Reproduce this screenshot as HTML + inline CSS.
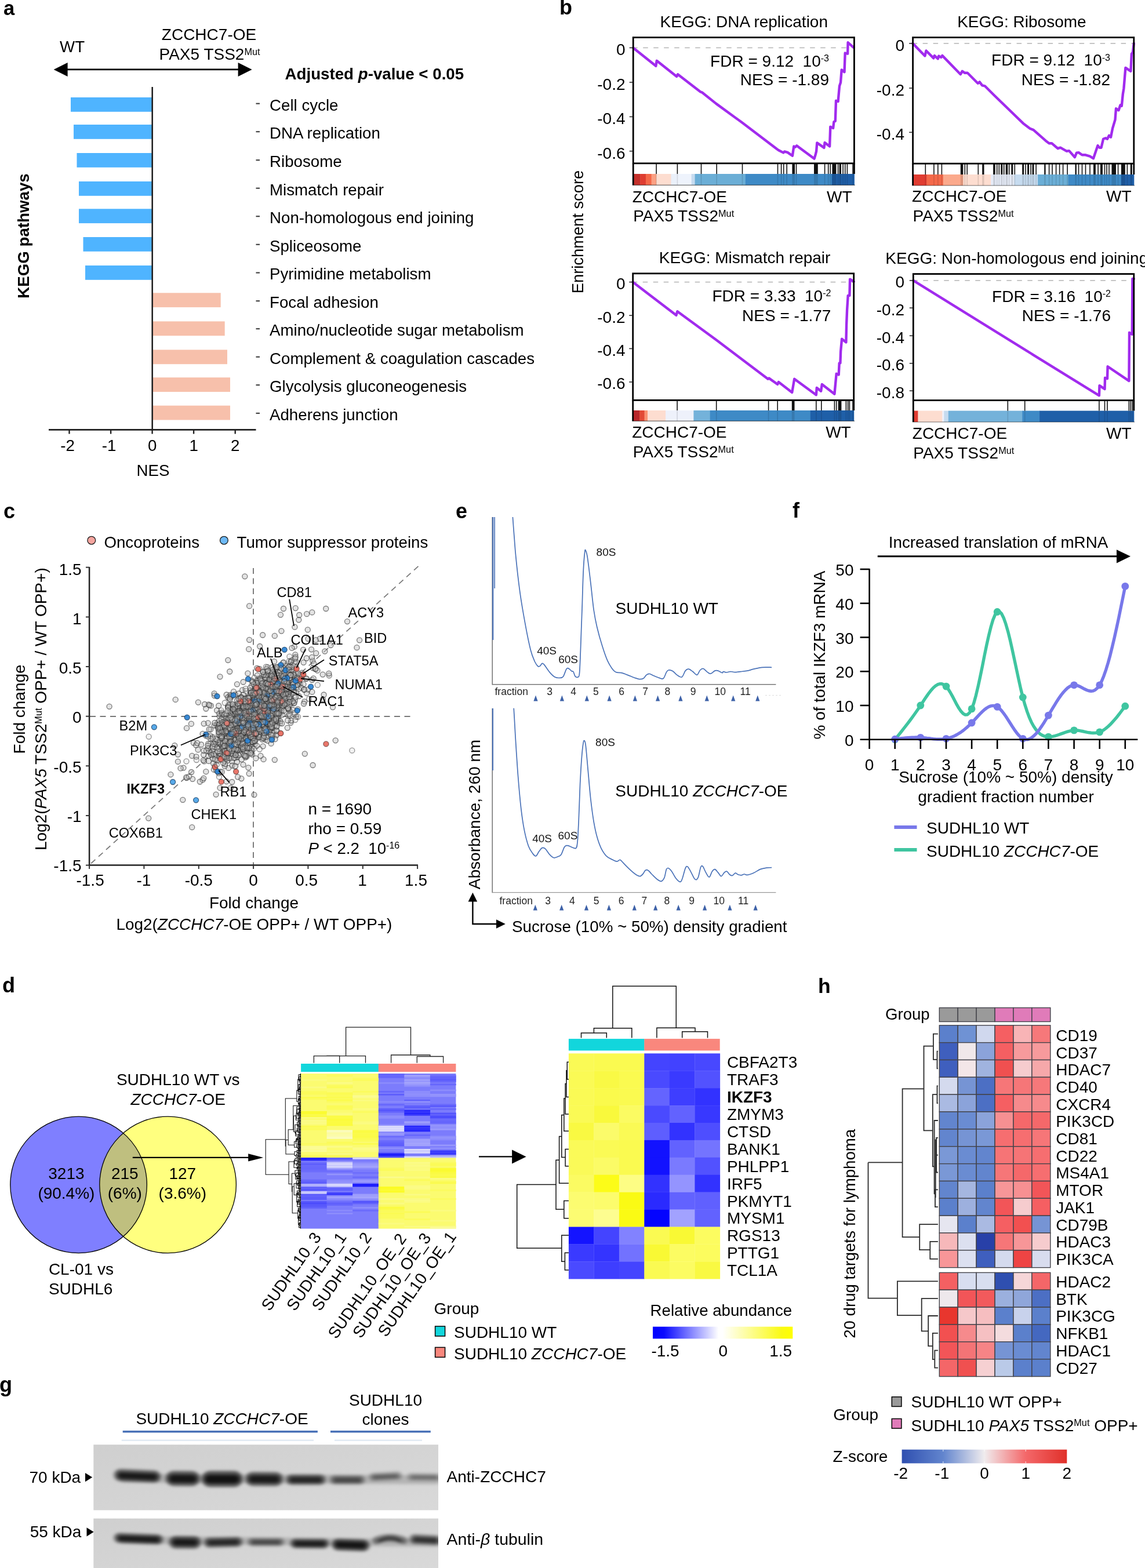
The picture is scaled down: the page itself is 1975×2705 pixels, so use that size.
<!DOCTYPE html>
<html lang="en"><head><meta charset="utf-8"><title>Figure</title>
<style>
html,body{margin:0;padding:0;background:#fff;}
body{width:1975px;height:2705px;overflow:hidden;}
svg{display:block;font-family:"Liberation Sans",sans-serif;font-size:27.7px;fill:#000;}
</style></head><body>
<svg width="1975" height="2705" viewBox="0 0 1975 2705">
<rect width="1975" height="2705" fill="#fff"/>
<g id="panel-a">
<text font-weight="bold" font-size="34.5" x="6" y="26.3">a</text>
<text font-size="27.7" x="103" y="90.2">WT</text>
<text text-anchor="middle" font-size="28" x="360.5" y="69.2">ZCCHC7-OE</text>
<text font-size="28" x="274.6" y="103">PAX5 TSS2<tspan font-size="16.3" dy="-8.5">Mut</tspan></text>
<line x1="110" y1="119.9" x2="418" y2="119.9" stroke="#000" stroke-width="2.6" />
<path d="M92.6 119.9 L116.6 107.9 L116.6 131.9Z" fill="#000"/>
<path d="M434.6 119.9 L410.6 107.9 L410.6 131.9Z" fill="#000"/>
<text font-weight="bold" font-size="27.7" x="491.6" y="137.3">Adjusted <tspan font-style="italic">p</tspan>-value &lt; 0.05</text>
<rect x="122" y="168" width="140.7" height="24.8" fill="#4FB4FF" />
<line x1="441.5" y1="178.7" x2="448" y2="178.7" stroke="#444" stroke-width="2.2" />
<text font-size="27.7" x="465" y="190.5">Cell cycle</text>
<rect x="127" y="215" width="135.7" height="24.8" fill="#4FB4FF" />
<line x1="441.5" y1="227.2" x2="448" y2="227.2" stroke="#444" stroke-width="2.2" />
<text font-size="27.7" x="465" y="239">DNA replication</text>
<rect x="132.5" y="264" width="130.2" height="24.8" fill="#4FB4FF" />
<line x1="441.5" y1="276.2" x2="448" y2="276.2" stroke="#444" stroke-width="2.2" />
<text font-size="27.7" x="465" y="288">Ribosome</text>
<rect x="136" y="313" width="126.7" height="24.8" fill="#4FB4FF" />
<line x1="441.5" y1="324.7" x2="448" y2="324.7" stroke="#444" stroke-width="2.2" />
<text font-size="27.7" x="465" y="336.5">Mismatch repair</text>
<rect x="136" y="360.3" width="126.7" height="24.8" fill="#4FB4FF" />
<line x1="441.5" y1="373.2" x2="448" y2="373.2" stroke="#444" stroke-width="2.2" />
<text font-size="27.7" x="465" y="385">Non-homologous end joining</text>
<rect x="143.5" y="409" width="119.2" height="24.8" fill="#4FB4FF" />
<line x1="441.5" y1="421.8" x2="448" y2="421.8" stroke="#444" stroke-width="2.2" />
<text font-size="27.7" x="465" y="433.6">Spliceosome</text>
<rect x="147" y="458" width="115.7" height="24.8" fill="#4FB4FF" />
<line x1="441.5" y1="470.5" x2="448" y2="470.5" stroke="#444" stroke-width="2.2" />
<text font-size="27.7" x="465" y="482.3">Pyrimidine metabolism</text>
<rect x="262.7" y="505.3" width="118" height="24.8" fill="#F7C0AB" />
<line x1="441.5" y1="519.2" x2="448" y2="519.2" stroke="#444" stroke-width="2.2" />
<text font-size="27.7" x="465" y="531">Focal adhesion</text>
<rect x="262.7" y="554.4" width="125" height="24.8" fill="#F7C0AB" />
<line x1="441.5" y1="567.2" x2="448" y2="567.2" stroke="#444" stroke-width="2.2" />
<text font-size="27.7" x="465" y="579">Amino/nucleotide sugar metabolism</text>
<rect x="262.7" y="603.4" width="129.3" height="24.8" fill="#F7C0AB" />
<line x1="441.5" y1="615.7" x2="448" y2="615.7" stroke="#444" stroke-width="2.2" />
<text font-size="27.7" x="465" y="627.5">Complement &amp; coagulation cascades</text>
<rect x="262.7" y="651.2" width="134.3" height="24.8" fill="#F7C0AB" />
<line x1="441.5" y1="664.2" x2="448" y2="664.2" stroke="#444" stroke-width="2.2" />
<text font-size="27.7" x="465" y="676">Glycolysis gluconeogenesis</text>
<rect x="262.7" y="699.7" width="134.3" height="24.8" fill="#F7C0AB" />
<line x1="441.5" y1="712.9" x2="448" y2="712.9" stroke="#444" stroke-width="2.2" />
<text font-size="27.7" x="465" y="724.7">Adherens junction</text>
<line x1="262.7" y1="150" x2="262.7" y2="742.6" stroke="#222" stroke-width="2.6" />
<line x1="84" y1="741.4" x2="441.5" y2="741.4" stroke="#222" stroke-width="2.6" />
<line x1="119.5" y1="741.4" x2="119.5" y2="748.5" stroke="#222" stroke-width="2.4" />
<text text-anchor="middle" font-size="27.7" x="116.5" y="778">-2</text>
<line x1="191.1" y1="741.4" x2="191.1" y2="748.5" stroke="#222" stroke-width="2.4" />
<text text-anchor="middle" font-size="27.7" x="188.1" y="778">-1</text>
<line x1="262.6" y1="741.4" x2="262.6" y2="748.5" stroke="#222" stroke-width="2.4" />
<text text-anchor="middle" font-size="27.7" x="262.6" y="778">0</text>
<line x1="334.1" y1="741.4" x2="334.1" y2="748.5" stroke="#222" stroke-width="2.4" />
<text text-anchor="middle" font-size="27.7" x="334.1" y="778">1</text>
<line x1="405.7" y1="741.4" x2="405.7" y2="748.5" stroke="#222" stroke-width="2.4" />
<text text-anchor="middle" font-size="27.7" x="405.7" y="778">2</text>
<text text-anchor="middle" font-size="27.7" x="264" y="821">NES</text>
<text text-anchor="middle" font-weight="bold" font-size="27.7" transform="translate(49.6 407) rotate(-90)">KEGG pathways</text>
</g>
<g id="panel-b">
<text font-weight="bold" font-size="36" x="965" y="24.8">b</text>
<text text-anchor="middle" font-size="27.3" transform="translate(1006.3 400) rotate(-90)">Enrichment score</text>
<rect x="1092.2" y="300" width="12.5" height="19.3" fill="#C4302B" />
<rect x="1104.2" y="300" width="10.2" height="19.3" fill="#DE3D31" />
<rect x="1113.9" y="300" width="10.2" height="19.3" fill="#F4694A" />
<rect x="1123.6" y="300" width="9" height="19.3" fill="#FBA083" />
<rect x="1132.1" y="300" width="25.9" height="19.3" fill="#FDDDD0" />
<rect x="1157.5" y="300" width="10.2" height="19.3" fill="#EAF0FA" />
<rect x="1167.2" y="300" width="25.9" height="19.3" fill="#EEF3FC" />
<rect x="1192.6" y="300" width="6.6" height="19.3" fill="#C6DBEF" />
<rect x="1198.6" y="300" width="87.7" height="19.3" fill="#6BAED6" />
<rect x="1285.8" y="300" width="149.4" height="19.3" fill="#3E8AC6" />
<rect x="1434.7" y="300" width="39.2" height="19.3" fill="#1F5FA8" />
<line x1="1132.1" y1="281.8" x2="1132.1" y2="300" stroke="#111" stroke-width="1.6" />
<line x1="1132.1" y1="300" x2="1132.1" y2="319.3" stroke="#000" stroke-width="1.6" opacity="0.12"/>
<line x1="1168.4" y1="281.8" x2="1168.4" y2="300" stroke="#111" stroke-width="1.6" />
<line x1="1168.4" y1="300" x2="1168.4" y2="319.3" stroke="#000" stroke-width="1.6" opacity="0.12"/>
<line x1="1209.5" y1="281.8" x2="1209.5" y2="300" stroke="#111" stroke-width="1.6" />
<line x1="1209.5" y1="300" x2="1209.5" y2="319.3" stroke="#000" stroke-width="1.6" opacity="0.12"/>
<line x1="1236.2" y1="281.8" x2="1236.2" y2="300" stroke="#111" stroke-width="1.6" />
<line x1="1236.2" y1="300" x2="1236.2" y2="319.3" stroke="#000" stroke-width="1.6" opacity="0.12"/>
<line x1="1280.5" y1="281.8" x2="1280.5" y2="300" stroke="#111" stroke-width="1.6" />
<line x1="1280.5" y1="300" x2="1280.5" y2="319.3" stroke="#000" stroke-width="1.6" opacity="0.12"/>
<line x1="1341.5" y1="281.8" x2="1341.5" y2="300" stroke="#111" stroke-width="1.6" />
<line x1="1341.5" y1="300" x2="1341.5" y2="319.3" stroke="#000" stroke-width="1.6" opacity="0.12"/>
<line x1="1347.6" y1="281.8" x2="1347.6" y2="300" stroke="#111" stroke-width="1.6" />
<line x1="1347.6" y1="300" x2="1347.6" y2="319.3" stroke="#000" stroke-width="1.6" opacity="0.12"/>
<line x1="1351.7" y1="281.8" x2="1351.7" y2="300" stroke="#111" stroke-width="1.6" />
<line x1="1351.7" y1="300" x2="1351.7" y2="319.3" stroke="#000" stroke-width="1.6" opacity="0.12"/>
<line x1="1357.2" y1="281.8" x2="1357.2" y2="300" stroke="#111" stroke-width="1.6" />
<line x1="1357.2" y1="300" x2="1357.2" y2="319.3" stroke="#000" stroke-width="1.6" opacity="0.12"/>
<rect x="1366.4" y="281.8" width="4.6" height="18.2" fill="#111" />
<rect x="1366.4" y="300" width="4.6" height="19.3" fill="#000" opacity="0.12"/>
<line x1="1373.5" y1="281.8" x2="1373.5" y2="300" stroke="#111" stroke-width="1.6" />
<line x1="1373.5" y1="300" x2="1373.5" y2="319.3" stroke="#000" stroke-width="1.6" opacity="0.12"/>
<rect x="1404" y="281.8" width="6.8" height="18.2" fill="#111" />
<rect x="1404" y="300" width="6.8" height="19.3" fill="#000" opacity="0.12"/>
<line x1="1422.6" y1="281.8" x2="1422.6" y2="300" stroke="#111" stroke-width="1.6" />
<line x1="1422.6" y1="300" x2="1422.6" y2="319.3" stroke="#000" stroke-width="1.6" opacity="0.12"/>
<line x1="1428.7" y1="281.8" x2="1428.7" y2="300" stroke="#111" stroke-width="1.6" />
<line x1="1428.7" y1="300" x2="1428.7" y2="319.3" stroke="#000" stroke-width="1.6" opacity="0.12"/>
<line x1="1432.3" y1="281.8" x2="1432.3" y2="300" stroke="#111" stroke-width="1.6" />
<line x1="1432.3" y1="300" x2="1432.3" y2="319.3" stroke="#000" stroke-width="1.6" opacity="0.12"/>
<rect x="1435.4" y="281.8" width="7" height="18.2" fill="#111" />
<rect x="1435.4" y="300" width="7" height="19.3" fill="#000" opacity="0.12"/>
<line x1="1445.6" y1="281.8" x2="1445.6" y2="300" stroke="#111" stroke-width="1.6" />
<line x1="1445.6" y1="300" x2="1445.6" y2="319.3" stroke="#000" stroke-width="1.6" opacity="0.12"/>
<rect x="1447.6" y="281.8" width="3.4" height="18.2" fill="#111" />
<rect x="1447.6" y="300" width="3.4" height="19.3" fill="#000" opacity="0.12"/>
<line x1="1454.1" y1="281.8" x2="1454.1" y2="300" stroke="#111" stroke-width="1.6" />
<line x1="1454.1" y1="300" x2="1454.1" y2="319.3" stroke="#000" stroke-width="1.6" opacity="0.12"/>
<line x1="1457.7" y1="281.8" x2="1457.7" y2="300" stroke="#111" stroke-width="1.6" />
<line x1="1457.7" y1="300" x2="1457.7" y2="319.3" stroke="#000" stroke-width="1.6" opacity="0.12"/>
<line x1="1461.4" y1="281.8" x2="1461.4" y2="300" stroke="#111" stroke-width="1.6" />
<line x1="1461.4" y1="300" x2="1461.4" y2="319.3" stroke="#000" stroke-width="1.6" opacity="0.12"/>
<line x1="1471" y1="281.8" x2="1471" y2="300" stroke="#111" stroke-width="1.6" />
<line x1="1471" y1="300" x2="1471" y2="319.3" stroke="#000" stroke-width="1.6" opacity="0.12"/>
<line x1="1092.2" y1="82.4" x2="1473.4" y2="82.4" stroke="#BDBDBD" stroke-width="1.6" stroke-dasharray="8.5 9.5" stroke-dashoffset="-17"/>
<path d="M1092.1 82.5 L1131.3 113.8 L1132.8 104.8 L1167.2 131.9 L1169.1 128.3 L1208.3 158.5 L1210.8 159.3 L1235 178.6 L1279.8 211.3 L1340.3 257.3 L1342.7 259 L1351.2 263.4 L1353.1 261.5 L1358.5 262.9 L1360.9 264.6 L1366.9 268.7 L1369.3 252.5 L1371.8 253.7 L1374.2 251.3 L1404.5 273.8 L1406.9 265.8 L1408.1 261 L1409.3 246.4 L1421.4 254.9 L1422.6 246 L1431.1 252.5 L1432.3 218.6 L1437.1 221 L1438.4 210.1 L1440.8 208.9 L1442 173.8 L1445.6 175 L1448 148.4 L1450 142.3 L1451.7 120.5 L1456.5 124.2 L1457.7 91.5 L1462.1 92.7 L1462.6 73.3 L1472.3 81.8" fill="none" stroke="#A12BEE" stroke-width="4.4" stroke-linejoin="round" stroke-linecap="round"/>
<rect x="1092.2" y="64.6" width="381.2" height="217.2" fill="none" stroke="#000" stroke-width="2.8" />
<line x1="1092.2" y1="281.8" x2="1092.2" y2="319.3" stroke="#000" stroke-width="2.8" />
<line x1="1473.4" y1="281.8" x2="1473.4" y2="300" stroke="#000" stroke-width="2.8" />
<line x1="1090.8" y1="319.3" x2="1474.8" y2="319.3" stroke="#000" stroke-width="1.2" opacity="0.55"/>
<line x1="1085.7" y1="82.4" x2="1091.2" y2="82.4" stroke="#333" stroke-width="1.6" />
<text text-anchor="end" font-size="28" x="1078.5" y="95.4">0</text>
<line x1="1085.7" y1="142" x2="1091.2" y2="142" stroke="#333" stroke-width="1.6" />
<text text-anchor="end" font-size="28" x="1078.5" y="155">-0.2</text>
<line x1="1085.7" y1="201.4" x2="1091.2" y2="201.4" stroke="#333" stroke-width="1.6" />
<text text-anchor="end" font-size="28" x="1078.5" y="214.4">-0.4</text>
<line x1="1085.7" y1="260.7" x2="1091.2" y2="260.7" stroke="#333" stroke-width="1.6" />
<text text-anchor="end" font-size="28" x="1078.5" y="273.7">-0.6</text>
<text text-anchor="middle" font-size="28" x="1283.3" y="47.3">KEGG: DNA replication</text>
<text text-anchor="end" font-size="28" x="1430" y="115">FDR = 9.12  10<tspan font-size="16" dy="-8.8">-3</tspan></text>
<text text-anchor="end" font-size="28" x="1430" y="147.2">NES = -1.89</text>
<text font-size="28" x="1090.7" y="348.6">ZCCHC7-OE</text>
<text font-size="28" x="1092.2" y="382">PAX5 TSS2<tspan font-size="16.3" dy="-8.5">Mut</tspan></text>
<text text-anchor="end" font-size="28" x="1469.5" y="348.6">WT</text>
<rect x="1574.6" y="301" width="24.3" height="19" fill="#E03C31" />
<rect x="1598.4" y="301" width="29" height="19" fill="#F4694A" />
<rect x="1626.8" y="301" width="35" height="19" fill="#FBA98C" />
<rect x="1661.3" y="301" width="48.4" height="19" fill="#FDDDD0" />
<rect x="1709.2" y="301" width="41" height="19" fill="#E6ECF8" />
<rect x="1749.7" y="301" width="41" height="19" fill="#C6DBEF" />
<rect x="1790.1" y="301" width="52.9" height="19" fill="#6BAED6" />
<rect x="1842.6" y="301" width="91.9" height="19" fill="#3E8AC6" />
<rect x="1933.9" y="301" width="22.4" height="19" fill="#1F5FA8" />
<line x1="1596.3" y1="282.2" x2="1596.3" y2="301" stroke="#111" stroke-width="1.6" />
<line x1="1596.3" y1="301" x2="1596.3" y2="320" stroke="#000" stroke-width="1.6" opacity="0.12"/>
<line x1="1610.9" y1="282.2" x2="1610.9" y2="301" stroke="#111" stroke-width="1.6" />
<line x1="1610.9" y1="301" x2="1610.9" y2="320" stroke="#000" stroke-width="1.6" opacity="0.12"/>
<line x1="1617.8" y1="282.2" x2="1617.8" y2="301" stroke="#111" stroke-width="1.6" />
<line x1="1617.8" y1="301" x2="1617.8" y2="320" stroke="#000" stroke-width="1.6" opacity="0.12"/>
<line x1="1624.4" y1="282.2" x2="1624.4" y2="301" stroke="#111" stroke-width="1.6" />
<line x1="1624.4" y1="301" x2="1624.4" y2="320" stroke="#000" stroke-width="1.6" opacity="0.12"/>
<rect x="1656.8" y="282.2" width="4.5" height="18.8" fill="#111" />
<rect x="1656.8" y="301" width="4.5" height="19" fill="#000" opacity="0.12"/>
<line x1="1664.3" y1="282.2" x2="1664.3" y2="301" stroke="#111" stroke-width="1.6" />
<line x1="1664.3" y1="301" x2="1664.3" y2="320" stroke="#000" stroke-width="1.6" opacity="0.12"/>
<line x1="1668.2" y1="282.2" x2="1668.2" y2="301" stroke="#111" stroke-width="1.6" />
<line x1="1668.2" y1="301" x2="1668.2" y2="320" stroke="#000" stroke-width="1.6" opacity="0.12"/>
<line x1="1687.3" y1="282.2" x2="1687.3" y2="301" stroke="#111" stroke-width="1.6" />
<line x1="1687.3" y1="301" x2="1687.3" y2="320" stroke="#000" stroke-width="1.6" opacity="0.12"/>
<rect x="1694.2" y="282.2" width="3.3" height="18.8" fill="#111" />
<rect x="1694.2" y="301" width="3.3" height="19" fill="#000" opacity="0.12"/>
<rect x="1713.1" y="282.2" width="3.6" height="18.8" fill="#111" />
<rect x="1713.1" y="301" width="3.6" height="19" fill="#000" opacity="0.12"/>
<line x1="1719.7" y1="282.2" x2="1719.7" y2="301" stroke="#111" stroke-width="1.6" />
<line x1="1719.7" y1="301" x2="1719.7" y2="320" stroke="#000" stroke-width="1.6" opacity="0.12"/>
<line x1="1723.3" y1="282.2" x2="1723.3" y2="301" stroke="#111" stroke-width="1.6" />
<line x1="1723.3" y1="301" x2="1723.3" y2="320" stroke="#000" stroke-width="1.6" opacity="0.12"/>
<rect x="1726.3" y="282.2" width="3" height="18.8" fill="#111" />
<rect x="1726.3" y="301" width="3" height="19" fill="#000" opacity="0.12"/>
<line x1="1731.7" y1="282.2" x2="1731.7" y2="301" stroke="#111" stroke-width="1.6" />
<line x1="1731.7" y1="301" x2="1731.7" y2="320" stroke="#000" stroke-width="1.6" opacity="0.12"/>
<rect x="1734.7" y="282.2" width="3.6" height="18.8" fill="#111" />
<rect x="1734.7" y="301" width="3.6" height="19" fill="#000" opacity="0.12"/>
<line x1="1740.7" y1="282.2" x2="1740.7" y2="301" stroke="#111" stroke-width="1.6" />
<line x1="1740.7" y1="301" x2="1740.7" y2="320" stroke="#000" stroke-width="1.6" opacity="0.12"/>
<rect x="1744.3" y="282.2" width="3" height="18.8" fill="#111" />
<rect x="1744.3" y="301" width="3" height="19" fill="#000" opacity="0.12"/>
<line x1="1750.3" y1="282.2" x2="1750.3" y2="301" stroke="#111" stroke-width="1.6" />
<line x1="1750.3" y1="301" x2="1750.3" y2="320" stroke="#000" stroke-width="1.6" opacity="0.12"/>
<rect x="1763.2" y="282.2" width="3" height="18.8" fill="#111" />
<rect x="1763.2" y="301" width="3" height="19" fill="#000" opacity="0.12"/>
<line x1="1769.1" y1="282.2" x2="1769.1" y2="301" stroke="#111" stroke-width="1.6" />
<line x1="1769.1" y1="301" x2="1769.1" y2="320" stroke="#000" stroke-width="1.6" opacity="0.12"/>
<rect x="1772.1" y="282.2" width="3" height="18.8" fill="#111" />
<rect x="1772.1" y="301" width="3" height="19" fill="#000" opacity="0.12"/>
<line x1="1778.1" y1="282.2" x2="1778.1" y2="301" stroke="#111" stroke-width="1.6" />
<line x1="1778.1" y1="301" x2="1778.1" y2="320" stroke="#000" stroke-width="1.6" opacity="0.12"/>
<rect x="1780.5" y="282.2" width="3" height="18.8" fill="#111" />
<rect x="1780.5" y="301" width="3" height="19" fill="#000" opacity="0.12"/>
<line x1="1787.1" y1="282.2" x2="1787.1" y2="301" stroke="#111" stroke-width="1.6" />
<line x1="1787.1" y1="301" x2="1787.1" y2="320" stroke="#000" stroke-width="1.6" opacity="0.12"/>
<rect x="1801.2" y="282.2" width="2.4" height="18.8" fill="#111" />
<rect x="1801.2" y="301" width="2.4" height="19" fill="#000" opacity="0.12"/>
<line x1="1809.6" y1="282.2" x2="1809.6" y2="301" stroke="#111" stroke-width="1.6" />
<line x1="1809.6" y1="301" x2="1809.6" y2="320" stroke="#000" stroke-width="1.6" opacity="0.12"/>
<line x1="1815" y1="282.2" x2="1815" y2="301" stroke="#111" stroke-width="1.6" />
<line x1="1815" y1="301" x2="1815" y2="320" stroke="#000" stroke-width="1.6" opacity="0.12"/>
<line x1="1821.6" y1="282.2" x2="1821.6" y2="301" stroke="#111" stroke-width="1.6" />
<line x1="1821.6" y1="301" x2="1821.6" y2="320" stroke="#000" stroke-width="1.6" opacity="0.12"/>
<line x1="1827.6" y1="282.2" x2="1827.6" y2="301" stroke="#111" stroke-width="1.6" />
<line x1="1827.6" y1="301" x2="1827.6" y2="320" stroke="#000" stroke-width="1.6" opacity="0.12"/>
<line x1="1833.6" y1="282.2" x2="1833.6" y2="301" stroke="#111" stroke-width="1.6" />
<line x1="1833.6" y1="301" x2="1833.6" y2="320" stroke="#000" stroke-width="1.6" opacity="0.12"/>
<line x1="1841.1" y1="282.2" x2="1841.1" y2="301" stroke="#111" stroke-width="1.6" />
<line x1="1841.1" y1="301" x2="1841.1" y2="320" stroke="#000" stroke-width="1.6" opacity="0.12"/>
<rect x="1854.5" y="282.2" width="2.4" height="18.8" fill="#111" />
<rect x="1854.5" y="301" width="2.4" height="19" fill="#000" opacity="0.12"/>
<line x1="1860.5" y1="282.2" x2="1860.5" y2="301" stroke="#111" stroke-width="1.6" />
<line x1="1860.5" y1="301" x2="1860.5" y2="320" stroke="#000" stroke-width="1.6" opacity="0.12"/>
<line x1="1866.5" y1="282.2" x2="1866.5" y2="301" stroke="#111" stroke-width="1.6" />
<line x1="1866.5" y1="301" x2="1866.5" y2="320" stroke="#000" stroke-width="1.6" opacity="0.12"/>
<line x1="1872.5" y1="282.2" x2="1872.5" y2="301" stroke="#111" stroke-width="1.6" />
<line x1="1872.5" y1="301" x2="1872.5" y2="320" stroke="#000" stroke-width="1.6" opacity="0.12"/>
<line x1="1880" y1="282.2" x2="1880" y2="301" stroke="#111" stroke-width="1.6" />
<line x1="1880" y1="301" x2="1880" y2="320" stroke="#000" stroke-width="1.6" opacity="0.12"/>
<rect x="1886" y="282.2" width="3.9" height="18.8" fill="#111" />
<rect x="1886" y="301" width="3.9" height="19" fill="#000" opacity="0.12"/>
<line x1="1894.1" y1="282.2" x2="1894.1" y2="301" stroke="#111" stroke-width="1.6" />
<line x1="1894.1" y1="301" x2="1894.1" y2="320" stroke="#000" stroke-width="1.6" opacity="0.12"/>
<rect x="1898" y="282.2" width="3.9" height="18.8" fill="#111" />
<rect x="1898" y="301" width="3.9" height="19" fill="#000" opacity="0.12"/>
<line x1="1905.5" y1="282.2" x2="1905.5" y2="301" stroke="#111" stroke-width="1.6" />
<line x1="1905.5" y1="301" x2="1905.5" y2="320" stroke="#000" stroke-width="1.6" opacity="0.12"/>
<line x1="1909.1" y1="282.2" x2="1909.1" y2="301" stroke="#111" stroke-width="1.6" />
<line x1="1909.1" y1="301" x2="1909.1" y2="320" stroke="#000" stroke-width="1.6" opacity="0.12"/>
<line x1="1913" y1="282.2" x2="1913" y2="301" stroke="#111" stroke-width="1.6" />
<line x1="1913" y1="301" x2="1913" y2="320" stroke="#000" stroke-width="1.6" opacity="0.12"/>
<rect x="1917.5" y="282.2" width="7.5" height="18.8" fill="#111" />
<rect x="1917.5" y="301" width="7.5" height="19" fill="#000" opacity="0.12"/>
<line x1="1928.6" y1="282.2" x2="1928.6" y2="301" stroke="#111" stroke-width="1.6" />
<line x1="1928.6" y1="301" x2="1928.6" y2="320" stroke="#000" stroke-width="1.6" opacity="0.12"/>
<rect x="1933.9" y="282.2" width="6.9" height="18.8" fill="#111" />
<rect x="1933.9" y="301" width="6.9" height="19" fill="#000" opacity="0.12"/>
<line x1="1944.4" y1="282.2" x2="1944.4" y2="301" stroke="#111" stroke-width="1.6" />
<line x1="1944.4" y1="301" x2="1944.4" y2="320" stroke="#000" stroke-width="1.6" opacity="0.12"/>
<rect x="1949.8" y="282.2" width="3" height="18.8" fill="#111" />
<rect x="1949.8" y="301" width="3" height="19" fill="#000" opacity="0.12"/>
<line x1="1574.6" y1="74.9" x2="1955.8" y2="74.9" stroke="#BDBDBD" stroke-width="1.6" stroke-dasharray="8.5 9.5" stroke-dashoffset="-17"/>
<path d="M1574.4 74.9 L1595.4 96.5 L1597.5 87.5 L1610.3 100.4 L1611.8 95.9 L1617.8 101.3 L1619.3 96.5 L1623.2 98.9 L1625.3 95.9 L1656.8 128.2 L1659.8 122.9 L1664.3 125.8 L1668.8 125.8 L1686.7 143.8 L1689.7 141.4 L1694.2 147.4 L1698.7 148.3 L1713.7 163.3 L1764.7 212.7 L1776.6 221.7 L1782.6 224.1 L1803.6 242.7 L1809.6 247.2 L1814.1 247.2 L1824.6 256.2 L1829.1 254.7 L1839.6 260.7 L1844.1 260.1 L1853.9 271.2 L1856.9 263.7 L1860.5 263.1 L1866.5 267.3 L1872.5 267.3 L1880 269.7 L1886 273.3 L1893.5 251.1 L1896.5 254.7 L1899.5 254.7 L1903.1 239.7 L1907 238.2 L1910 239.7 L1913 233.7 L1916 236.7 L1919 221.7 L1923.5 206.7 L1925 187.3 L1929.5 190.3 L1932.5 181.3 L1934.8 182.8 L1936.9 161.8 L1938.4 152.8 L1941.4 116.9 L1950.4 122.9 L1951.9 92.9 L1954 89.9 L1955.8 74.9" fill="none" stroke="#A12BEE" stroke-width="4.4" stroke-linejoin="round" stroke-linecap="round"/>
<rect x="1574.6" y="64.6" width="381.2" height="217.6" fill="none" stroke="#000" stroke-width="2.8" />
<line x1="1574.6" y1="282.2" x2="1574.6" y2="320" stroke="#000" stroke-width="2.8" />
<line x1="1955.8" y1="282.2" x2="1955.8" y2="301" stroke="#000" stroke-width="2.8" />
<line x1="1573.2" y1="320" x2="1957.2" y2="320" stroke="#000" stroke-width="1.2" opacity="0.55"/>
<line x1="1568.1" y1="74.9" x2="1573.6" y2="74.9" stroke="#333" stroke-width="1.6" />
<text text-anchor="end" font-size="28" x="1560" y="87.9">0</text>
<line x1="1568.1" y1="152" x2="1573.6" y2="152" stroke="#333" stroke-width="1.6" />
<text text-anchor="end" font-size="28" x="1560" y="165">-0.2</text>
<line x1="1568.1" y1="228.3" x2="1573.6" y2="228.3" stroke="#333" stroke-width="1.6" />
<text text-anchor="end" font-size="28" x="1560" y="241.3">-0.4</text>
<text text-anchor="middle" font-size="28" x="1762.4" y="47.3">KEGG: Ribosome</text>
<text text-anchor="end" font-size="28" x="1915" y="113.3">FDR = 9.12  10<tspan font-size="16" dy="-8.8">-3</tspan></text>
<text text-anchor="end" font-size="28" x="1915" y="147.4">NES = -1.82</text>
<text font-size="28" x="1573.1" y="347.6">ZCCHC7-OE</text>
<text font-size="28" x="1574.6" y="382">PAX5 TSS2<tspan font-size="16.3" dy="-8.5">Mut</tspan></text>
<text text-anchor="end" font-size="28" x="1951.5" y="347.6">WT</text>
<rect x="1091.7" y="708" width="12" height="18.3" fill="#B7262A" />
<rect x="1103.2" y="708" width="8.8" height="18.3" fill="#E24A36" />
<rect x="1111.5" y="708" width="6.2" height="18.3" fill="#FA9272" />
<rect x="1117.1" y="708" width="31.5" height="18.3" fill="#FDDDD0" />
<rect x="1148.1" y="708" width="48.8" height="18.3" fill="#EEF1FB" />
<rect x="1196.4" y="708" width="28.8" height="18.3" fill="#74B2DA" />
<rect x="1224.7" y="708" width="173.6" height="18.3" fill="#3E8AC6" />
<rect x="1397.8" y="708" width="75.4" height="18.3" fill="#1F5FA8" />
<line x1="1168.1" y1="690.4" x2="1168.1" y2="708" stroke="#111" stroke-width="1.6" />
<line x1="1168.1" y1="708" x2="1168.1" y2="726.3" stroke="#000" stroke-width="1.6" opacity="0.12"/>
<line x1="1235.7" y1="690.4" x2="1235.7" y2="708" stroke="#111" stroke-width="1.6" />
<line x1="1235.7" y1="708" x2="1235.7" y2="726.3" stroke="#000" stroke-width="1.6" opacity="0.12"/>
<line x1="1325.6" y1="690.4" x2="1325.6" y2="708" stroke="#111" stroke-width="1.6" />
<line x1="1325.6" y1="708" x2="1325.6" y2="726.3" stroke="#000" stroke-width="1.6" opacity="0.12"/>
<line x1="1341.2" y1="690.4" x2="1341.2" y2="708" stroke="#111" stroke-width="1.6" />
<line x1="1341.2" y1="708" x2="1341.2" y2="726.3" stroke="#000" stroke-width="1.6" opacity="0.12"/>
<rect x="1365.8" y="690.4" width="4.7" height="17.6" fill="#111" />
<rect x="1365.8" y="708" width="4.7" height="18.3" fill="#000" opacity="0.12"/>
<line x1="1407.8" y1="690.4" x2="1407.8" y2="708" stroke="#111" stroke-width="1.6" />
<line x1="1407.8" y1="708" x2="1407.8" y2="726.3" stroke="#000" stroke-width="1.6" opacity="0.12"/>
<line x1="1416.8" y1="690.4" x2="1416.8" y2="708" stroke="#111" stroke-width="1.6" />
<line x1="1416.8" y1="708" x2="1416.8" y2="726.3" stroke="#000" stroke-width="1.6" opacity="0.12"/>
<line x1="1439.4" y1="690.4" x2="1439.4" y2="708" stroke="#111" stroke-width="1.6" />
<line x1="1439.4" y1="708" x2="1439.4" y2="726.3" stroke="#000" stroke-width="1.6" opacity="0.12"/>
<line x1="1442.7" y1="690.4" x2="1442.7" y2="708" stroke="#111" stroke-width="1.6" />
<line x1="1442.7" y1="708" x2="1442.7" y2="726.3" stroke="#000" stroke-width="1.6" opacity="0.12"/>
<rect x="1445.7" y="690.4" width="5.7" height="17.6" fill="#111" />
<rect x="1445.7" y="708" width="5.7" height="18.3" fill="#000" opacity="0.12"/>
<line x1="1459.4" y1="690.4" x2="1459.4" y2="708" stroke="#111" stroke-width="1.6" />
<line x1="1459.4" y1="708" x2="1459.4" y2="726.3" stroke="#000" stroke-width="1.6" opacity="0.12"/>
<line x1="1462.7" y1="690.4" x2="1462.7" y2="708" stroke="#111" stroke-width="1.6" />
<line x1="1462.7" y1="708" x2="1462.7" y2="726.3" stroke="#000" stroke-width="1.6" opacity="0.12"/>
<line x1="1465.4" y1="690.4" x2="1465.4" y2="708" stroke="#111" stroke-width="1.6" />
<line x1="1465.4" y1="708" x2="1465.4" y2="726.3" stroke="#000" stroke-width="1.6" opacity="0.12"/>
<line x1="1471" y1="690.4" x2="1471" y2="708" stroke="#111" stroke-width="1.6" />
<line x1="1471" y1="708" x2="1471" y2="726.3" stroke="#000" stroke-width="1.6" opacity="0.12"/>
<line x1="1091.7" y1="486.6" x2="1472.7" y2="486.6" stroke="#BDBDBD" stroke-width="1.6" stroke-dasharray="8.5 9.5" stroke-dashoffset="-17"/>
<path d="M1091.5 486.6 L1166.4 543.8 L1168.4 537.2 L1236.3 587.1 L1324.6 653.7 L1326.2 652.4 L1341.2 663 L1342.9 659 L1366.2 677 L1370.2 653.7 L1407.8 681.3 L1408.8 669 L1416.1 674.7 L1417.8 663 L1439.4 679.7 L1442.7 644.7 L1446.7 646.4 L1447.7 626.4 L1449.4 626.4 L1450.1 606.4 L1452.1 584.8 L1459.4 590.4 L1460.1 559.8 L1461.1 534.8 L1462.7 509.9 L1465.4 509.9 L1466.1 481.6 L1472.7 485.9" fill="none" stroke="#A12BEE" stroke-width="4.4" stroke-linejoin="round" stroke-linecap="round"/>
<rect x="1091.7" y="471.8" width="381" height="218.6" fill="none" stroke="#000" stroke-width="2.8" />
<line x1="1091.7" y1="690.4" x2="1091.7" y2="726.3" stroke="#000" stroke-width="2.8" />
<line x1="1472.7" y1="690.4" x2="1472.7" y2="708" stroke="#000" stroke-width="2.8" />
<line x1="1090.3" y1="726.3" x2="1474.1" y2="726.3" stroke="#000" stroke-width="1.2" opacity="0.55"/>
<line x1="1085.2" y1="486.6" x2="1090.7" y2="486.6" stroke="#333" stroke-width="1.6" />
<text text-anchor="end" font-size="28" x="1078.5" y="498.9">0</text>
<line x1="1085.2" y1="544.2" x2="1090.7" y2="544.2" stroke="#333" stroke-width="1.6" />
<text text-anchor="end" font-size="28" x="1078.5" y="556.5">-0.2</text>
<line x1="1085.2" y1="601.4" x2="1090.7" y2="601.4" stroke="#333" stroke-width="1.6" />
<text text-anchor="end" font-size="28" x="1078.5" y="613.7">-0.4</text>
<line x1="1085.2" y1="659" x2="1090.7" y2="659" stroke="#333" stroke-width="1.6" />
<text text-anchor="end" font-size="28" x="1078.5" y="671.3">-0.6</text>
<text text-anchor="middle" font-size="28" x="1284.6" y="454">KEGG: Mismatch repair</text>
<text text-anchor="end" font-size="28" x="1433.4" y="520">FDR = 3.33  10<tspan font-size="16" dy="-8.8">-2</tspan></text>
<text text-anchor="end" font-size="28" x="1433.4" y="554">NES = -1.77</text>
<text font-size="28" x="1090.2" y="754.6">ZCCHC7-OE</text>
<text font-size="28" x="1091.7" y="789">PAX5 TSS2<tspan font-size="16.3" dy="-8.5">Mut</tspan></text>
<text text-anchor="end" font-size="28" x="1467.7" y="754.6">WT</text>
<rect x="1575.3" y="708.6" width="8.6" height="19.4" fill="#E03C31" />
<rect x="1583.4" y="708.6" width="42.4" height="19.4" fill="#FDDDD0" />
<rect x="1625.3" y="708.6" width="3.5" height="19.4" fill="#EEF1FB" />
<rect x="1628.3" y="708.6" width="8" height="19.4" fill="#C6DBEF" />
<rect x="1635.8" y="708.6" width="127.8" height="19.4" fill="#74B2DA" />
<rect x="1763.2" y="708.6" width="30.5" height="19.4" fill="#3E8AC6" />
<rect x="1793.1" y="708.6" width="163.2" height="19.4" fill="#1F5FA8" />
<line x1="1738.3" y1="690.6" x2="1738.3" y2="708.6" stroke="#111" stroke-width="1.6" />
<line x1="1738.3" y1="708.6" x2="1738.3" y2="728" stroke="#000" stroke-width="1.6" opacity="0.12"/>
<line x1="1767.7" y1="690.6" x2="1767.7" y2="708.6" stroke="#111" stroke-width="1.6" />
<line x1="1767.7" y1="708.6" x2="1767.7" y2="728" stroke="#000" stroke-width="1.6" opacity="0.12"/>
<line x1="1895.9" y1="690.6" x2="1895.9" y2="708.6" stroke="#111" stroke-width="1.6" />
<line x1="1895.9" y1="708.6" x2="1895.9" y2="728" stroke="#000" stroke-width="1.6" opacity="0.12"/>
<line x1="1905.5" y1="690.6" x2="1905.5" y2="708.6" stroke="#111" stroke-width="1.6" />
<line x1="1905.5" y1="708.6" x2="1905.5" y2="728" stroke="#000" stroke-width="1.6" opacity="0.12"/>
<line x1="1910" y1="690.6" x2="1910" y2="708.6" stroke="#111" stroke-width="1.6" />
<line x1="1910" y1="708.6" x2="1910" y2="728" stroke="#000" stroke-width="1.6" opacity="0.12"/>
<line x1="1947.4" y1="690.6" x2="1947.4" y2="708.6" stroke="#111" stroke-width="1.6" />
<line x1="1947.4" y1="708.6" x2="1947.4" y2="728" stroke="#000" stroke-width="1.6" opacity="0.12"/>
<line x1="1950.4" y1="690.6" x2="1950.4" y2="708.6" stroke="#111" stroke-width="1.6" />
<line x1="1950.4" y1="708.6" x2="1950.4" y2="728" stroke="#000" stroke-width="1.6" opacity="0.12"/>
<line x1="1953.4" y1="690.6" x2="1953.4" y2="708.6" stroke="#111" stroke-width="1.6" />
<line x1="1953.4" y1="708.6" x2="1953.4" y2="728" stroke="#000" stroke-width="1.6" opacity="0.12"/>
<line x1="1575.3" y1="483.9" x2="1955.8" y2="483.9" stroke="#BDBDBD" stroke-width="1.6" stroke-dasharray="8.5 9.5" stroke-dashoffset="-17"/>
<path d="M1575.3 483.9 L1767.7 603.2 L1895.9 682.3 L1896.5 665.2 L1905.5 671.2 L1906.1 651.7 L1910 653.2 L1910.6 632.2 L1947.4 657.1 L1948 573.8 L1952.8 576.8 L1953.4 480.9 L1955.8 480.9" fill="none" stroke="#A12BEE" stroke-width="4.4" stroke-linejoin="round" stroke-linecap="round"/>
<rect x="1575.3" y="472.6" width="380.5" height="218" fill="none" stroke="#000" stroke-width="2.8" />
<line x1="1575.3" y1="690.6" x2="1575.3" y2="728" stroke="#000" stroke-width="2.8" />
<line x1="1955.8" y1="690.6" x2="1955.8" y2="708.6" stroke="#000" stroke-width="2.8" />
<line x1="1573.9" y1="728" x2="1957.2" y2="728" stroke="#000" stroke-width="1.2" opacity="0.55"/>
<line x1="1568.8" y1="483.9" x2="1574.3" y2="483.9" stroke="#333" stroke-width="1.6" />
<text text-anchor="end" font-size="28" x="1560" y="496.2">0</text>
<line x1="1568.8" y1="531.2" x2="1574.3" y2="531.2" stroke="#333" stroke-width="1.6" />
<text text-anchor="end" font-size="28" x="1560" y="543.5">-0.2</text>
<line x1="1568.8" y1="579.2" x2="1574.3" y2="579.2" stroke="#333" stroke-width="1.6" />
<text text-anchor="end" font-size="28" x="1560" y="591.5">-0.4</text>
<line x1="1568.8" y1="626.8" x2="1574.3" y2="626.8" stroke="#333" stroke-width="1.6" />
<text text-anchor="end" font-size="28" x="1560" y="639.1">-0.6</text>
<line x1="1568.8" y1="674.2" x2="1574.3" y2="674.2" stroke="#333" stroke-width="1.6" />
<text text-anchor="end" font-size="28" x="1560" y="686.5">-0.8</text>
<text font-size="28" x="1527.3" y="454.5">KEGG: Non-homologous end joining</text>
<text text-anchor="end" font-size="28" x="1916" y="520.5">FDR = 3.16  10<tspan font-size="16" dy="-8.8">-2</tspan></text>
<text text-anchor="end" font-size="28" x="1916" y="554.3">NES = -1.76</text>
<text font-size="28" x="1573.8" y="756.6">ZCCHC7-OE</text>
<text font-size="28" x="1575.3" y="791">PAX5 TSS2<tspan font-size="16.3" dy="-8.5">Mut</tspan></text>
<text text-anchor="end" font-size="28" x="1951.5" y="756.6">WT</text>
</g>
<g id="panel-c">
<text font-weight="bold" font-size="36" x="6" y="894.2">c</text>
<circle cx="157.8" cy="932.2" r="6.9" fill="#F5A59F" stroke="#1a1a1a" stroke-width="1.3" />
<text font-size="27.7" x="179.4" y="945.2">Oncoproteins</text>
<circle cx="386.4" cy="932.2" r="6.9" fill="#6DB9F6" stroke="#1a1a1a" stroke-width="1.3" />
<text font-size="27.7" x="408.5" y="945.2">Tumor suppressor proteins</text>
<line x1="437" y1="980" x2="437" y2="1492" stroke="#666" stroke-width="1.7" stroke-dasharray="10 7.5"/>
<line x1="155" y1="1235.9" x2="715" y2="1235.9" stroke="#666" stroke-width="1.7" stroke-dasharray="10 7.5"/>
<line x1="157" y1="1489.5" x2="723" y2="975.5" stroke="#777" stroke-width="1.7" stroke-dasharray="10 7.5"/>
<g fill="#bdbdbd" fill-opacity="0.42" stroke="#262626" stroke-opacity="0.58" stroke-width="1.3">
<circle cx="478.5" cy="1188.8" r="4.5"/>
<circle cx="485.5" cy="1168.7" r="4.5"/>
<circle cx="417.5" cy="1236.0" r="4.5"/>
<circle cx="434.1" cy="1223.6" r="4.5"/>
<circle cx="443.2" cy="1210.7" r="4.5"/>
<circle cx="466.2" cy="1254.7" r="4.5"/>
<circle cx="450.4" cy="1203.2" r="4.5"/>
<circle cx="496.7" cy="1162.4" r="4.5"/>
<circle cx="431.1" cy="1227.1" r="4.5"/>
<circle cx="479.2" cy="1200.7" r="4.5"/>
<circle cx="405.5" cy="1260.5" r="4.5"/>
<circle cx="447.4" cy="1201.5" r="4.5"/>
<circle cx="499.6" cy="1205.9" r="4.5"/>
<circle cx="491.4" cy="1206.7" r="4.5"/>
<circle cx="436.0" cy="1191.3" r="4.5"/>
<circle cx="482.5" cy="1180.5" r="4.5"/>
<circle cx="381.1" cy="1284.9" r="4.5"/>
<circle cx="432.3" cy="1222.1" r="4.5"/>
<circle cx="433.8" cy="1229.5" r="4.5"/>
<circle cx="429.1" cy="1226.4" r="4.5"/>
<circle cx="456.4" cy="1186.0" r="4.5"/>
<circle cx="424.4" cy="1256.8" r="4.5"/>
<circle cx="428.5" cy="1258.3" r="4.5"/>
<circle cx="400.5" cy="1301.9" r="4.5"/>
<circle cx="447.1" cy="1215.6" r="4.5"/>
<circle cx="421.2" cy="1221.2" r="4.5"/>
<circle cx="440.4" cy="1207.7" r="4.5"/>
<circle cx="388.7" cy="1264.1" r="4.5"/>
<circle cx="482.4" cy="1196.5" r="4.5"/>
<circle cx="403.5" cy="1284.7" r="4.5"/>
<circle cx="479.2" cy="1223.7" r="4.5"/>
<circle cx="385.8" cy="1299.3" r="4.5"/>
<circle cx="453.0" cy="1209.1" r="4.5"/>
<circle cx="452.2" cy="1215.8" r="4.5"/>
<circle cx="421.6" cy="1243.3" r="4.5"/>
<circle cx="411.8" cy="1253.7" r="4.5"/>
<circle cx="435.0" cy="1228.5" r="4.5"/>
<circle cx="438.8" cy="1219.5" r="4.5"/>
<circle cx="394.2" cy="1324.9" r="4.5"/>
<circle cx="484.4" cy="1183.3" r="4.5"/>
<circle cx="441.4" cy="1223.2" r="4.5"/>
<circle cx="363.3" cy="1258.3" r="4.5"/>
<circle cx="442.0" cy="1223.4" r="4.5"/>
<circle cx="380.9" cy="1301.0" r="4.5"/>
<circle cx="420.7" cy="1242.2" r="4.5"/>
<circle cx="462.2" cy="1213.7" r="4.5"/>
<circle cx="495.7" cy="1218.9" r="4.5"/>
<circle cx="447.4" cy="1221.5" r="4.5"/>
<circle cx="395.9" cy="1247.1" r="4.5"/>
<circle cx="427.4" cy="1161.7" r="4.5"/>
<circle cx="468.2" cy="1191.3" r="4.5"/>
<circle cx="431.7" cy="1276.0" r="4.5"/>
<circle cx="472.0" cy="1227.0" r="4.5"/>
<circle cx="437.7" cy="1249.4" r="4.5"/>
<circle cx="419.7" cy="1211.2" r="4.5"/>
<circle cx="421.1" cy="1260.8" r="4.5"/>
<circle cx="379.0" cy="1303.0" r="4.5"/>
<circle cx="434.2" cy="1252.2" r="4.5"/>
<circle cx="434.9" cy="1217.6" r="4.5"/>
<circle cx="426.2" cy="1218.7" r="4.5"/>
<circle cx="463.8" cy="1216.7" r="4.5"/>
<circle cx="442.5" cy="1210.6" r="4.5"/>
<circle cx="443.5" cy="1238.4" r="4.5"/>
<circle cx="426.5" cy="1291.0" r="4.5"/>
<circle cx="410.2" cy="1236.5" r="4.5"/>
<circle cx="431.7" cy="1255.2" r="4.5"/>
<circle cx="376.0" cy="1254.3" r="4.5"/>
<circle cx="437.9" cy="1255.9" r="4.5"/>
<circle cx="444.3" cy="1225.1" r="4.5"/>
<circle cx="457.2" cy="1209.6" r="4.5"/>
<circle cx="391.1" cy="1263.9" r="4.5"/>
<circle cx="381.9" cy="1250.7" r="4.5"/>
<circle cx="473.0" cy="1208.6" r="4.5"/>
<circle cx="410.9" cy="1255.8" r="4.5"/>
<circle cx="484.8" cy="1197.3" r="4.5"/>
<circle cx="440.9" cy="1266.3" r="4.5"/>
<circle cx="407.6" cy="1263.2" r="4.5"/>
<circle cx="435.0" cy="1290.0" r="4.5"/>
<circle cx="424.3" cy="1275.8" r="4.5"/>
<circle cx="437.3" cy="1208.5" r="4.5"/>
<circle cx="415.5" cy="1247.7" r="4.5"/>
<circle cx="352.2" cy="1313.4" r="4.5"/>
<circle cx="501.4" cy="1246.8" r="4.5"/>
<circle cx="467.5" cy="1221.3" r="4.5"/>
<circle cx="419.5" cy="1246.3" r="4.5"/>
<circle cx="408.9" cy="1291.2" r="4.5"/>
<circle cx="440.8" cy="1205.6" r="4.5"/>
<circle cx="436.3" cy="1264.8" r="4.5"/>
<circle cx="380.5" cy="1302.9" r="4.5"/>
<circle cx="404.2" cy="1225.2" r="4.5"/>
<circle cx="417.8" cy="1261.9" r="4.5"/>
<circle cx="387.0" cy="1243.8" r="4.5"/>
<circle cx="425.7" cy="1246.9" r="4.5"/>
<circle cx="423.0" cy="1249.6" r="4.5"/>
<circle cx="463.1" cy="1263.2" r="4.5"/>
<circle cx="436.4" cy="1241.3" r="4.5"/>
<circle cx="467.5" cy="1185.9" r="4.5"/>
<circle cx="364.9" cy="1298.3" r="4.5"/>
<circle cx="438.4" cy="1371.1" r="4.5"/>
<circle cx="429.3" cy="1257.1" r="4.5"/>
<circle cx="431.6" cy="1265.0" r="4.5"/>
<circle cx="483.3" cy="1186.7" r="4.5"/>
<circle cx="465.9" cy="1170.5" r="4.5"/>
<circle cx="488.5" cy="1143.4" r="4.5"/>
<circle cx="455.4" cy="1203.4" r="4.5"/>
<circle cx="466.7" cy="1174.1" r="4.5"/>
<circle cx="442.2" cy="1243.4" r="4.5"/>
<circle cx="477.5" cy="1181.3" r="4.5"/>
<circle cx="479.4" cy="1198.0" r="4.5"/>
<circle cx="422.7" cy="1213.1" r="4.5"/>
<circle cx="422.6" cy="1277.5" r="4.5"/>
<circle cx="484.9" cy="1193.8" r="4.5"/>
<circle cx="456.5" cy="1232.4" r="4.5"/>
<circle cx="551.7" cy="1102.0" r="4.5"/>
<circle cx="416.2" cy="1224.7" r="4.5"/>
<circle cx="381.9" cy="1259.7" r="4.5"/>
<circle cx="417.1" cy="1276.2" r="4.5"/>
<circle cx="480.2" cy="1240.8" r="4.5"/>
<circle cx="412.3" cy="1286.8" r="4.5"/>
<circle cx="472.0" cy="1264.3" r="4.5"/>
<circle cx="488.8" cy="1217.8" r="4.5"/>
<circle cx="465.7" cy="1204.3" r="4.5"/>
<circle cx="511.1" cy="1194.4" r="4.5"/>
<circle cx="422.9" cy="1234.8" r="4.5"/>
<circle cx="418.9" cy="1257.6" r="4.5"/>
<circle cx="454.1" cy="1204.0" r="4.5"/>
<circle cx="453.4" cy="1204.3" r="4.5"/>
<circle cx="500.1" cy="1173.6" r="4.5"/>
<circle cx="439.7" cy="1215.2" r="4.5"/>
<circle cx="464.9" cy="1174.4" r="4.5"/>
<circle cx="393.8" cy="1263.3" r="4.5"/>
<circle cx="539.2" cy="1139.8" r="4.5"/>
<circle cx="452.1" cy="1241.1" r="4.5"/>
<circle cx="468.5" cy="1190.1" r="4.5"/>
<circle cx="439.3" cy="1250.7" r="4.5"/>
<circle cx="452.1" cy="1259.5" r="4.5"/>
<circle cx="455.9" cy="1210.0" r="4.5"/>
<circle cx="399.9" cy="1261.4" r="4.5"/>
<circle cx="477.1" cy="1216.1" r="4.5"/>
<circle cx="447.6" cy="1224.2" r="4.5"/>
<circle cx="425.0" cy="1273.7" r="4.5"/>
<circle cx="466.0" cy="1209.0" r="4.5"/>
<circle cx="467.8" cy="1184.5" r="4.5"/>
<circle cx="440.5" cy="1236.3" r="4.5"/>
<circle cx="414.1" cy="1244.9" r="4.5"/>
<circle cx="488.1" cy="1199.3" r="4.5"/>
<circle cx="401.5" cy="1266.7" r="4.5"/>
<circle cx="425.5" cy="1305.4" r="4.5"/>
<circle cx="487.8" cy="1201.2" r="4.5"/>
<circle cx="452.1" cy="1203.1" r="4.5"/>
<circle cx="406.2" cy="1284.7" r="4.5"/>
<circle cx="452.7" cy="1230.0" r="4.5"/>
<circle cx="439.6" cy="1236.4" r="4.5"/>
<circle cx="411.0" cy="1272.4" r="4.5"/>
<circle cx="484.5" cy="1192.1" r="4.5"/>
<circle cx="441.8" cy="1246.5" r="4.5"/>
<circle cx="479.8" cy="1225.7" r="4.5"/>
<circle cx="429.6" cy="1253.9" r="4.5"/>
<circle cx="499.2" cy="1206.7" r="4.5"/>
<circle cx="544.8" cy="1104.1" r="4.5"/>
<circle cx="458.1" cy="1276.0" r="4.5"/>
<circle cx="436.8" cy="1253.1" r="4.5"/>
<circle cx="394.8" cy="1252.2" r="4.5"/>
<circle cx="464.8" cy="1218.9" r="4.5"/>
<circle cx="523.1" cy="1120.8" r="4.5"/>
<circle cx="385.8" cy="1252.1" r="4.5"/>
<circle cx="424.0" cy="1260.0" r="4.5"/>
<circle cx="445.0" cy="1222.5" r="4.5"/>
<circle cx="410.6" cy="1230.7" r="4.5"/>
<circle cx="406.3" cy="1238.9" r="4.5"/>
<circle cx="427.4" cy="1203.9" r="4.5"/>
<circle cx="455.0" cy="1217.3" r="4.5"/>
<circle cx="425.1" cy="1217.5" r="4.5"/>
<circle cx="521.9" cy="1164.3" r="4.5"/>
<circle cx="446.0" cy="1228.0" r="4.5"/>
<circle cx="471.4" cy="1171.3" r="4.5"/>
<circle cx="423.1" cy="1281.9" r="4.5"/>
<circle cx="425.2" cy="1259.8" r="4.5"/>
<circle cx="437.7" cy="1220.9" r="4.5"/>
<circle cx="490.0" cy="1153.8" r="4.5"/>
<circle cx="539.6" cy="1152.3" r="4.5"/>
<circle cx="447.8" cy="1196.6" r="4.5"/>
<circle cx="439.4" cy="1272.6" r="4.5"/>
<circle cx="393.5" cy="1268.5" r="4.5"/>
<circle cx="478.2" cy="1200.4" r="4.5"/>
<circle cx="451.0" cy="1222.4" r="4.5"/>
<circle cx="442.2" cy="1205.4" r="4.5"/>
<circle cx="477.3" cy="1168.0" r="4.5"/>
<circle cx="411.3" cy="1222.1" r="4.5"/>
<circle cx="470.3" cy="1197.8" r="4.5"/>
<circle cx="382.6" cy="1247.6" r="4.5"/>
<circle cx="511.3" cy="1141.7" r="4.5"/>
<circle cx="422.9" cy="1212.8" r="4.5"/>
<circle cx="437.5" cy="1231.4" r="4.5"/>
<circle cx="415.3" cy="1258.9" r="4.5"/>
<circle cx="403.5" cy="1253.0" r="4.5"/>
<circle cx="407.2" cy="1265.2" r="4.5"/>
<circle cx="423.6" cy="1260.3" r="4.5"/>
<circle cx="422.3" cy="1240.3" r="4.5"/>
<circle cx="366.7" cy="1271.5" r="4.5"/>
<circle cx="468.3" cy="1193.8" r="4.5"/>
<circle cx="414.6" cy="1268.1" r="4.5"/>
<circle cx="484.1" cy="1187.2" r="4.5"/>
<circle cx="444.9" cy="1232.9" r="4.5"/>
<circle cx="436.9" cy="1235.8" r="4.5"/>
<circle cx="441.8" cy="1198.5" r="4.5"/>
<circle cx="455.8" cy="1231.9" r="4.5"/>
<circle cx="385.1" cy="1287.8" r="4.5"/>
<circle cx="420.6" cy="1276.1" r="4.5"/>
<circle cx="493.5" cy="1192.7" r="4.5"/>
<circle cx="481.3" cy="1217.0" r="4.5"/>
<circle cx="434.6" cy="1254.1" r="4.5"/>
<circle cx="439.6" cy="1283.8" r="4.5"/>
<circle cx="489.7" cy="1186.4" r="4.5"/>
<circle cx="434.1" cy="1241.8" r="4.5"/>
<circle cx="403.7" cy="1253.2" r="4.5"/>
<circle cx="363.1" cy="1298.8" r="4.5"/>
<circle cx="510.8" cy="1151.8" r="4.5"/>
<circle cx="433.9" cy="1251.3" r="4.5"/>
<circle cx="440.5" cy="1224.2" r="4.5"/>
<circle cx="188.6" cy="1218.8" r="4.5"/>
<circle cx="469.6" cy="1218.7" r="4.5"/>
<circle cx="432.8" cy="1284.0" r="4.5"/>
<circle cx="426.4" cy="1229.0" r="4.5"/>
<circle cx="455.1" cy="1224.4" r="4.5"/>
<circle cx="478.0" cy="1205.6" r="4.5"/>
<circle cx="463.3" cy="1222.7" r="4.5"/>
<circle cx="397.3" cy="1222.8" r="4.5"/>
<circle cx="410.8" cy="1300.6" r="4.5"/>
<circle cx="442.4" cy="1222.8" r="4.5"/>
<circle cx="437.2" cy="1191.3" r="4.5"/>
<circle cx="405.1" cy="1271.8" r="4.5"/>
<circle cx="455.5" cy="1169.0" r="4.5"/>
<circle cx="397.2" cy="1259.4" r="4.5"/>
<circle cx="489.4" cy="1216.4" r="4.5"/>
<circle cx="452.2" cy="1247.7" r="4.5"/>
<circle cx="435.7" cy="1259.8" r="4.5"/>
<circle cx="419.4" cy="1275.0" r="4.5"/>
<circle cx="448.0" cy="1230.9" r="4.5"/>
<circle cx="331.2" cy="1427.2" r="4.5"/>
<circle cx="470.7" cy="1193.5" r="4.5"/>
<circle cx="517.5" cy="1179.8" r="4.5"/>
<circle cx="379.6" cy="1257.7" r="4.5"/>
<circle cx="408.9" cy="1180.3" r="4.5"/>
<circle cx="438.6" cy="1225.4" r="4.5"/>
<circle cx="445.7" cy="1173.9" r="4.5"/>
<circle cx="446.7" cy="1220.3" r="4.5"/>
<circle cx="400.1" cy="1262.2" r="4.5"/>
<circle cx="414.0" cy="1259.8" r="4.5"/>
<circle cx="420.5" cy="1263.3" r="4.5"/>
<circle cx="476.4" cy="1195.1" r="4.5"/>
<circle cx="525.8" cy="1300.3" r="4.5"/>
<circle cx="456.3" cy="1190.9" r="4.5"/>
<circle cx="479.5" cy="1194.9" r="4.5"/>
<circle cx="486.7" cy="1204.5" r="4.5"/>
<circle cx="448.9" cy="1213.9" r="4.5"/>
<circle cx="433.2" cy="1277.1" r="4.5"/>
<circle cx="362.7" cy="1269.4" r="4.5"/>
<circle cx="379.7" cy="1247.9" r="4.5"/>
<circle cx="420.8" cy="1244.3" r="4.5"/>
<circle cx="473.6" cy="1185.8" r="4.5"/>
<circle cx="431.5" cy="1246.0" r="4.5"/>
<circle cx="429.3" cy="1239.2" r="4.5"/>
<circle cx="502.3" cy="1204.4" r="4.5"/>
<circle cx="445.7" cy="1207.1" r="4.5"/>
<circle cx="483.6" cy="1224.1" r="4.5"/>
<circle cx="476.9" cy="1266.9" r="4.5"/>
<circle cx="437.9" cy="1241.4" r="4.5"/>
<circle cx="465.0" cy="1160.5" r="4.5"/>
<circle cx="460.0" cy="1223.3" r="4.5"/>
<circle cx="458.7" cy="1202.5" r="4.5"/>
<circle cx="463.5" cy="1220.6" r="4.5"/>
<circle cx="459.1" cy="1213.8" r="4.5"/>
<circle cx="450.1" cy="1187.8" r="4.5"/>
<circle cx="475.9" cy="1244.2" r="4.5"/>
<circle cx="427.9" cy="1254.0" r="4.5"/>
<circle cx="404.5" cy="1234.9" r="4.5"/>
<circle cx="414.3" cy="1270.4" r="4.5"/>
<circle cx="465.7" cy="1258.8" r="4.5"/>
<circle cx="424.8" cy="1202.8" r="4.5"/>
<circle cx="430.1" cy="1045.4" r="4.5"/>
<circle cx="465.2" cy="1169.7" r="4.5"/>
<circle cx="488.9" cy="1181.2" r="4.5"/>
<circle cx="401.7" cy="1262.8" r="4.5"/>
<circle cx="446.4" cy="1183.4" r="4.5"/>
<circle cx="422.0" cy="1222.9" r="4.5"/>
<circle cx="454.3" cy="1185.9" r="4.5"/>
<circle cx="450.0" cy="1220.0" r="4.5"/>
<circle cx="488.4" cy="1181.6" r="4.5"/>
<circle cx="414.1" cy="1270.6" r="4.5"/>
<circle cx="469.7" cy="1200.2" r="4.5"/>
<circle cx="469.4" cy="1179.2" r="4.5"/>
<circle cx="475.7" cy="1173.7" r="4.5"/>
<circle cx="400.8" cy="1287.1" r="4.5"/>
<circle cx="599.0" cy="1072.1" r="4.5"/>
<circle cx="490.2" cy="1199.9" r="4.5"/>
<circle cx="497.5" cy="1218.4" r="4.5"/>
<circle cx="393.8" cy="1269.4" r="4.5"/>
<circle cx="528.9" cy="1195.9" r="4.5"/>
<circle cx="458.2" cy="1214.5" r="4.5"/>
<circle cx="373.0" cy="1311.5" r="4.5"/>
<circle cx="416.3" cy="1343.1" r="4.5"/>
<circle cx="426.3" cy="1253.0" r="4.5"/>
<circle cx="421.8" cy="1238.3" r="4.5"/>
<circle cx="456.7" cy="1237.2" r="4.5"/>
<circle cx="372.9" cy="1251.1" r="4.5"/>
<circle cx="455.9" cy="1202.4" r="4.5"/>
<circle cx="490.2" cy="1217.7" r="4.5"/>
<circle cx="355.2" cy="1269.3" r="4.5"/>
<circle cx="417.1" cy="1221.2" r="4.5"/>
<circle cx="414.0" cy="1241.3" r="4.5"/>
<circle cx="399.9" cy="1313.3" r="4.5"/>
<circle cx="440.1" cy="1253.0" r="4.5"/>
<circle cx="480.2" cy="1246.1" r="4.5"/>
<circle cx="450.4" cy="1252.2" r="4.5"/>
<circle cx="481.9" cy="1207.0" r="4.5"/>
<circle cx="390.7" cy="1198.5" r="4.5"/>
<circle cx="442.0" cy="1196.9" r="4.5"/>
<circle cx="350.7" cy="1311.6" r="4.5"/>
<circle cx="378.1" cy="1280.0" r="4.5"/>
<circle cx="362.8" cy="1282.5" r="4.5"/>
<circle cx="483.0" cy="1202.3" r="4.5"/>
<circle cx="451.1" cy="1169.9" r="4.5"/>
<circle cx="389.1" cy="1285.9" r="4.5"/>
<circle cx="451.4" cy="1191.4" r="4.5"/>
<circle cx="448.7" cy="1220.9" r="4.5"/>
<circle cx="456.9" cy="1215.4" r="4.5"/>
<circle cx="449.2" cy="1225.1" r="4.5"/>
<circle cx="452.5" cy="1259.1" r="4.5"/>
<circle cx="439.6" cy="1208.9" r="4.5"/>
<circle cx="408.8" cy="1263.1" r="4.5"/>
<circle cx="383.0" cy="1231.5" r="4.5"/>
<circle cx="461.8" cy="1277.9" r="4.5"/>
<circle cx="471.0" cy="1208.1" r="4.5"/>
<circle cx="480.8" cy="1199.3" r="4.5"/>
<circle cx="402.0" cy="1245.3" r="4.5"/>
<circle cx="472.0" cy="1196.7" r="4.5"/>
<circle cx="450.0" cy="1215.0" r="4.5"/>
<circle cx="523.6" cy="1142.8" r="4.5"/>
<circle cx="545.2" cy="1126.8" r="4.5"/>
<circle cx="461.3" cy="1220.6" r="4.5"/>
<circle cx="382.5" cy="1272.3" r="4.5"/>
<circle cx="454.9" cy="1268.4" r="4.5"/>
<circle cx="395.2" cy="1269.0" r="4.5"/>
<circle cx="397.0" cy="1199.0" r="4.5"/>
<circle cx="421.8" cy="1285.8" r="4.5"/>
<circle cx="523.5" cy="1180.3" r="4.5"/>
<circle cx="483.3" cy="1247.7" r="4.5"/>
<circle cx="451.5" cy="1239.7" r="4.5"/>
<circle cx="442.1" cy="1228.6" r="4.5"/>
<circle cx="438.2" cy="1261.8" r="4.5"/>
<circle cx="457.6" cy="1220.5" r="4.5"/>
<circle cx="484.0" cy="1060.6" r="4.5"/>
<circle cx="380.5" cy="1269.8" r="4.5"/>
<circle cx="497.8" cy="1195.6" r="4.5"/>
<circle cx="467.1" cy="1178.4" r="4.5"/>
<circle cx="400.2" cy="1281.1" r="4.5"/>
<circle cx="457.9" cy="1264.0" r="4.5"/>
<circle cx="456.1" cy="1219.7" r="4.5"/>
<circle cx="422.5" cy="1247.7" r="4.5"/>
<circle cx="450.5" cy="1210.7" r="4.5"/>
<circle cx="452.2" cy="1218.6" r="4.5"/>
<circle cx="475.1" cy="1159.8" r="4.5"/>
<circle cx="363.4" cy="1274.7" r="4.5"/>
<circle cx="443.4" cy="1212.4" r="4.5"/>
<circle cx="409.7" cy="1228.0" r="4.5"/>
<circle cx="475.0" cy="1198.5" r="4.5"/>
<circle cx="456.5" cy="1240.6" r="4.5"/>
<circle cx="406.4" cy="1258.9" r="4.5"/>
<circle cx="385.8" cy="1293.6" r="4.5"/>
<circle cx="364.0" cy="1217.4" r="4.5"/>
<circle cx="465.7" cy="1223.1" r="4.5"/>
<circle cx="412.0" cy="1246.2" r="4.5"/>
<circle cx="471.0" cy="1213.7" r="4.5"/>
<circle cx="429.1" cy="1214.0" r="4.5"/>
<circle cx="436.7" cy="1254.0" r="4.5"/>
<circle cx="455.5" cy="1255.1" r="4.5"/>
<circle cx="408.2" cy="1249.8" r="4.5"/>
<circle cx="415.3" cy="1244.6" r="4.5"/>
<circle cx="515.3" cy="1176.5" r="4.5"/>
<circle cx="402.9" cy="1281.5" r="4.5"/>
<circle cx="463.1" cy="1203.5" r="4.5"/>
<circle cx="426.5" cy="1225.7" r="4.5"/>
<circle cx="341.9" cy="1211.6" r="4.5"/>
<circle cx="428.4" cy="1324.3" r="4.5"/>
<circle cx="460.8" cy="1196.0" r="4.5"/>
<circle cx="515.3" cy="1069.3" r="4.5"/>
<circle cx="507.5" cy="1177.4" r="4.5"/>
<circle cx="405.3" cy="1225.0" r="4.5"/>
<circle cx="492.2" cy="1148.5" r="4.5"/>
<circle cx="472.8" cy="1225.8" r="4.5"/>
<circle cx="449.5" cy="1184.5" r="4.5"/>
<circle cx="392.3" cy="1257.3" r="4.5"/>
<circle cx="415.6" cy="1237.4" r="4.5"/>
<circle cx="405.1" cy="1260.6" r="4.5"/>
<circle cx="402.5" cy="1244.6" r="4.5"/>
<circle cx="434.0" cy="1280.5" r="4.5"/>
<circle cx="484.2" cy="1220.9" r="4.5"/>
<circle cx="447.9" cy="1185.0" r="4.5"/>
<circle cx="378.8" cy="1304.6" r="4.5"/>
<circle cx="434.1" cy="1216.4" r="4.5"/>
<circle cx="468.0" cy="1237.1" r="4.5"/>
<circle cx="412.6" cy="1217.4" r="4.5"/>
<circle cx="480.6" cy="1232.9" r="4.5"/>
<circle cx="344.8" cy="1348.5" r="4.5"/>
<circle cx="445.2" cy="1241.2" r="4.5"/>
<circle cx="466.5" cy="1192.8" r="4.5"/>
<circle cx="442.5" cy="1250.1" r="4.5"/>
<circle cx="392.4" cy="1247.6" r="4.5"/>
<circle cx="422.5" cy="1247.2" r="4.5"/>
<circle cx="454.5" cy="1309.9" r="4.5"/>
<circle cx="479.6" cy="1212.2" r="4.5"/>
<circle cx="413.7" cy="1265.7" r="4.5"/>
<circle cx="442.5" cy="1189.8" r="4.5"/>
<circle cx="455.3" cy="1187.2" r="4.5"/>
<circle cx="457.9" cy="1197.6" r="4.5"/>
<circle cx="399.2" cy="1256.4" r="4.5"/>
<circle cx="435.8" cy="1229.9" r="4.5"/>
<circle cx="497.4" cy="1234.7" r="4.5"/>
<circle cx="423.0" cy="1255.0" r="4.5"/>
<circle cx="409.3" cy="1306.3" r="4.5"/>
<circle cx="457.1" cy="1209.5" r="4.5"/>
<circle cx="440.6" cy="1237.1" r="4.5"/>
<circle cx="461.3" cy="1203.3" r="4.5"/>
<circle cx="409.0" cy="1225.1" r="4.5"/>
<circle cx="449.6" cy="1228.2" r="4.5"/>
<circle cx="355.3" cy="1331.2" r="4.5"/>
<circle cx="414.2" cy="1262.3" r="4.5"/>
<circle cx="485.9" cy="1218.9" r="4.5"/>
<circle cx="387.5" cy="1283.9" r="4.5"/>
<circle cx="422.8" cy="1271.2" r="4.5"/>
<circle cx="436.0" cy="1260.0" r="4.5"/>
<circle cx="482.4" cy="1196.0" r="4.5"/>
<circle cx="467.1" cy="1201.3" r="4.5"/>
<circle cx="399.2" cy="1243.7" r="4.5"/>
<circle cx="472.5" cy="1230.5" r="4.5"/>
<circle cx="375.6" cy="1312.1" r="4.5"/>
<circle cx="394.8" cy="1307.3" r="4.5"/>
<circle cx="478.0" cy="1208.5" r="4.5"/>
<circle cx="442.8" cy="1242.3" r="4.5"/>
<circle cx="389.6" cy="1246.9" r="4.5"/>
<circle cx="359.2" cy="1304.0" r="4.5"/>
<circle cx="470.4" cy="1224.9" r="4.5"/>
<circle cx="460.3" cy="1224.0" r="4.5"/>
<circle cx="429.3" cy="1231.4" r="4.5"/>
<circle cx="374.4" cy="1249.8" r="4.5"/>
<circle cx="428.9" cy="1234.1" r="4.5"/>
<circle cx="462.6" cy="1203.4" r="4.5"/>
<circle cx="469.0" cy="1196.0" r="4.5"/>
<circle cx="480.3" cy="1188.9" r="4.5"/>
<circle cx="410.9" cy="1249.7" r="4.5"/>
<circle cx="450.8" cy="1244.9" r="4.5"/>
<circle cx="478.4" cy="1204.7" r="4.5"/>
<circle cx="459.6" cy="1165.2" r="4.5"/>
<circle cx="440.3" cy="1210.5" r="4.5"/>
<circle cx="407.3" cy="1285.0" r="4.5"/>
<circle cx="413.9" cy="1214.5" r="4.5"/>
<circle cx="426.8" cy="1256.8" r="4.5"/>
<circle cx="443.8" cy="1226.0" r="4.5"/>
<circle cx="453.6" cy="1287.3" r="4.5"/>
<circle cx="454.5" cy="1213.4" r="4.5"/>
<circle cx="424.8" cy="1204.8" r="4.5"/>
<circle cx="439.2" cy="1263.3" r="4.5"/>
<circle cx="458.3" cy="1255.1" r="4.5"/>
<circle cx="457.6" cy="1244.2" r="4.5"/>
<circle cx="391.4" cy="1245.9" r="4.5"/>
<circle cx="408.5" cy="1258.2" r="4.5"/>
<circle cx="447.3" cy="1229.4" r="4.5"/>
<circle cx="455.5" cy="1211.4" r="4.5"/>
<circle cx="441.4" cy="1177.5" r="4.5"/>
<circle cx="500.1" cy="1234.7" r="4.5"/>
<circle cx="412.8" cy="1204.3" r="4.5"/>
<circle cx="437.2" cy="1228.5" r="4.5"/>
<circle cx="470.4" cy="1190.2" r="4.5"/>
<circle cx="436.2" cy="1262.6" r="4.5"/>
<circle cx="414.8" cy="1235.3" r="4.5"/>
<circle cx="452.3" cy="1208.1" r="4.5"/>
<circle cx="394.5" cy="1282.5" r="4.5"/>
<circle cx="399.2" cy="1236.2" r="4.5"/>
<circle cx="527.8" cy="1170.8" r="4.5"/>
<circle cx="358.8" cy="1247.3" r="4.5"/>
<circle cx="447.8" cy="1236.8" r="4.5"/>
<circle cx="463.8" cy="1199.8" r="4.5"/>
<circle cx="454.9" cy="1256.3" r="4.5"/>
<circle cx="476.8" cy="1268.6" r="4.5"/>
<circle cx="460.5" cy="1233.9" r="4.5"/>
<circle cx="481.0" cy="1189.3" r="4.5"/>
<circle cx="446.3" cy="1235.6" r="4.5"/>
<circle cx="455.1" cy="1250.7" r="4.5"/>
<circle cx="427.8" cy="1260.6" r="4.5"/>
<circle cx="467.7" cy="1175.0" r="4.5"/>
<circle cx="453.9" cy="1214.9" r="4.5"/>
<circle cx="473.4" cy="1210.1" r="4.5"/>
<circle cx="470.5" cy="1250.7" r="4.5"/>
<circle cx="450.1" cy="1231.7" r="4.5"/>
<circle cx="456.2" cy="1207.3" r="4.5"/>
<circle cx="537.1" cy="1120.3" r="4.5"/>
<circle cx="463.3" cy="1204.0" r="4.5"/>
<circle cx="484.9" cy="1205.8" r="4.5"/>
<circle cx="454.0" cy="1210.7" r="4.5"/>
<circle cx="388.6" cy="1257.6" r="4.5"/>
<circle cx="418.0" cy="1237.5" r="4.5"/>
<circle cx="442.8" cy="1220.4" r="4.5"/>
<circle cx="406.1" cy="1216.2" r="4.5"/>
<circle cx="476.1" cy="1187.6" r="4.5"/>
<circle cx="436.2" cy="1231.1" r="4.5"/>
<circle cx="425.3" cy="1261.7" r="4.5"/>
<circle cx="446.5" cy="1229.9" r="4.5"/>
<circle cx="447.7" cy="1229.3" r="4.5"/>
<circle cx="452.0" cy="1171.6" r="4.5"/>
<circle cx="461.6" cy="1208.7" r="4.5"/>
<circle cx="423.6" cy="1257.4" r="4.5"/>
<circle cx="401.1" cy="1242.7" r="4.5"/>
<circle cx="397.5" cy="1224.7" r="4.5"/>
<circle cx="434.4" cy="1236.3" r="4.5"/>
<circle cx="391.5" cy="1285.2" r="4.5"/>
<circle cx="407.9" cy="1251.4" r="4.5"/>
<circle cx="425.3" cy="1227.3" r="4.5"/>
<circle cx="513.1" cy="1181.8" r="4.5"/>
<circle cx="451.1" cy="1234.6" r="4.5"/>
<circle cx="487.0" cy="1202.0" r="4.5"/>
<circle cx="441.7" cy="1261.5" r="4.5"/>
<circle cx="404.6" cy="1261.8" r="4.5"/>
<circle cx="474.2" cy="1229.7" r="4.5"/>
<circle cx="419.5" cy="1278.8" r="4.5"/>
<circle cx="470.3" cy="1230.7" r="4.5"/>
<circle cx="427.4" cy="1228.8" r="4.5"/>
<circle cx="417.3" cy="1270.2" r="4.5"/>
<circle cx="410.3" cy="1263.8" r="4.5"/>
<circle cx="435.0" cy="1301.5" r="4.5"/>
<circle cx="392.4" cy="1312.0" r="4.5"/>
<circle cx="432.0" cy="1228.8" r="4.5"/>
<circle cx="406.8" cy="1282.2" r="4.5"/>
<circle cx="416.1" cy="1253.2" r="4.5"/>
<circle cx="440.8" cy="1223.4" r="4.5"/>
<circle cx="460.7" cy="1241.4" r="4.5"/>
<circle cx="444.5" cy="1249.2" r="4.5"/>
<circle cx="448.4" cy="1243.2" r="4.5"/>
<circle cx="471.0" cy="1244.7" r="4.5"/>
<circle cx="369.4" cy="1303.6" r="4.5"/>
<circle cx="556.9" cy="1206.3" r="4.5"/>
<circle cx="434.8" cy="1213.9" r="4.5"/>
<circle cx="412.0" cy="1265.3" r="4.5"/>
<circle cx="429.0" cy="1244.7" r="4.5"/>
<circle cx="381.2" cy="1233.4" r="4.5"/>
<circle cx="452.7" cy="1215.2" r="4.5"/>
<circle cx="508.9" cy="1208.6" r="4.5"/>
<circle cx="469.5" cy="1189.0" r="4.5"/>
<circle cx="487.2" cy="1220.3" r="4.5"/>
<circle cx="452.7" cy="1242.1" r="4.5"/>
<circle cx="501.4" cy="1172.3" r="4.5"/>
<circle cx="460.5" cy="1211.5" r="4.5"/>
<circle cx="457.2" cy="1182.7" r="4.5"/>
<circle cx="406.3" cy="1233.3" r="4.5"/>
<circle cx="447.1" cy="1211.2" r="4.5"/>
<circle cx="413.1" cy="1245.7" r="4.5"/>
<circle cx="463.7" cy="1240.6" r="4.5"/>
<circle cx="462.5" cy="1218.5" r="4.5"/>
<circle cx="422.7" cy="1241.8" r="4.5"/>
<circle cx="429.2" cy="1226.4" r="4.5"/>
<circle cx="426.1" cy="1273.0" r="4.5"/>
<circle cx="399.6" cy="1264.8" r="4.5"/>
<circle cx="449.6" cy="1236.9" r="4.5"/>
<circle cx="456.2" cy="1211.9" r="4.5"/>
<circle cx="443.1" cy="1217.6" r="4.5"/>
<circle cx="397.9" cy="1300.0" r="4.5"/>
<circle cx="391.0" cy="1234.1" r="4.5"/>
<circle cx="495.8" cy="1255.6" r="4.5"/>
<circle cx="458.3" cy="1207.0" r="4.5"/>
<circle cx="444.7" cy="1259.4" r="4.5"/>
<circle cx="486.5" cy="1169.3" r="4.5"/>
<circle cx="442.0" cy="1253.6" r="4.5"/>
<circle cx="411.8" cy="1196.5" r="4.5"/>
<circle cx="408.6" cy="1256.0" r="4.5"/>
<circle cx="465.1" cy="1197.9" r="4.5"/>
<circle cx="453.4" cy="1206.0" r="4.5"/>
<circle cx="419.3" cy="1263.7" r="4.5"/>
<circle cx="447.7" cy="1153.8" r="4.5"/>
<circle cx="421.9" cy="1254.0" r="4.5"/>
<circle cx="420.5" cy="1244.3" r="4.5"/>
<circle cx="347.1" cy="1284.5" r="4.5"/>
<circle cx="451.7" cy="1189.3" r="4.5"/>
<circle cx="434.7" cy="1227.2" r="4.5"/>
<circle cx="503.2" cy="1212.3" r="4.5"/>
<circle cx="395.0" cy="1234.6" r="4.5"/>
<circle cx="438.6" cy="1209.2" r="4.5"/>
<circle cx="420.8" cy="1266.1" r="4.5"/>
<circle cx="402.9" cy="1241.4" r="4.5"/>
<circle cx="450.8" cy="1203.8" r="4.5"/>
<circle cx="432.4" cy="1241.0" r="4.5"/>
<circle cx="359.7" cy="1215.3" r="4.5"/>
<circle cx="405.0" cy="1246.3" r="4.5"/>
<circle cx="433.8" cy="1226.6" r="4.5"/>
<circle cx="446.6" cy="1184.3" r="4.5"/>
<circle cx="449.5" cy="1234.5" r="4.5"/>
<circle cx="446.0" cy="1243.6" r="4.5"/>
<circle cx="453.1" cy="1095.5" r="4.5"/>
<circle cx="503.4" cy="1158.9" r="4.5"/>
<circle cx="469.5" cy="1168.7" r="4.5"/>
<circle cx="479.9" cy="1192.6" r="4.5"/>
<circle cx="375.7" cy="1246.3" r="4.5"/>
<circle cx="438.3" cy="1262.9" r="4.5"/>
<circle cx="495.7" cy="1190.7" r="4.5"/>
<circle cx="411.0" cy="1224.3" r="4.5"/>
<circle cx="465.4" cy="1215.1" r="4.5"/>
<circle cx="407.4" cy="1265.0" r="4.5"/>
<circle cx="476.3" cy="1239.1" r="4.5"/>
<circle cx="411.4" cy="1215.2" r="4.5"/>
<circle cx="456.3" cy="1159.8" r="4.5"/>
<circle cx="418.2" cy="1272.1" r="4.5"/>
<circle cx="404.9" cy="1232.3" r="4.5"/>
<circle cx="450.9" cy="1227.7" r="4.5"/>
<circle cx="467.4" cy="1268.2" r="4.5"/>
<circle cx="360.1" cy="1290.9" r="4.5"/>
<circle cx="461.2" cy="1211.6" r="4.5"/>
<circle cx="453.3" cy="1212.1" r="4.5"/>
<circle cx="422.8" cy="1231.4" r="4.5"/>
<circle cx="368.9" cy="1327.7" r="4.5"/>
<circle cx="394.8" cy="1251.3" r="4.5"/>
<circle cx="502.3" cy="1243.0" r="4.5"/>
<circle cx="476.5" cy="1254.4" r="4.5"/>
<circle cx="429.4" cy="1253.9" r="4.5"/>
<circle cx="455.6" cy="1265.6" r="4.5"/>
<circle cx="359.3" cy="1282.8" r="4.5"/>
<circle cx="391.3" cy="1268.3" r="4.5"/>
<circle cx="445.7" cy="1269.3" r="4.5"/>
<circle cx="383.2" cy="1290.4" r="4.5"/>
<circle cx="441.2" cy="1237.2" r="4.5"/>
<circle cx="485.4" cy="1204.6" r="4.5"/>
<circle cx="460.2" cy="1256.6" r="4.5"/>
<circle cx="443.7" cy="1227.5" r="4.5"/>
<circle cx="429.2" cy="1119.9" r="4.5"/>
<circle cx="433.0" cy="1232.6" r="4.5"/>
<circle cx="398.9" cy="1260.7" r="4.5"/>
<circle cx="417.3" cy="1256.5" r="4.5"/>
<circle cx="480.9" cy="1192.7" r="4.5"/>
<circle cx="301.3" cy="1286.1" r="4.5"/>
<circle cx="447.3" cy="1207.5" r="4.5"/>
<circle cx="439.0" cy="1205.3" r="4.5"/>
<circle cx="457.9" cy="1249.8" r="4.5"/>
<circle cx="504.8" cy="1224.5" r="4.5"/>
<circle cx="434.8" cy="1277.4" r="4.5"/>
<circle cx="393.8" cy="1273.5" r="4.5"/>
<circle cx="457.4" cy="1182.0" r="4.5"/>
<circle cx="502.0" cy="1190.0" r="4.5"/>
<circle cx="463.3" cy="1249.9" r="4.5"/>
<circle cx="457.9" cy="1204.3" r="4.5"/>
<circle cx="446.4" cy="1207.7" r="4.5"/>
<circle cx="468.3" cy="1218.9" r="4.5"/>
<circle cx="398.4" cy="1277.2" r="4.5"/>
<circle cx="475.6" cy="1240.0" r="4.5"/>
<circle cx="455.6" cy="1247.7" r="4.5"/>
<circle cx="403.0" cy="1279.0" r="4.5"/>
<circle cx="405.1" cy="1247.6" r="4.5"/>
<circle cx="424.6" cy="1248.9" r="4.5"/>
<circle cx="467.2" cy="1179.1" r="4.5"/>
<circle cx="515.7" cy="1201.0" r="4.5"/>
<circle cx="513.4" cy="1172.0" r="4.5"/>
<circle cx="468.9" cy="1194.5" r="4.5"/>
<circle cx="468.9" cy="1233.4" r="4.5"/>
<circle cx="468.8" cy="1246.8" r="4.5"/>
<circle cx="442.3" cy="1240.1" r="4.5"/>
<circle cx="460.5" cy="1177.8" r="4.5"/>
<circle cx="429.1" cy="1234.0" r="4.5"/>
<circle cx="456.8" cy="1205.6" r="4.5"/>
<circle cx="425.9" cy="1234.8" r="4.5"/>
<circle cx="453.6" cy="1230.8" r="4.5"/>
<circle cx="499.1" cy="1225.0" r="4.5"/>
<circle cx="416.9" cy="1282.1" r="4.5"/>
<circle cx="445.9" cy="1216.6" r="4.5"/>
<circle cx="411.6" cy="1288.7" r="4.5"/>
<circle cx="423.3" cy="1229.1" r="4.5"/>
<circle cx="436.2" cy="1251.2" r="4.5"/>
<circle cx="439.9" cy="1231.5" r="4.5"/>
<circle cx="470.2" cy="1246.3" r="4.5"/>
<circle cx="451.3" cy="1243.5" r="4.5"/>
<circle cx="465.4" cy="1258.2" r="4.5"/>
<circle cx="397.5" cy="1247.8" r="4.5"/>
<circle cx="408.2" cy="1238.8" r="4.5"/>
<circle cx="480.5" cy="1226.8" r="4.5"/>
<circle cx="393.0" cy="1291.4" r="4.5"/>
<circle cx="316.5" cy="1324.6" r="4.5"/>
<circle cx="483.8" cy="1203.2" r="4.5"/>
<circle cx="431.2" cy="1236.4" r="4.5"/>
<circle cx="432.9" cy="1254.3" r="4.5"/>
<circle cx="400.7" cy="1269.9" r="4.5"/>
<circle cx="484.9" cy="1229.4" r="4.5"/>
<circle cx="427.6" cy="1275.8" r="4.5"/>
<circle cx="444.0" cy="1220.7" r="4.5"/>
<circle cx="466.2" cy="1240.0" r="4.5"/>
<circle cx="415.9" cy="1262.7" r="4.5"/>
<circle cx="481.4" cy="1196.8" r="4.5"/>
<circle cx="437.5" cy="1193.3" r="4.5"/>
<circle cx="416.8" cy="1276.2" r="4.5"/>
<circle cx="415.2" cy="1235.5" r="4.5"/>
<circle cx="438.0" cy="1211.0" r="4.5"/>
<circle cx="410.3" cy="1219.3" r="4.5"/>
<circle cx="442.6" cy="1211.2" r="4.5"/>
<circle cx="390.3" cy="1259.8" r="4.5"/>
<circle cx="420.0" cy="1257.5" r="4.5"/>
<circle cx="421.4" cy="1247.6" r="4.5"/>
<circle cx="377.4" cy="1260.3" r="4.5"/>
<circle cx="410.4" cy="1265.3" r="4.5"/>
<circle cx="432.7" cy="1220.2" r="4.5"/>
<circle cx="351.2" cy="1302.1" r="4.5"/>
<circle cx="417.9" cy="1230.8" r="4.5"/>
<circle cx="474.2" cy="1195.5" r="4.5"/>
<circle cx="398.4" cy="1248.1" r="4.5"/>
<circle cx="445.5" cy="1250.0" r="4.5"/>
<circle cx="459.4" cy="1236.7" r="4.5"/>
<circle cx="416.2" cy="1258.2" r="4.5"/>
<circle cx="506.6" cy="1213.3" r="4.5"/>
<circle cx="467.5" cy="1203.7" r="4.5"/>
<circle cx="456.8" cy="1226.5" r="4.5"/>
<circle cx="463.6" cy="1188.6" r="4.5"/>
<circle cx="455.4" cy="1245.4" r="4.5"/>
<circle cx="490.1" cy="1207.0" r="4.5"/>
<circle cx="615.5" cy="1117.2" r="4.5"/>
<circle cx="422.9" cy="1233.3" r="4.5"/>
<circle cx="466.5" cy="1188.2" r="4.5"/>
<circle cx="501.6" cy="1184.7" r="4.5"/>
<circle cx="508.8" cy="1229.5" r="4.5"/>
<circle cx="391.1" cy="1280.9" r="4.5"/>
<circle cx="428.0" cy="1257.8" r="4.5"/>
<circle cx="438.6" cy="1248.1" r="4.5"/>
<circle cx="451.6" cy="1273.0" r="4.5"/>
<circle cx="397.1" cy="1238.4" r="4.5"/>
<circle cx="391.7" cy="1273.9" r="4.5"/>
<circle cx="418.3" cy="1213.3" r="4.5"/>
<circle cx="466.9" cy="1196.4" r="4.5"/>
<circle cx="440.8" cy="1219.5" r="4.5"/>
<circle cx="393.0" cy="1203.0" r="4.5"/>
<circle cx="408.2" cy="1234.0" r="4.5"/>
<circle cx="427.6" cy="1225.3" r="4.5"/>
<circle cx="408.3" cy="1295.4" r="4.5"/>
<circle cx="515.9" cy="1173.8" r="4.5"/>
<circle cx="431.0" cy="1249.7" r="4.5"/>
<circle cx="452.5" cy="1251.0" r="4.5"/>
<circle cx="395.9" cy="1270.7" r="4.5"/>
<circle cx="435.1" cy="1206.7" r="4.5"/>
<circle cx="450.5" cy="1240.5" r="4.5"/>
<circle cx="482.1" cy="1224.0" r="4.5"/>
<circle cx="459.2" cy="1219.3" r="4.5"/>
<circle cx="443.2" cy="1212.8" r="4.5"/>
<circle cx="456.3" cy="1224.4" r="4.5"/>
<circle cx="428.2" cy="1273.8" r="4.5"/>
<circle cx="380.7" cy="1300.9" r="4.5"/>
<circle cx="376.6" cy="1250.2" r="4.5"/>
<circle cx="461.1" cy="1238.7" r="4.5"/>
<circle cx="442.4" cy="1197.7" r="4.5"/>
<circle cx="431.8" cy="1252.4" r="4.5"/>
<circle cx="398.4" cy="1202.5" r="4.5"/>
<circle cx="415.3" cy="1214.3" r="4.5"/>
<circle cx="467.1" cy="1245.7" r="4.5"/>
<circle cx="504.0" cy="1180.4" r="4.5"/>
<circle cx="440.8" cy="1226.5" r="4.5"/>
<circle cx="422.6" cy="1268.1" r="4.5"/>
<circle cx="473.1" cy="1141.2" r="4.5"/>
<circle cx="497.0" cy="1179.6" r="4.5"/>
<circle cx="436.8" cy="1260.4" r="4.5"/>
<circle cx="429.4" cy="1218.1" r="4.5"/>
<circle cx="447.1" cy="1194.5" r="4.5"/>
<circle cx="452.0" cy="1222.8" r="4.5"/>
<circle cx="453.5" cy="1223.4" r="4.5"/>
<circle cx="482.9" cy="1225.1" r="4.5"/>
<circle cx="451.6" cy="1210.7" r="4.5"/>
<circle cx="401.8" cy="1251.7" r="4.5"/>
<circle cx="432.6" cy="1292.4" r="4.5"/>
<circle cx="406.3" cy="1307.4" r="4.5"/>
<circle cx="439.8" cy="1277.3" r="4.5"/>
<circle cx="457.6" cy="1221.7" r="4.5"/>
<circle cx="404.6" cy="1288.4" r="4.5"/>
<circle cx="430.4" cy="1228.0" r="4.5"/>
<circle cx="406.9" cy="1274.7" r="4.5"/>
<circle cx="414.8" cy="1259.3" r="4.5"/>
<circle cx="441.5" cy="1241.6" r="4.5"/>
<circle cx="469.1" cy="1171.8" r="4.5"/>
<circle cx="452.6" cy="1239.7" r="4.5"/>
<circle cx="421.9" cy="1229.9" r="4.5"/>
<circle cx="466.6" cy="1210.4" r="4.5"/>
<circle cx="467.3" cy="1204.1" r="4.5"/>
<circle cx="415.5" cy="1274.6" r="4.5"/>
<circle cx="496.8" cy="1198.9" r="4.5"/>
<circle cx="427.2" cy="1268.1" r="4.5"/>
<circle cx="311.5" cy="1325.4" r="4.5"/>
<circle cx="444.5" cy="1202.1" r="4.5"/>
<circle cx="472.1" cy="1226.1" r="4.5"/>
<circle cx="491.3" cy="1207.3" r="4.5"/>
<circle cx="501.7" cy="1141.5" r="4.5"/>
<circle cx="401.2" cy="1264.3" r="4.5"/>
<circle cx="458.0" cy="1194.7" r="4.5"/>
<circle cx="434.4" cy="1219.5" r="4.5"/>
<circle cx="412.3" cy="1224.8" r="4.5"/>
<circle cx="432.8" cy="1219.1" r="4.5"/>
<circle cx="419.8" cy="1214.4" r="4.5"/>
<circle cx="461.1" cy="1230.1" r="4.5"/>
<circle cx="414.4" cy="1234.6" r="4.5"/>
<circle cx="504.9" cy="1156.5" r="4.5"/>
<circle cx="450.9" cy="1224.2" r="4.5"/>
<circle cx="429.5" cy="1224.2" r="4.5"/>
<circle cx="487.0" cy="1203.1" r="4.5"/>
<circle cx="475.9" cy="1207.0" r="4.5"/>
<circle cx="459.9" cy="1231.0" r="4.5"/>
<circle cx="488.5" cy="1191.0" r="4.5"/>
<circle cx="478.9" cy="1209.5" r="4.5"/>
<circle cx="473.6" cy="1240.9" r="4.5"/>
<circle cx="436.2" cy="1199.4" r="4.5"/>
<circle cx="488.7" cy="1216.8" r="4.5"/>
<circle cx="406.0" cy="1265.4" r="4.5"/>
<circle cx="409.7" cy="1260.0" r="4.5"/>
<circle cx="441.4" cy="1275.7" r="4.5"/>
<circle cx="459.2" cy="1221.8" r="4.5"/>
<circle cx="476.9" cy="1224.6" r="4.5"/>
<circle cx="423.9" cy="1263.2" r="4.5"/>
<circle cx="413.3" cy="1229.4" r="4.5"/>
<circle cx="500.7" cy="1206.3" r="4.5"/>
<circle cx="413.9" cy="1248.5" r="4.5"/>
<circle cx="378.3" cy="1300.2" r="4.5"/>
<circle cx="398.3" cy="1229.6" r="4.5"/>
<circle cx="434.9" cy="1241.8" r="4.5"/>
<circle cx="453.2" cy="1216.3" r="4.5"/>
<circle cx="502.9" cy="1164.6" r="4.5"/>
<circle cx="383.1" cy="1245.7" r="4.5"/>
<circle cx="399.1" cy="1256.6" r="4.5"/>
<circle cx="415.7" cy="1248.0" r="4.5"/>
<circle cx="411.4" cy="1264.7" r="4.5"/>
<circle cx="410.1" cy="1278.5" r="4.5"/>
<circle cx="330.1" cy="1332.0" r="4.5"/>
<circle cx="451.6" cy="1229.0" r="4.5"/>
<circle cx="370.5" cy="1321.7" r="4.5"/>
<circle cx="490.2" cy="1152.9" r="4.5"/>
<circle cx="468.7" cy="1227.8" r="4.5"/>
<circle cx="434.0" cy="1182.8" r="4.5"/>
<circle cx="424.4" cy="1219.1" r="4.5"/>
<circle cx="427.7" cy="1229.5" r="4.5"/>
<circle cx="459.4" cy="1177.3" r="4.5"/>
<circle cx="429.4" cy="1247.3" r="4.5"/>
<circle cx="421.2" cy="1280.2" r="4.5"/>
<circle cx="466.5" cy="1233.4" r="4.5"/>
<circle cx="543.9" cy="1154.0" r="4.5"/>
<circle cx="420.0" cy="1231.1" r="4.5"/>
<circle cx="406.3" cy="1241.9" r="4.5"/>
<circle cx="369.8" cy="1251.5" r="4.5"/>
<circle cx="466.0" cy="1197.6" r="4.5"/>
<circle cx="455.2" cy="1214.2" r="4.5"/>
<circle cx="405.2" cy="1269.3" r="4.5"/>
<circle cx="397.0" cy="1308.0" r="4.5"/>
<circle cx="447.3" cy="1226.2" r="4.5"/>
<circle cx="391.7" cy="1286.5" r="4.5"/>
<circle cx="445.3" cy="1171.0" r="4.5"/>
<circle cx="430.1" cy="1201.0" r="4.5"/>
<circle cx="398.2" cy="1359.1" r="4.5"/>
<circle cx="415.7" cy="1258.2" r="4.5"/>
<circle cx="440.9" cy="1259.3" r="4.5"/>
<circle cx="433.7" cy="1212.9" r="4.5"/>
<circle cx="489.0" cy="1218.3" r="4.5"/>
<circle cx="366.2" cy="1295.3" r="4.5"/>
<circle cx="445.7" cy="1214.8" r="4.5"/>
<circle cx="450.3" cy="1242.1" r="4.5"/>
<circle cx="434.4" cy="1278.9" r="4.5"/>
<circle cx="578.7" cy="1277.3" r="4.5"/>
<circle cx="458.6" cy="1204.3" r="4.5"/>
<circle cx="430.0" cy="1253.0" r="4.5"/>
<circle cx="415.3" cy="1207.6" r="4.5"/>
<circle cx="412.9" cy="1290.7" r="4.5"/>
<circle cx="374.1" cy="1225.5" r="4.5"/>
<circle cx="473.8" cy="1096.9" r="4.5"/>
<circle cx="419.4" cy="1248.2" r="4.5"/>
<circle cx="402.1" cy="1258.9" r="4.5"/>
<circle cx="441.8" cy="1243.8" r="4.5"/>
<circle cx="444.2" cy="1203.0" r="4.5"/>
<circle cx="448.2" cy="1208.8" r="4.5"/>
<circle cx="488.4" cy="1180.1" r="4.5"/>
<circle cx="436.3" cy="1279.9" r="4.5"/>
<circle cx="322.0" cy="1342.1" r="4.5"/>
<circle cx="556.7" cy="1163.6" r="4.5"/>
<circle cx="456.5" cy="1196.6" r="4.5"/>
<circle cx="421.2" cy="1240.0" r="4.5"/>
<circle cx="444.4" cy="1224.1" r="4.5"/>
<circle cx="355.3" cy="1222.5" r="4.5"/>
<circle cx="419.8" cy="1238.4" r="4.5"/>
<circle cx="425.5" cy="1238.7" r="4.5"/>
<circle cx="410.3" cy="1215.3" r="4.5"/>
<circle cx="476.3" cy="1222.7" r="4.5"/>
<circle cx="453.9" cy="1229.9" r="4.5"/>
<circle cx="424.3" cy="1263.8" r="4.5"/>
<circle cx="408.1" cy="1234.6" r="4.5"/>
<circle cx="454.2" cy="1201.0" r="4.5"/>
<circle cx="395.1" cy="1297.1" r="4.5"/>
<circle cx="464.8" cy="1255.7" r="4.5"/>
<circle cx="459.3" cy="1194.6" r="4.5"/>
<circle cx="441.8" cy="1258.7" r="4.5"/>
<circle cx="419.8" cy="1198.5" r="4.5"/>
<circle cx="413.7" cy="1221.3" r="4.5"/>
<circle cx="457.4" cy="1189.6" r="4.5"/>
<circle cx="446.5" cy="1250.2" r="4.5"/>
<circle cx="432.0" cy="1250.4" r="4.5"/>
<circle cx="507.2" cy="1172.0" r="4.5"/>
<circle cx="416.5" cy="1231.4" r="4.5"/>
<circle cx="417.3" cy="1234.0" r="4.5"/>
<circle cx="444.8" cy="1200.1" r="4.5"/>
<circle cx="479.6" cy="1181.3" r="4.5"/>
<circle cx="441.0" cy="1211.8" r="4.5"/>
<circle cx="419.0" cy="1268.4" r="4.5"/>
<circle cx="450.6" cy="1191.7" r="4.5"/>
<circle cx="398.3" cy="1256.8" r="4.5"/>
<circle cx="464.5" cy="1213.7" r="4.5"/>
<circle cx="448.1" cy="1237.6" r="4.5"/>
<circle cx="499.2" cy="1186.7" r="4.5"/>
<circle cx="450.7" cy="1217.4" r="4.5"/>
<circle cx="474.1" cy="1233.7" r="4.5"/>
<circle cx="490.9" cy="1191.3" r="4.5"/>
<circle cx="487.3" cy="1194.4" r="4.5"/>
<circle cx="468.8" cy="1213.2" r="4.5"/>
<circle cx="435.9" cy="1241.8" r="4.5"/>
<circle cx="405.0" cy="1251.8" r="4.5"/>
<circle cx="411.0" cy="1267.6" r="4.5"/>
<circle cx="454.0" cy="1225.2" r="4.5"/>
<circle cx="486.6" cy="1211.5" r="4.5"/>
<circle cx="443.1" cy="1256.6" r="4.5"/>
<circle cx="431.7" cy="1241.2" r="4.5"/>
<circle cx="567.8" cy="1165.4" r="4.5"/>
<circle cx="524.2" cy="1189.9" r="4.5"/>
<circle cx="437.2" cy="1224.9" r="4.5"/>
<circle cx="400.4" cy="1254.2" r="4.5"/>
<circle cx="416.8" cy="1272.3" r="4.5"/>
<circle cx="415.7" cy="1228.0" r="4.5"/>
<circle cx="474.5" cy="1275.2" r="4.5"/>
<circle cx="450.3" cy="1224.2" r="4.5"/>
<circle cx="426.1" cy="1219.6" r="4.5"/>
<circle cx="353.0" cy="1215.0" r="4.5"/>
<circle cx="437.5" cy="1201.7" r="4.5"/>
<circle cx="494.3" cy="1174.5" r="4.5"/>
<circle cx="419.5" cy="1243.2" r="4.5"/>
<circle cx="508.4" cy="1081.7" r="4.5"/>
<circle cx="409.0" cy="1292.6" r="4.5"/>
<circle cx="408.4" cy="1254.7" r="4.5"/>
<circle cx="445.2" cy="1203.3" r="4.5"/>
<circle cx="396.2" cy="1158.5" r="4.5"/>
<circle cx="406.5" cy="1249.4" r="4.5"/>
<circle cx="378.7" cy="1269.4" r="4.5"/>
<circle cx="480.2" cy="1235.7" r="4.5"/>
<circle cx="447.4" cy="1271.8" r="4.5"/>
<circle cx="496.9" cy="1195.7" r="4.5"/>
<circle cx="525.2" cy="1210.3" r="4.5"/>
<circle cx="474.5" cy="1186.6" r="4.5"/>
<circle cx="418.7" cy="1236.3" r="4.5"/>
<circle cx="413.7" cy="1294.6" r="4.5"/>
<circle cx="448.8" cy="1249.6" r="4.5"/>
<circle cx="398.9" cy="1281.3" r="4.5"/>
<circle cx="473.5" cy="1214.1" r="4.5"/>
<circle cx="429.7" cy="1229.9" r="4.5"/>
<circle cx="420.0" cy="1280.9" r="4.5"/>
<circle cx="539.6" cy="1320.0" r="4.5"/>
<circle cx="451.1" cy="1198.4" r="4.5"/>
<circle cx="457.8" cy="1202.7" r="4.5"/>
<circle cx="452.8" cy="1254.2" r="4.5"/>
<circle cx="455.5" cy="1203.8" r="4.5"/>
<circle cx="470.5" cy="1190.1" r="4.5"/>
<circle cx="471.0" cy="1198.4" r="4.5"/>
<circle cx="418.2" cy="1240.9" r="4.5"/>
<circle cx="451.3" cy="1260.4" r="4.5"/>
<circle cx="445.5" cy="1222.6" r="4.5"/>
<circle cx="451.8" cy="1200.6" r="4.5"/>
<circle cx="434.4" cy="1241.0" r="4.5"/>
<circle cx="437.4" cy="1219.1" r="4.5"/>
<circle cx="405.0" cy="1258.1" r="4.5"/>
<circle cx="411.8" cy="1237.4" r="4.5"/>
<circle cx="434.7" cy="1279.8" r="4.5"/>
<circle cx="441.2" cy="1208.7" r="4.5"/>
<circle cx="398.9" cy="1200.3" r="4.5"/>
<circle cx="471.0" cy="1214.1" r="4.5"/>
<circle cx="408.7" cy="1295.6" r="4.5"/>
<circle cx="395.7" cy="1243.2" r="4.5"/>
<circle cx="449.0" cy="1269.7" r="4.5"/>
<circle cx="458.9" cy="1164.5" r="4.5"/>
<circle cx="441.7" cy="1241.6" r="4.5"/>
<circle cx="402.6" cy="1264.6" r="4.5"/>
<circle cx="479.9" cy="1159.2" r="4.5"/>
<circle cx="455.3" cy="1263.7" r="4.5"/>
<circle cx="414.1" cy="1245.2" r="4.5"/>
<circle cx="465.3" cy="1230.9" r="4.5"/>
<circle cx="454.8" cy="1207.2" r="4.5"/>
<circle cx="398.9" cy="1262.5" r="4.5"/>
<circle cx="454.1" cy="1235.0" r="4.5"/>
<circle cx="401.9" cy="1283.4" r="4.5"/>
<circle cx="441.6" cy="1215.1" r="4.5"/>
<circle cx="441.8" cy="1237.0" r="4.5"/>
<circle cx="441.5" cy="1242.2" r="4.5"/>
<circle cx="501.1" cy="1172.4" r="4.5"/>
<circle cx="412.4" cy="1261.1" r="4.5"/>
<circle cx="466.2" cy="1232.3" r="4.5"/>
<circle cx="439.1" cy="1224.4" r="4.5"/>
<circle cx="496.9" cy="1180.5" r="4.5"/>
<circle cx="445.1" cy="1245.3" r="4.5"/>
<circle cx="436.9" cy="1236.8" r="4.5"/>
<circle cx="416.8" cy="1249.9" r="4.5"/>
<circle cx="440.6" cy="1208.2" r="4.5"/>
<circle cx="443.2" cy="1286.6" r="4.5"/>
<circle cx="453.4" cy="1221.9" r="4.5"/>
<circle cx="392.6" cy="1300.1" r="4.5"/>
<circle cx="427.8" cy="1263.0" r="4.5"/>
<circle cx="444.4" cy="1219.4" r="4.5"/>
<circle cx="466.2" cy="1175.6" r="4.5"/>
<circle cx="419.6" cy="1294.3" r="4.5"/>
<circle cx="439.0" cy="1244.9" r="4.5"/>
<circle cx="390.7" cy="1348.2" r="4.5"/>
<circle cx="460.7" cy="1203.6" r="4.5"/>
<circle cx="416.6" cy="1248.1" r="4.5"/>
<circle cx="475.6" cy="1240.5" r="4.5"/>
<circle cx="435.0" cy="1235.0" r="4.5"/>
<circle cx="456.8" cy="1248.2" r="4.5"/>
<circle cx="449.8" cy="1228.9" r="4.5"/>
<circle cx="429.0" cy="1229.5" r="4.5"/>
<circle cx="464.7" cy="1235.7" r="4.5"/>
<circle cx="431.6" cy="1220.9" r="4.5"/>
<circle cx="482.1" cy="1164.8" r="4.5"/>
<circle cx="439.1" cy="1191.4" r="4.5"/>
<circle cx="433.3" cy="1298.0" r="4.5"/>
<circle cx="396.4" cy="1216.1" r="4.5"/>
<circle cx="456.2" cy="1224.6" r="4.5"/>
<circle cx="420.6" cy="1220.8" r="4.5"/>
<circle cx="461.8" cy="1218.4" r="4.5"/>
<circle cx="465.9" cy="1256.9" r="4.5"/>
<circle cx="478.7" cy="1193.9" r="4.5"/>
<circle cx="433.8" cy="1254.3" r="4.5"/>
<circle cx="411.9" cy="1269.4" r="4.5"/>
<circle cx="400.6" cy="1320.7" r="4.5"/>
<circle cx="465.0" cy="1205.0" r="4.5"/>
<circle cx="402.5" cy="1292.1" r="4.5"/>
<circle cx="478.3" cy="1213.0" r="4.5"/>
<circle cx="322.0" cy="1256.2" r="4.5"/>
<circle cx="453.8" cy="1217.3" r="4.5"/>
<circle cx="498.9" cy="1148.8" r="4.5"/>
<circle cx="430.0" cy="1221.1" r="4.5"/>
<circle cx="457.5" cy="1182.1" r="4.5"/>
<circle cx="443.8" cy="1193.2" r="4.5"/>
<circle cx="447.4" cy="1218.0" r="4.5"/>
<circle cx="466.2" cy="1188.7" r="4.5"/>
<circle cx="422.0" cy="1236.6" r="4.5"/>
<circle cx="430.7" cy="1203.4" r="4.5"/>
<circle cx="451.5" cy="1239.4" r="4.5"/>
<circle cx="431.6" cy="1213.8" r="4.5"/>
<circle cx="484.0" cy="1199.5" r="4.5"/>
<circle cx="450.0" cy="1219.7" r="4.5"/>
<circle cx="434.3" cy="1218.7" r="4.5"/>
<circle cx="499.9" cy="1184.4" r="4.5"/>
<circle cx="467.2" cy="1187.0" r="4.5"/>
<circle cx="528.9" cy="1170.6" r="4.5"/>
<circle cx="461.8" cy="1209.5" r="4.5"/>
<circle cx="434.0" cy="1211.7" r="4.5"/>
<circle cx="378.8" cy="1235.5" r="4.5"/>
<circle cx="459.4" cy="1180.8" r="4.5"/>
<circle cx="507.6" cy="1212.8" r="4.5"/>
<circle cx="492.0" cy="1186.9" r="4.5"/>
<circle cx="509.7" cy="1049.1" r="4.5"/>
<circle cx="457.6" cy="1252.4" r="4.5"/>
<circle cx="456.9" cy="1173.3" r="4.5"/>
<circle cx="439.4" cy="1198.8" r="4.5"/>
<circle cx="434.2" cy="1243.4" r="4.5"/>
<circle cx="401.0" cy="1227.2" r="4.5"/>
<circle cx="507.8" cy="1115.7" r="4.5"/>
<circle cx="448.8" cy="1209.8" r="4.5"/>
<circle cx="470.0" cy="1189.8" r="4.5"/>
<circle cx="425.2" cy="1266.6" r="4.5"/>
<circle cx="429.7" cy="1215.1" r="4.5"/>
<circle cx="477.6" cy="1260.5" r="4.5"/>
<circle cx="505.8" cy="1173.6" r="4.5"/>
<circle cx="480.6" cy="1223.2" r="4.5"/>
<circle cx="380.9" cy="1262.3" r="4.5"/>
<circle cx="458.1" cy="1212.8" r="4.5"/>
<circle cx="431.3" cy="1238.5" r="4.5"/>
<circle cx="431.8" cy="1263.3" r="4.5"/>
<circle cx="416.1" cy="1234.0" r="4.5"/>
<circle cx="570.5" cy="1113.0" r="4.5"/>
<circle cx="435.5" cy="1253.1" r="4.5"/>
<circle cx="436.7" cy="1176.2" r="4.5"/>
<circle cx="447.2" cy="1205.8" r="4.5"/>
<circle cx="387.1" cy="1312.9" r="4.5"/>
<circle cx="469.3" cy="1166.2" r="4.5"/>
<circle cx="424.9" cy="1244.6" r="4.5"/>
<circle cx="457.9" cy="1225.0" r="4.5"/>
<circle cx="458.1" cy="1227.6" r="4.5"/>
<circle cx="454.0" cy="1238.2" r="4.5"/>
<circle cx="450.9" cy="1221.2" r="4.5"/>
<circle cx="397.6" cy="1268.3" r="4.5"/>
<circle cx="418.9" cy="1205.6" r="4.5"/>
<circle cx="450.8" cy="1235.9" r="4.5"/>
<circle cx="458.0" cy="1250.7" r="4.5"/>
<circle cx="496.7" cy="1177.5" r="4.5"/>
<circle cx="438.9" cy="1206.6" r="4.5"/>
<circle cx="439.3" cy="1241.4" r="4.5"/>
<circle cx="460.2" cy="1226.3" r="4.5"/>
<circle cx="454.7" cy="1194.4" r="4.5"/>
<circle cx="488.5" cy="1181.1" r="4.5"/>
<circle cx="503.0" cy="1151.0" r="4.5"/>
<circle cx="455.6" cy="1210.5" r="4.5"/>
<circle cx="479.8" cy="1180.7" r="4.5"/>
<circle cx="404.5" cy="1269.8" r="4.5"/>
<circle cx="379.5" cy="1359.2" r="4.5"/>
<circle cx="420.8" cy="1240.2" r="4.5"/>
<circle cx="445.6" cy="1225.6" r="4.5"/>
<circle cx="451.0" cy="1213.3" r="4.5"/>
<circle cx="423.3" cy="1258.0" r="4.5"/>
<circle cx="507.5" cy="1164.0" r="4.5"/>
<circle cx="447.4" cy="1239.2" r="4.5"/>
<circle cx="493.4" cy="1175.3" r="4.5"/>
<circle cx="410.1" cy="1340.3" r="4.5"/>
<circle cx="419.3" cy="1231.7" r="4.5"/>
<circle cx="461.4" cy="1163.8" r="4.5"/>
<circle cx="430.0" cy="1233.8" r="4.5"/>
<circle cx="462.7" cy="1217.6" r="4.5"/>
<circle cx="392.5" cy="1254.1" r="4.5"/>
<circle cx="420.1" cy="1230.5" r="4.5"/>
<circle cx="504.4" cy="1180.1" r="4.5"/>
<circle cx="459.7" cy="1191.6" r="4.5"/>
<circle cx="466.1" cy="1214.1" r="4.5"/>
<circle cx="445.1" cy="1224.1" r="4.5"/>
<circle cx="423.7" cy="1226.1" r="4.5"/>
<circle cx="538.3" cy="1173.0" r="4.5"/>
<circle cx="466.1" cy="1188.3" r="4.5"/>
<circle cx="429.0" cy="1289.3" r="4.5"/>
<circle cx="393.1" cy="1219.5" r="4.5"/>
<circle cx="440.0" cy="1218.8" r="4.5"/>
<circle cx="412.1" cy="1238.6" r="4.5"/>
<circle cx="427.2" cy="1238.1" r="4.5"/>
<circle cx="440.4" cy="1238.7" r="4.5"/>
<circle cx="562.2" cy="1050.0" r="4.5"/>
<circle cx="410.1" cy="1259.5" r="4.5"/>
<circle cx="429.9" cy="1238.2" r="4.5"/>
<circle cx="477.0" cy="1180.9" r="4.5"/>
<circle cx="439.0" cy="1240.1" r="4.5"/>
<circle cx="452.5" cy="1251.3" r="4.5"/>
<circle cx="429.7" cy="1215.6" r="4.5"/>
<circle cx="464.6" cy="1212.0" r="4.5"/>
<circle cx="443.4" cy="1174.0" r="4.5"/>
<circle cx="422.8" cy="1224.1" r="4.5"/>
<circle cx="401.4" cy="1285.8" r="4.5"/>
<circle cx="411.8" cy="1258.4" r="4.5"/>
<circle cx="415.9" cy="1230.7" r="4.5"/>
<circle cx="409.8" cy="1247.0" r="4.5"/>
<circle cx="393.4" cy="1219.5" r="4.5"/>
<circle cx="524.0" cy="1214.0" r="4.5"/>
<circle cx="479.1" cy="1219.4" r="4.5"/>
<circle cx="439.5" cy="1247.9" r="4.5"/>
<circle cx="450.4" cy="1234.6" r="4.5"/>
<circle cx="529.1" cy="1059.2" r="4.5"/>
<circle cx="470.1" cy="1222.4" r="4.5"/>
<circle cx="450.2" cy="1240.1" r="4.5"/>
<circle cx="416.8" cy="1249.6" r="4.5"/>
<circle cx="439.8" cy="1235.2" r="4.5"/>
<circle cx="433.3" cy="1244.2" r="4.5"/>
<circle cx="458.2" cy="1204.0" r="4.5"/>
<circle cx="439.1" cy="1238.0" r="4.5"/>
<circle cx="403.6" cy="1263.1" r="4.5"/>
<circle cx="454.0" cy="1239.7" r="4.5"/>
<circle cx="435.8" cy="1196.3" r="4.5"/>
<circle cx="483.9" cy="1264.8" r="4.5"/>
<circle cx="403.8" cy="1235.3" r="4.5"/>
<circle cx="392.0" cy="1246.7" r="4.5"/>
<circle cx="440.4" cy="1225.8" r="4.5"/>
<circle cx="395.3" cy="1277.7" r="4.5"/>
<circle cx="490.6" cy="1165.1" r="4.5"/>
<circle cx="422.0" cy="1296.8" r="4.5"/>
<circle cx="442.1" cy="1236.8" r="4.5"/>
<circle cx="447.6" cy="1267.0" r="4.5"/>
<circle cx="426.2" cy="1218.4" r="4.5"/>
<circle cx="428.4" cy="1245.3" r="4.5"/>
<circle cx="360.6" cy="1296.5" r="4.5"/>
<circle cx="465.5" cy="1198.0" r="4.5"/>
<circle cx="420.1" cy="1262.8" r="4.5"/>
<circle cx="438.8" cy="1239.9" r="4.5"/>
<circle cx="405.5" cy="1198.2" r="4.5"/>
<circle cx="443.5" cy="1263.6" r="4.5"/>
<circle cx="457.2" cy="1202.4" r="4.5"/>
<circle cx="431.2" cy="1253.4" r="4.5"/>
<circle cx="430.6" cy="1213.2" r="4.5"/>
<circle cx="432.1" cy="1194.4" r="4.5"/>
<circle cx="397.6" cy="1268.8" r="4.5"/>
<circle cx="402.7" cy="1217.7" r="4.5"/>
<circle cx="457.8" cy="1221.7" r="4.5"/>
<circle cx="490.6" cy="1186.1" r="4.5"/>
<circle cx="508.6" cy="1141.5" r="4.5"/>
<circle cx="417.5" cy="1248.3" r="4.5"/>
<circle cx="488.3" cy="1185.5" r="4.5"/>
<circle cx="427.9" cy="1259.9" r="4.5"/>
<circle cx="409.6" cy="1268.3" r="4.5"/>
<circle cx="429.1" cy="1225.2" r="4.5"/>
<circle cx="410.9" cy="1269.4" r="4.5"/>
<circle cx="454.4" cy="1225.8" r="4.5"/>
<circle cx="392.1" cy="1303.9" r="4.5"/>
<circle cx="459.3" cy="1184.6" r="4.5"/>
<circle cx="494.8" cy="1196.2" r="4.5"/>
<circle cx="457.3" cy="1248.0" r="4.5"/>
<circle cx="438.9" cy="1200.8" r="4.5"/>
<circle cx="482.4" cy="1229.8" r="4.5"/>
<circle cx="431.9" cy="1221.4" r="4.5"/>
<circle cx="421.1" cy="1251.1" r="4.5"/>
<circle cx="442.6" cy="1237.6" r="4.5"/>
<circle cx="481.8" cy="1191.3" r="4.5"/>
<circle cx="469.6" cy="1151.0" r="4.5"/>
<circle cx="431.2" cy="1215.2" r="4.5"/>
<circle cx="332.1" cy="1343.8" r="4.5"/>
<circle cx="437.6" cy="1247.9" r="4.5"/>
<circle cx="451.6" cy="1199.0" r="4.5"/>
<circle cx="473.2" cy="1205.8" r="4.5"/>
<circle cx="483.5" cy="1244.0" r="4.5"/>
<circle cx="400.3" cy="1234.2" r="4.5"/>
<circle cx="453.8" cy="1241.0" r="4.5"/>
<circle cx="428.7" cy="1213.6" r="4.5"/>
<circle cx="437.8" cy="1218.0" r="4.5"/>
<circle cx="436.3" cy="1245.1" r="4.5"/>
<circle cx="445.0" cy="1178.2" r="4.5"/>
<circle cx="438.9" cy="1258.9" r="4.5"/>
<circle cx="349.6" cy="1345.4" r="4.5"/>
<circle cx="424.5" cy="1240.0" r="4.5"/>
<circle cx="479.1" cy="1200.6" r="4.5"/>
<circle cx="477.8" cy="1210.5" r="4.5"/>
<circle cx="388.3" cy="1279.1" r="4.5"/>
<circle cx="451.5" cy="1206.7" r="4.5"/>
<circle cx="493.1" cy="1200.8" r="4.5"/>
<circle cx="540.7" cy="1170.3" r="4.5"/>
<circle cx="490.0" cy="1202.7" r="4.5"/>
<circle cx="449.7" cy="1193.0" r="4.5"/>
<circle cx="422.9" cy="1288.2" r="4.5"/>
<circle cx="369.9" cy="1200.0" r="4.5"/>
<circle cx="473.0" cy="1183.6" r="4.5"/>
<circle cx="402.2" cy="1255.7" r="4.5"/>
<circle cx="427.4" cy="1210.1" r="4.5"/>
<circle cx="424.8" cy="1243.9" r="4.5"/>
<circle cx="506.2" cy="1163.4" r="4.5"/>
<circle cx="471.5" cy="1205.5" r="4.5"/>
<circle cx="441.0" cy="1210.9" r="4.5"/>
<circle cx="468.6" cy="1256.1" r="4.5"/>
<circle cx="370.8" cy="1288.5" r="4.5"/>
<circle cx="423.1" cy="1263.7" r="4.5"/>
<circle cx="450.2" cy="1234.6" r="4.5"/>
<circle cx="453.3" cy="1214.2" r="4.5"/>
<circle cx="443.4" cy="1205.5" r="4.5"/>
<circle cx="418.0" cy="1280.7" r="4.5"/>
<circle cx="495.5" cy="1188.6" r="4.5"/>
<circle cx="495.4" cy="1165.2" r="4.5"/>
<circle cx="439.6" cy="1222.5" r="4.5"/>
<circle cx="414.0" cy="1255.0" r="4.5"/>
<circle cx="422.6" cy="1257.4" r="4.5"/>
<circle cx="434.1" cy="1236.5" r="4.5"/>
<circle cx="444.6" cy="1224.8" r="4.5"/>
<circle cx="448.3" cy="1215.9" r="4.5"/>
<circle cx="461.4" cy="1190.0" r="4.5"/>
<circle cx="423.2" cy="1242.4" r="4.5"/>
<circle cx="256.2" cy="1411.6" r="4.5"/>
<circle cx="426.4" cy="1229.5" r="4.5"/>
<circle cx="440.0" cy="1278.6" r="4.5"/>
<circle cx="424.8" cy="1264.3" r="4.5"/>
<circle cx="431.0" cy="1224.4" r="4.5"/>
<circle cx="521.0" cy="1160.6" r="4.5"/>
<circle cx="406.3" cy="1298.3" r="4.5"/>
<circle cx="457.1" cy="1205.8" r="4.5"/>
<circle cx="457.7" cy="1199.6" r="4.5"/>
<circle cx="449.5" cy="1303.8" r="4.5"/>
<circle cx="423.9" cy="1238.7" r="4.5"/>
<circle cx="450.3" cy="1249.6" r="4.5"/>
<circle cx="424.5" cy="1210.1" r="4.5"/>
<circle cx="456.2" cy="1192.8" r="4.5"/>
<circle cx="509.3" cy="1129.3" r="4.5"/>
<circle cx="436.8" cy="1215.0" r="4.5"/>
<circle cx="417.0" cy="1257.5" r="4.5"/>
<circle cx="416.7" cy="1251.6" r="4.5"/>
<circle cx="440.8" cy="1258.5" r="4.5"/>
<circle cx="441.3" cy="1308.2" r="4.5"/>
<circle cx="458.9" cy="1212.4" r="4.5"/>
<circle cx="449.6" cy="1219.8" r="4.5"/>
<circle cx="504.5" cy="1167.3" r="4.5"/>
<circle cx="409.4" cy="1280.5" r="4.5"/>
<circle cx="424.8" cy="1303.9" r="4.5"/>
<circle cx="516.2" cy="1061.0" r="4.5"/>
<circle cx="393.3" cy="1138.8" r="4.5"/>
<circle cx="435.9" cy="1251.7" r="4.5"/>
<circle cx="462.1" cy="1215.5" r="4.5"/>
<circle cx="471.2" cy="1221.2" r="4.5"/>
<circle cx="438.6" cy="1227.2" r="4.5"/>
<circle cx="481.8" cy="1160.4" r="4.5"/>
<circle cx="418.1" cy="1190.4" r="4.5"/>
<circle cx="440.5" cy="1210.7" r="4.5"/>
<circle cx="451.0" cy="1238.9" r="4.5"/>
<circle cx="425.6" cy="1237.8" r="4.5"/>
<circle cx="447.1" cy="1207.9" r="4.5"/>
<circle cx="431.6" cy="1262.6" r="4.5"/>
<circle cx="414.7" cy="1292.1" r="4.5"/>
<circle cx="463.1" cy="1222.7" r="4.5"/>
<circle cx="351.4" cy="1295.0" r="4.5"/>
<circle cx="436.5" cy="1206.9" r="4.5"/>
<circle cx="451.3" cy="1204.9" r="4.5"/>
<circle cx="463.0" cy="1225.4" r="4.5"/>
<circle cx="467.7" cy="1223.5" r="4.5"/>
<circle cx="416.0" cy="1243.7" r="4.5"/>
<circle cx="442.9" cy="1249.3" r="4.5"/>
<circle cx="558.6" cy="1198.5" r="4.5"/>
<circle cx="400.2" cy="1349.0" r="4.5"/>
<circle cx="511.9" cy="1185.9" r="4.5"/>
<circle cx="473.7" cy="1196.3" r="4.5"/>
<circle cx="456.2" cy="1237.3" r="4.5"/>
<circle cx="453.3" cy="1196.3" r="4.5"/>
<circle cx="404.5" cy="1287.1" r="4.5"/>
<circle cx="473.1" cy="1221.7" r="4.5"/>
<circle cx="506.5" cy="1162.3" r="4.5"/>
<circle cx="349.6" cy="1265.9" r="4.5"/>
<circle cx="380.0" cy="1299.8" r="4.5"/>
<circle cx="501.7" cy="1141.9" r="4.5"/>
<circle cx="430.6" cy="1219.4" r="4.5"/>
<circle cx="440.0" cy="1230.0" r="4.5"/>
<circle cx="432.6" cy="1270.9" r="4.5"/>
<circle cx="460.4" cy="1183.2" r="4.5"/>
<circle cx="407.0" cy="1284.5" r="4.5"/>
<circle cx="430.0" cy="1244.9" r="4.5"/>
<circle cx="436.9" cy="1273.8" r="4.5"/>
<circle cx="419.1" cy="1264.8" r="4.5"/>
<circle cx="404.8" cy="1268.2" r="4.5"/>
<circle cx="390.3" cy="1306.2" r="4.5"/>
<circle cx="395.9" cy="1242.5" r="4.5"/>
<circle cx="477.6" cy="1175.0" r="4.5"/>
<circle cx="492.0" cy="1198.0" r="4.5"/>
<circle cx="421.8" cy="1233.2" r="4.5"/>
<circle cx="451.5" cy="1229.1" r="4.5"/>
<circle cx="486.1" cy="1176.5" r="4.5"/>
<circle cx="478.0" cy="1213.0" r="4.5"/>
<circle cx="444.6" cy="1199.3" r="4.5"/>
<circle cx="442.4" cy="1256.9" r="4.5"/>
<circle cx="497.0" cy="1223.7" r="4.5"/>
<circle cx="484.4" cy="1208.9" r="4.5"/>
<circle cx="407.0" cy="1289.8" r="4.5"/>
<circle cx="404.1" cy="1226.3" r="4.5"/>
<circle cx="442.6" cy="1222.9" r="4.5"/>
<circle cx="441.5" cy="1216.3" r="4.5"/>
<circle cx="457.9" cy="1168.7" r="4.5"/>
<circle cx="387.3" cy="1249.5" r="4.5"/>
<circle cx="448.4" cy="1191.8" r="4.5"/>
<circle cx="420.8" cy="1209.5" r="4.5"/>
<circle cx="409.8" cy="1263.1" r="4.5"/>
<circle cx="467.7" cy="1213.7" r="4.5"/>
<circle cx="428.5" cy="1241.9" r="4.5"/>
<circle cx="437.9" cy="1202.4" r="4.5"/>
<circle cx="440.5" cy="1220.1" r="4.5"/>
<circle cx="445.3" cy="1193.1" r="4.5"/>
<circle cx="469.0" cy="1218.0" r="4.5"/>
<circle cx="404.1" cy="1261.7" r="4.5"/>
<circle cx="459.7" cy="1216.2" r="4.5"/>
<circle cx="430.2" cy="1216.3" r="4.5"/>
<circle cx="457.9" cy="1226.5" r="4.5"/>
<circle cx="447.4" cy="1231.0" r="4.5"/>
<circle cx="479.5" cy="1213.1" r="4.5"/>
<circle cx="370.4" cy="1247.0" r="4.5"/>
<circle cx="430.1" cy="1103.8" r="4.5"/>
<circle cx="358.2" cy="1290.9" r="4.5"/>
<circle cx="430.1" cy="1219.7" r="4.5"/>
<circle cx="459.0" cy="1205.7" r="4.5"/>
<circle cx="438.0" cy="1222.5" r="4.5"/>
<circle cx="478.3" cy="1213.1" r="4.5"/>
<circle cx="451.9" cy="1242.7" r="4.5"/>
<circle cx="467.1" cy="1165.2" r="4.5"/>
<circle cx="380.1" cy="1270.5" r="4.5"/>
<circle cx="459.0" cy="1220.5" r="4.5"/>
<circle cx="427.3" cy="1281.3" r="4.5"/>
<circle cx="471.2" cy="1187.6" r="4.5"/>
<circle cx="495.2" cy="1203.5" r="4.5"/>
<circle cx="404.6" cy="1296.4" r="4.5"/>
<circle cx="382.0" cy="1310.7" r="4.5"/>
<circle cx="418.0" cy="1272.2" r="4.5"/>
<circle cx="387.7" cy="1321.7" r="4.5"/>
<circle cx="429.3" cy="1244.8" r="4.5"/>
<circle cx="386.9" cy="1305.0" r="4.5"/>
<circle cx="457.2" cy="1219.7" r="4.5"/>
<circle cx="427.4" cy="1257.2" r="4.5"/>
<circle cx="399.1" cy="1244.4" r="4.5"/>
<circle cx="424.5" cy="1214.1" r="4.5"/>
<circle cx="433.3" cy="1249.5" r="4.5"/>
<circle cx="437.3" cy="1253.4" r="4.5"/>
<circle cx="433.7" cy="1247.0" r="4.5"/>
<circle cx="423.9" cy="1259.1" r="4.5"/>
<circle cx="419.7" cy="1235.9" r="4.5"/>
<circle cx="376.6" cy="1254.7" r="4.5"/>
<circle cx="438.1" cy="1210.0" r="4.5"/>
<circle cx="500.3" cy="1150.3" r="4.5"/>
<circle cx="470.7" cy="1237.3" r="4.5"/>
<circle cx="453.9" cy="1244.2" r="4.5"/>
<circle cx="430.8" cy="1233.3" r="4.5"/>
<circle cx="470.4" cy="1193.3" r="4.5"/>
<circle cx="437.5" cy="1215.0" r="4.5"/>
<circle cx="416.4" cy="1283.5" r="4.5"/>
<circle cx="414.8" cy="1285.8" r="4.5"/>
<circle cx="485.9" cy="1196.1" r="4.5"/>
<circle cx="440.3" cy="1245.7" r="4.5"/>
<circle cx="447.1" cy="1242.8" r="4.5"/>
<circle cx="448.7" cy="1210.4" r="4.5"/>
<circle cx="516.5" cy="1163.9" r="4.5"/>
<circle cx="502.3" cy="1197.2" r="4.5"/>
<circle cx="461.1" cy="1206.5" r="4.5"/>
<circle cx="431.4" cy="1263.9" r="4.5"/>
<circle cx="461.4" cy="1150.8" r="4.5"/>
<circle cx="446.7" cy="1218.3" r="4.5"/>
<circle cx="422.8" cy="1221.5" r="4.5"/>
<circle cx="500.1" cy="1202.2" r="4.5"/>
<circle cx="391.7" cy="1292.8" r="4.5"/>
<circle cx="393.1" cy="1281.3" r="4.5"/>
<circle cx="567.3" cy="1161.8" r="4.5"/>
<circle cx="416.3" cy="1266.8" r="4.5"/>
<circle cx="457.0" cy="1214.8" r="4.5"/>
<circle cx="437.4" cy="1217.0" r="4.5"/>
<circle cx="477.6" cy="1198.4" r="4.5"/>
<circle cx="455.7" cy="1264.6" r="4.5"/>
<circle cx="447.5" cy="1203.9" r="4.5"/>
<circle cx="424.0" cy="1239.8" r="4.5"/>
<circle cx="426.1" cy="1219.1" r="4.5"/>
<circle cx="472.7" cy="1197.4" r="4.5"/>
<circle cx="425.3" cy="1240.7" r="4.5"/>
<circle cx="402.7" cy="1244.0" r="4.5"/>
<circle cx="460.5" cy="1243.5" r="4.5"/>
<circle cx="472.4" cy="1203.1" r="4.5"/>
<circle cx="449.1" cy="1231.6" r="4.5"/>
<circle cx="459.9" cy="1242.2" r="4.5"/>
<circle cx="436.1" cy="1254.3" r="4.5"/>
<circle cx="321.3" cy="1340.9" r="4.5"/>
<circle cx="426.7" cy="1254.8" r="4.5"/>
<circle cx="452.4" cy="1220.0" r="4.5"/>
<circle cx="404.9" cy="1285.9" r="4.5"/>
<circle cx="467.3" cy="1185.2" r="4.5"/>
<circle cx="429.2" cy="1238.9" r="4.5"/>
<circle cx="403.0" cy="1193.2" r="4.5"/>
<circle cx="428.2" cy="1257.5" r="4.5"/>
<circle cx="397.1" cy="1236.1" r="4.5"/>
<circle cx="419.7" cy="1292.5" r="4.5"/>
<circle cx="373.7" cy="1282.7" r="4.5"/>
<circle cx="457.0" cy="1220.5" r="4.5"/>
<circle cx="422.1" cy="1279.2" r="4.5"/>
<circle cx="409.4" cy="1252.1" r="4.5"/>
<circle cx="407.7" cy="1291.7" r="4.5"/>
<circle cx="465.9" cy="1249.2" r="4.5"/>
<circle cx="429.3" cy="1236.2" r="4.5"/>
<circle cx="478.7" cy="1215.9" r="4.5"/>
<circle cx="444.2" cy="1224.6" r="4.5"/>
<circle cx="502.8" cy="1139.2" r="4.5"/>
<circle cx="496.2" cy="1187.3" r="4.5"/>
<circle cx="385.6" cy="1286.7" r="4.5"/>
<circle cx="413.1" cy="1228.1" r="4.5"/>
<circle cx="451.0" cy="1211.7" r="4.5"/>
<circle cx="467.1" cy="1227.1" r="4.5"/>
<circle cx="430.4" cy="1227.0" r="4.5"/>
<circle cx="434.3" cy="1294.8" r="4.5"/>
<circle cx="456.2" cy="1223.0" r="4.5"/>
<circle cx="398.6" cy="1254.3" r="4.5"/>
<circle cx="466.1" cy="1215.7" r="4.5"/>
<circle cx="479.3" cy="1196.1" r="4.5"/>
<circle cx="436.8" cy="1225.5" r="4.5"/>
<circle cx="406.4" cy="1218.6" r="4.5"/>
<circle cx="492.8" cy="1183.4" r="4.5"/>
<circle cx="450.7" cy="1182.6" r="4.5"/>
<circle cx="476.8" cy="1244.0" r="4.5"/>
<circle cx="473.8" cy="1163.6" r="4.5"/>
<circle cx="405.9" cy="1245.3" r="4.5"/>
<circle cx="399.2" cy="1284.3" r="4.5"/>
<circle cx="417.0" cy="1262.0" r="4.5"/>
<circle cx="472.4" cy="1215.7" r="4.5"/>
<circle cx="387.4" cy="1279.3" r="4.5"/>
<circle cx="476.8" cy="1218.4" r="4.5"/>
<circle cx="378.3" cy="1249.3" r="4.5"/>
<circle cx="358.5" cy="1286.3" r="4.5"/>
<circle cx="467.6" cy="1282.7" r="4.5"/>
<circle cx="425.8" cy="1273.1" r="4.5"/>
<circle cx="417.1" cy="1249.4" r="4.5"/>
<circle cx="365.2" cy="1302.4" r="4.5"/>
<circle cx="427.3" cy="1231.8" r="4.5"/>
<circle cx="430.0" cy="1229.6" r="4.5"/>
<circle cx="451.9" cy="1228.1" r="4.5"/>
<circle cx="411.6" cy="1262.7" r="4.5"/>
<circle cx="407.7" cy="1254.4" r="4.5"/>
<circle cx="404.9" cy="1226.3" r="4.5"/>
<circle cx="427.5" cy="1230.1" r="4.5"/>
<circle cx="446.1" cy="1233.1" r="4.5"/>
<circle cx="427.4" cy="1262.1" r="4.5"/>
<circle cx="445.2" cy="1225.8" r="4.5"/>
<circle cx="461.3" cy="1201.7" r="4.5"/>
<circle cx="448.7" cy="1238.6" r="4.5"/>
<circle cx="408.3" cy="1236.0" r="4.5"/>
<circle cx="432.8" cy="1228.4" r="4.5"/>
<circle cx="459.0" cy="1271.5" r="4.5"/>
<circle cx="414.5" cy="1251.4" r="4.5"/>
<circle cx="466.3" cy="1209.6" r="4.5"/>
<circle cx="427.5" cy="1265.5" r="4.5"/>
<circle cx="481.2" cy="1186.7" r="4.5"/>
<circle cx="452.3" cy="1243.1" r="4.5"/>
<circle cx="443.0" cy="1246.4" r="4.5"/>
<circle cx="459.0" cy="1228.6" r="4.5"/>
<circle cx="397.5" cy="1276.3" r="4.5"/>
<circle cx="433.0" cy="1214.9" r="4.5"/>
<circle cx="405.2" cy="1243.6" r="4.5"/>
<circle cx="435.7" cy="1210.3" r="4.5"/>
<circle cx="465.0" cy="1240.5" r="4.5"/>
<circle cx="466.4" cy="1221.5" r="4.5"/>
<circle cx="455.5" cy="1243.0" r="4.5"/>
<circle cx="401.3" cy="1293.8" r="4.5"/>
<circle cx="442.9" cy="1230.8" r="4.5"/>
<circle cx="520.9" cy="1164.7" r="4.5"/>
<circle cx="434.3" cy="1255.5" r="4.5"/>
<circle cx="457.0" cy="1184.6" r="4.5"/>
<circle cx="427.1" cy="1247.0" r="4.5"/>
<circle cx="407.1" cy="1274.1" r="4.5"/>
<circle cx="469.0" cy="1183.3" r="4.5"/>
<circle cx="441.5" cy="1237.5" r="4.5"/>
<circle cx="429.3" cy="1262.1" r="4.5"/>
<circle cx="445.0" cy="1230.4" r="4.5"/>
<circle cx="389.0" cy="1239.2" r="4.5"/>
<circle cx="420.2" cy="1281.8" r="4.5"/>
<circle cx="468.4" cy="1204.4" r="4.5"/>
<circle cx="479.3" cy="1186.1" r="4.5"/>
<circle cx="430.5" cy="1227.5" r="4.5"/>
<circle cx="456.5" cy="1182.1" r="4.5"/>
<circle cx="414.6" cy="1243.5" r="4.5"/>
<circle cx="391.7" cy="1295.8" r="4.5"/>
<circle cx="454.2" cy="1268.7" r="4.5"/>
<circle cx="448.6" cy="1244.9" r="4.5"/>
<circle cx="470.1" cy="1206.7" r="4.5"/>
<circle cx="393.1" cy="1261.9" r="4.5"/>
<circle cx="495.4" cy="1153.2" r="4.5"/>
<circle cx="422.4" cy="1218.6" r="4.5"/>
<circle cx="378.3" cy="1296.0" r="4.5"/>
<circle cx="431.0" cy="1212.2" r="4.5"/>
<circle cx="461.6" cy="1257.8" r="4.5"/>
<circle cx="443.4" cy="1196.4" r="4.5"/>
<circle cx="467.2" cy="1230.4" r="4.5"/>
<circle cx="426.4" cy="1236.7" r="4.5"/>
<circle cx="413.3" cy="1256.1" r="4.5"/>
<circle cx="484.2" cy="1196.3" r="4.5"/>
<circle cx="512.7" cy="1182.0" r="4.5"/>
<circle cx="457.2" cy="1213.9" r="4.5"/>
<circle cx="444.1" cy="1215.0" r="4.5"/>
<circle cx="449.3" cy="1206.1" r="4.5"/>
<circle cx="448.1" cy="1209.6" r="4.5"/>
<circle cx="386.5" cy="1280.4" r="4.5"/>
<circle cx="465.0" cy="1193.5" r="4.5"/>
<circle cx="439.6" cy="1204.3" r="4.5"/>
<circle cx="481.8" cy="1150.8" r="4.5"/>
<circle cx="373.3" cy="1329.3" r="4.5"/>
<circle cx="444.1" cy="1245.8" r="4.5"/>
<circle cx="450.2" cy="1222.2" r="4.5"/>
<circle cx="418.4" cy="1228.1" r="4.5"/>
<circle cx="367.1" cy="1308.5" r="4.5"/>
<circle cx="464.6" cy="1192.4" r="4.5"/>
<circle cx="455.5" cy="1236.7" r="4.5"/>
<circle cx="459.7" cy="1223.1" r="4.5"/>
<circle cx="460.1" cy="1207.0" r="4.5"/>
<circle cx="429.7" cy="1334.6" r="4.5"/>
<circle cx="496.4" cy="1177.7" r="4.5"/>
<circle cx="476.0" cy="1225.7" r="4.5"/>
<circle cx="442.9" cy="1225.9" r="4.5"/>
<circle cx="460.8" cy="1198.9" r="4.5"/>
<circle cx="440.7" cy="1256.0" r="4.5"/>
<circle cx="464.4" cy="1179.3" r="4.5"/>
<circle cx="441.5" cy="1224.2" r="4.5"/>
<circle cx="416.7" cy="1252.2" r="4.5"/>
<circle cx="441.3" cy="1257.6" r="4.5"/>
<circle cx="401.7" cy="1215.7" r="4.5"/>
<circle cx="377.0" cy="1291.6" r="4.5"/>
<circle cx="426.7" cy="1222.9" r="4.5"/>
<circle cx="477.2" cy="1199.0" r="4.5"/>
<circle cx="451.9" cy="1218.3" r="4.5"/>
<circle cx="398.5" cy="1266.1" r="4.5"/>
<circle cx="418.4" cy="1252.0" r="4.5"/>
<circle cx="418.6" cy="1218.8" r="4.5"/>
<circle cx="538.3" cy="1056.4" r="4.5"/>
<circle cx="443.8" cy="1165.2" r="4.5"/>
<circle cx="458.3" cy="1192.9" r="4.5"/>
<circle cx="447.8" cy="1240.8" r="4.5"/>
<circle cx="411.1" cy="1268.9" r="4.5"/>
<circle cx="420.2" cy="1235.4" r="4.5"/>
<circle cx="427.5" cy="1281.6" r="4.5"/>
<circle cx="463.0" cy="1213.6" r="4.5"/>
<circle cx="434.6" cy="1245.1" r="4.5"/>
<circle cx="470.2" cy="1161.2" r="4.5"/>
<circle cx="440.4" cy="1232.9" r="4.5"/>
<circle cx="440.3" cy="1208.6" r="4.5"/>
<circle cx="438.5" cy="1219.7" r="4.5"/>
<circle cx="491.8" cy="1168.5" r="4.5"/>
<circle cx="451.3" cy="1244.0" r="4.5"/>
<circle cx="377.2" cy="1333.8" r="4.5"/>
<circle cx="436.0" cy="1236.0" r="4.5"/>
<circle cx="383.8" cy="1232.5" r="4.5"/>
<circle cx="454.9" cy="1188.2" r="4.5"/>
<circle cx="438.8" cy="1223.2" r="4.5"/>
<circle cx="442.5" cy="1218.7" r="4.5"/>
<circle cx="422.6" cy="1223.0" r="4.5"/>
<circle cx="500.4" cy="1186.3" r="4.5"/>
<circle cx="429.7" cy="1252.3" r="4.5"/>
<circle cx="465.4" cy="1204.4" r="4.5"/>
<circle cx="560.3" cy="1123.6" r="4.5"/>
<circle cx="437.2" cy="1257.4" r="4.5"/>
<circle cx="462.7" cy="1248.5" r="4.5"/>
<circle cx="486.0" cy="1220.0" r="4.5"/>
<circle cx="427.7" cy="1234.8" r="4.5"/>
<circle cx="454.3" cy="1255.9" r="4.5"/>
<circle cx="436.6" cy="1226.5" r="4.5"/>
<circle cx="505.1" cy="1177.0" r="4.5"/>
<circle cx="458.5" cy="1234.2" r="4.5"/>
<circle cx="509.8" cy="1133.4" r="4.5"/>
<circle cx="333.9" cy="1281.5" r="4.5"/>
<circle cx="476.7" cy="1238.5" r="4.5"/>
<circle cx="431.3" cy="1191.5" r="4.5"/>
<circle cx="501.1" cy="1171.9" r="4.5"/>
<circle cx="445.9" cy="1225.1" r="4.5"/>
<circle cx="408.9" cy="1224.0" r="4.5"/>
<circle cx="448.1" cy="1234.4" r="4.5"/>
<circle cx="490.7" cy="1212.7" r="4.5"/>
<circle cx="519.5" cy="1164.9" r="4.5"/>
<circle cx="480.6" cy="1216.1" r="4.5"/>
<circle cx="454.5" cy="1232.0" r="4.5"/>
<circle cx="462.4" cy="1200.7" r="4.5"/>
<circle cx="393.9" cy="1216.3" r="4.5"/>
<circle cx="499.3" cy="1190.4" r="4.5"/>
<circle cx="538.0" cy="1133.9" r="4.5"/>
<circle cx="406.3" cy="1280.1" r="4.5"/>
<circle cx="394.9" cy="1279.0" r="4.5"/>
<circle cx="494.3" cy="1189.9" r="4.5"/>
<circle cx="406.0" cy="1272.8" r="4.5"/>
<circle cx="452.0" cy="1275.5" r="4.5"/>
<circle cx="445.9" cy="1251.0" r="4.5"/>
<circle cx="404.5" cy="1285.0" r="4.5"/>
<circle cx="419.5" cy="1255.5" r="4.5"/>
<circle cx="474.5" cy="1152.2" r="4.5"/>
<circle cx="466.8" cy="1197.1" r="4.5"/>
<circle cx="438.7" cy="1250.9" r="4.5"/>
<circle cx="439.6" cy="1252.4" r="4.5"/>
<circle cx="410.1" cy="1218.2" r="4.5"/>
<circle cx="486.3" cy="1248.1" r="4.5"/>
<circle cx="497.4" cy="1222.1" r="4.5"/>
<circle cx="446.2" cy="1193.9" r="4.5"/>
<circle cx="426.0" cy="1288.8" r="4.5"/>
<circle cx="406.4" cy="1259.4" r="4.5"/>
<circle cx="467.6" cy="1219.3" r="4.5"/>
<circle cx="438.1" cy="1206.9" r="4.5"/>
<circle cx="430.6" cy="1227.4" r="4.5"/>
<circle cx="459.6" cy="1154.1" r="4.5"/>
<circle cx="413.5" cy="1263.3" r="4.5"/>
<circle cx="444.7" cy="1199.8" r="4.5"/>
<circle cx="478.9" cy="1208.0" r="4.5"/>
<circle cx="430.5" cy="1251.1" r="4.5"/>
<circle cx="409.7" cy="1257.7" r="4.5"/>
<circle cx="444.2" cy="1228.2" r="4.5"/>
<circle cx="452.0" cy="1251.0" r="4.5"/>
<circle cx="405.8" cy="1283.8" r="4.5"/>
<circle cx="448.9" cy="1170.1" r="4.5"/>
<circle cx="454.3" cy="1243.9" r="4.5"/>
<circle cx="476.4" cy="1242.8" r="4.5"/>
<circle cx="419.5" cy="1319.1" r="4.5"/>
<circle cx="421.6" cy="1303.9" r="4.5"/>
<circle cx="445.1" cy="1201.4" r="4.5"/>
<circle cx="450.5" cy="1219.5" r="4.5"/>
<circle cx="446.6" cy="1197.2" r="4.5"/>
<circle cx="415.2" cy="1259.3" r="4.5"/>
<circle cx="470.2" cy="1205.7" r="4.5"/>
<circle cx="372.6" cy="1370.6" r="4.5"/>
<circle cx="406.9" cy="1292.6" r="4.5"/>
<circle cx="460.7" cy="1158.5" r="4.5"/>
<circle cx="390.2" cy="1272.4" r="4.5"/>
<circle cx="462.2" cy="1213.4" r="4.5"/>
<circle cx="388.0" cy="1244.5" r="4.5"/>
<circle cx="424.0" cy="1219.1" r="4.5"/>
<circle cx="411.4" cy="1280.2" r="4.5"/>
<circle cx="448.2" cy="1115.0" r="4.5"/>
<circle cx="413.3" cy="1206.1" r="4.5"/>
<circle cx="487.1" cy="1233.2" r="4.5"/>
<circle cx="423.2" cy="1306.6" r="4.5"/>
<circle cx="472.3" cy="1193.7" r="4.5"/>
<circle cx="452.9" cy="1215.0" r="4.5"/>
<circle cx="431.1" cy="1243.3" r="4.5"/>
<circle cx="453.8" cy="1216.3" r="4.5"/>
<circle cx="510.2" cy="1160.3" r="4.5"/>
<circle cx="306.9" cy="1301.6" r="4.5"/>
<circle cx="428.7" cy="1246.8" r="4.5"/>
<circle cx="441.6" cy="1265.2" r="4.5"/>
<circle cx="385.3" cy="1305.7" r="4.5"/>
<circle cx="530.8" cy="1086.4" r="4.5"/>
<circle cx="421.1" cy="1302.8" r="4.5"/>
<circle cx="511.1" cy="1236.6" r="4.5"/>
<circle cx="443.2" cy="1218.2" r="4.5"/>
<circle cx="407.2" cy="1275.3" r="4.5"/>
<circle cx="449.0" cy="1172.7" r="4.5"/>
<circle cx="371.3" cy="1284.6" r="4.5"/>
<circle cx="400.3" cy="1264.3" r="4.5"/>
<circle cx="444.6" cy="1200.3" r="4.5"/>
<circle cx="382.1" cy="1240.6" r="4.5"/>
<circle cx="379.6" cy="1259.6" r="4.5"/>
<circle cx="447.3" cy="1230.0" r="4.5"/>
<circle cx="456.5" cy="1208.6" r="4.5"/>
<circle cx="379.9" cy="1331.3" r="4.5"/>
<circle cx="462.9" cy="1190.8" r="4.5"/>
<circle cx="426.0" cy="1265.4" r="4.5"/>
<circle cx="388.3" cy="1318.1" r="4.5"/>
<circle cx="402.8" cy="1261.7" r="4.5"/>
<circle cx="435.5" cy="1233.9" r="4.5"/>
<circle cx="528.8" cy="1135.5" r="4.5"/>
<circle cx="463.9" cy="1204.4" r="4.5"/>
<circle cx="455.6" cy="1225.9" r="4.5"/>
<circle cx="461.9" cy="1156.8" r="4.5"/>
<circle cx="454.7" cy="1207.9" r="4.5"/>
<circle cx="427.4" cy="1252.8" r="4.5"/>
<circle cx="437.1" cy="1258.4" r="4.5"/>
<circle cx="431.6" cy="1251.9" r="4.5"/>
<circle cx="424.0" cy="1230.1" r="4.5"/>
<circle cx="482.6" cy="1180.5" r="4.5"/>
<circle cx="388.1" cy="1286.6" r="4.5"/>
<circle cx="464.8" cy="1232.2" r="4.5"/>
<circle cx="384.4" cy="1304.9" r="4.5"/>
<circle cx="413.5" cy="1253.9" r="4.5"/>
<circle cx="378.5" cy="1256.3" r="4.5"/>
<circle cx="432.6" cy="1249.6" r="4.5"/>
<circle cx="471.5" cy="1198.3" r="4.5"/>
<circle cx="506.9" cy="1164.8" r="4.5"/>
<circle cx="401.9" cy="1259.4" r="4.5"/>
<circle cx="411.2" cy="1245.2" r="4.5"/>
<circle cx="461.5" cy="1208.6" r="4.5"/>
<circle cx="377.2" cy="1217.5" r="4.5"/>
<circle cx="494.7" cy="1168.5" r="4.5"/>
<circle cx="405.2" cy="1245.3" r="4.5"/>
<circle cx="453.0" cy="1246.7" r="4.5"/>
<circle cx="379.5" cy="1167.3" r="4.5"/>
<circle cx="514.5" cy="1161.7" r="4.5"/>
<circle cx="453.9" cy="1248.6" r="4.5"/>
<circle cx="405.9" cy="1249.5" r="4.5"/>
<circle cx="427.0" cy="1245.3" r="4.5"/>
<circle cx="445.5" cy="1217.5" r="4.5"/>
<circle cx="484.8" cy="1180.9" r="4.5"/>
<circle cx="470.9" cy="1227.3" r="4.5"/>
<circle cx="444.6" cy="1200.9" r="4.5"/>
<circle cx="531.5" cy="1101.9" r="4.5"/>
<circle cx="497.5" cy="1161.4" r="4.5"/>
<circle cx="464.8" cy="1239.5" r="4.5"/>
<circle cx="426.6" cy="1263.6" r="4.5"/>
<circle cx="500.8" cy="1173.5" r="4.5"/>
<circle cx="473.3" cy="1203.7" r="4.5"/>
<circle cx="433.9" cy="1230.7" r="4.5"/>
<circle cx="503.5" cy="1117.9" r="4.5"/>
<circle cx="450.1" cy="1236.4" r="4.5"/>
<circle cx="436.0" cy="1216.5" r="4.5"/>
<circle cx="416.7" cy="1310.1" r="4.5"/>
<circle cx="479.8" cy="1182.8" r="4.5"/>
<circle cx="434.7" cy="1210.6" r="4.5"/>
<circle cx="468.0" cy="1203.2" r="4.5"/>
<circle cx="405.8" cy="1260.8" r="4.5"/>
<circle cx="470.0" cy="1216.9" r="4.5"/>
<circle cx="463.1" cy="1202.1" r="4.5"/>
<circle cx="418.2" cy="1234.2" r="4.5"/>
<circle cx="420.4" cy="1228.7" r="4.5"/>
<circle cx="453.3" cy="1159.7" r="4.5"/>
<circle cx="490.4" cy="1164.4" r="4.5"/>
<circle cx="429.4" cy="1242.1" r="4.5"/>
<circle cx="391.6" cy="1273.5" r="4.5"/>
<circle cx="435.5" cy="1253.9" r="4.5"/>
<circle cx="461.7" cy="1197.6" r="4.5"/>
<circle cx="457.6" cy="1179.2" r="4.5"/>
<circle cx="417.3" cy="1226.0" r="4.5"/>
<circle cx="450.5" cy="1234.9" r="4.5"/>
<circle cx="408.5" cy="1284.3" r="4.5"/>
<circle cx="384.8" cy="1280.3" r="4.5"/>
<circle cx="383.9" cy="1246.2" r="4.5"/>
<circle cx="394.9" cy="1266.5" r="4.5"/>
<circle cx="474.2" cy="1200.3" r="4.5"/>
<circle cx="432.3" cy="1224.8" r="4.5"/>
<circle cx="447.5" cy="1207.2" r="4.5"/>
<circle cx="414.2" cy="1260.1" r="4.5"/>
<circle cx="368.4" cy="1300.8" r="4.5"/>
<circle cx="471.7" cy="1206.7" r="4.5"/>
<circle cx="497.0" cy="1163.6" r="4.5"/>
<circle cx="489.0" cy="1201.6" r="4.5"/>
<circle cx="439.3" cy="1246.8" r="4.5"/>
<circle cx="418.1" cy="1265.9" r="4.5"/>
<circle cx="377.8" cy="1263.9" r="4.5"/>
<circle cx="414.9" cy="1260.8" r="4.5"/>
<circle cx="441.5" cy="1244.5" r="4.5"/>
<circle cx="458.7" cy="1178.5" r="4.5"/>
<circle cx="447.4" cy="1215.6" r="4.5"/>
<circle cx="435.6" cy="1273.1" r="4.5"/>
<circle cx="440.0" cy="1184.8" r="4.5"/>
<circle cx="418.6" cy="1226.3" r="4.5"/>
<circle cx="433.8" cy="1174.0" r="4.5"/>
<circle cx="315.3" cy="1379.8" r="4.5"/>
<circle cx="446.0" cy="1215.3" r="4.5"/>
<circle cx="437.5" cy="1231.0" r="4.5"/>
<circle cx="408.9" cy="1260.2" r="4.5"/>
<circle cx="380.5" cy="1260.7" r="4.5"/>
<circle cx="394.2" cy="1267.1" r="4.5"/>
<circle cx="428.7" cy="1267.2" r="4.5"/>
<circle cx="445.4" cy="1247.9" r="4.5"/>
<circle cx="329.9" cy="1248.7" r="4.5"/>
<circle cx="384.0" cy="1287.5" r="4.5"/>
<circle cx="474.0" cy="1185.9" r="4.5"/>
<circle cx="465.9" cy="1172.8" r="4.5"/>
<circle cx="462.3" cy="1239.4" r="4.5"/>
<circle cx="452.6" cy="1194.1" r="4.5"/>
<circle cx="429.3" cy="1254.6" r="4.5"/>
<circle cx="466.2" cy="1252.0" r="4.5"/>
<circle cx="469.9" cy="1229.8" r="4.5"/>
<circle cx="384.4" cy="1288.9" r="4.5"/>
<circle cx="449.9" cy="1222.0" r="4.5"/>
<circle cx="432.3" cy="1266.5" r="4.5"/>
<circle cx="447.1" cy="1271.7" r="4.5"/>
<circle cx="437.6" cy="1230.5" r="4.5"/>
<circle cx="470.8" cy="1188.7" r="4.5"/>
<circle cx="435.9" cy="1217.9" r="4.5"/>
<circle cx="407.6" cy="1261.3" r="4.5"/>
<circle cx="477.1" cy="1177.5" r="4.5"/>
<circle cx="473.3" cy="1171.1" r="4.5"/>
<circle cx="450.8" cy="1232.3" r="4.5"/>
<circle cx="392.6" cy="1282.3" r="4.5"/>
<circle cx="481.7" cy="1204.6" r="4.5"/>
<circle cx="399.5" cy="1243.7" r="4.5"/>
<circle cx="486.4" cy="1167.8" r="4.5"/>
<circle cx="422.9" cy="1272.5" r="4.5"/>
<circle cx="433.3" cy="1238.0" r="4.5"/>
<circle cx="457.4" cy="1242.9" r="4.5"/>
<circle cx="513.7" cy="1223.3" r="4.5"/>
<circle cx="449.0" cy="1246.1" r="4.5"/>
<circle cx="392.6" cy="1261.8" r="4.5"/>
<circle cx="474.6" cy="1231.3" r="4.5"/>
<circle cx="467.1" cy="1248.6" r="4.5"/>
<circle cx="458.7" cy="1215.3" r="4.5"/>
<circle cx="390.7" cy="1254.4" r="4.5"/>
<circle cx="445.9" cy="1223.5" r="4.5"/>
<circle cx="414.5" cy="1256.6" r="4.5"/>
<circle cx="519.7" cy="1186.5" r="4.5"/>
<circle cx="379.9" cy="1283.8" r="4.5"/>
<circle cx="426.8" cy="1246.6" r="4.5"/>
<circle cx="418.7" cy="1274.6" r="4.5"/>
<circle cx="416.9" cy="1228.0" r="4.5"/>
<circle cx="436.8" cy="1195.2" r="4.5"/>
<circle cx="368.7" cy="1283.5" r="4.5"/>
<circle cx="469.6" cy="1245.1" r="4.5"/>
<circle cx="302.7" cy="1206.9" r="4.5"/>
<circle cx="474.6" cy="1191.5" r="4.5"/>
<circle cx="435.9" cy="1216.7" r="4.5"/>
<circle cx="423.6" cy="1239.8" r="4.5"/>
<circle cx="441.8" cy="1223.1" r="4.5"/>
<circle cx="361.2" cy="1216.6" r="4.5"/>
<circle cx="499.4" cy="1216.2" r="4.5"/>
<circle cx="378.2" cy="1231.0" r="4.5"/>
<circle cx="493.0" cy="1211.8" r="4.5"/>
<circle cx="395.5" cy="1298.1" r="4.5"/>
<circle cx="422.3" cy="1289.9" r="4.5"/>
<circle cx="445.9" cy="1216.9" r="4.5"/>
<circle cx="489.0" cy="1142.7" r="4.5"/>
<circle cx="445.1" cy="1259.7" r="4.5"/>
<circle cx="456.6" cy="1256.9" r="4.5"/>
<circle cx="411.6" cy="1302.6" r="4.5"/>
<circle cx="445.6" cy="1230.7" r="4.5"/>
<circle cx="460.5" cy="1193.5" r="4.5"/>
<circle cx="466.6" cy="1204.6" r="4.5"/>
<circle cx="426.8" cy="1225.0" r="4.5"/>
<circle cx="505.1" cy="1210.1" r="4.5"/>
<circle cx="509.1" cy="1135.9" r="4.5"/>
<circle cx="380.9" cy="1255.2" r="4.5"/>
<circle cx="440.3" cy="1244.3" r="4.5"/>
<circle cx="428.4" cy="1258.6" r="4.5"/>
<circle cx="478.7" cy="1175.1" r="4.5"/>
<circle cx="461.8" cy="1188.8" r="4.5"/>
<circle cx="382.7" cy="1331.7" r="4.5"/>
<circle cx="459.5" cy="1217.3" r="4.5"/>
<circle cx="478.2" cy="1216.7" r="4.5"/>
<circle cx="410.7" cy="1227.3" r="4.5"/>
<circle cx="406.1" cy="1227.8" r="4.5"/>
<circle cx="458.9" cy="1209.5" r="4.5"/>
<circle cx="470.2" cy="1254.7" r="4.5"/>
<circle cx="403.5" cy="1307.5" r="4.5"/>
<circle cx="456.6" cy="1233.4" r="4.5"/>
<circle cx="408.8" cy="1208.1" r="4.5"/>
<circle cx="424.6" cy="1240.6" r="4.5"/>
<circle cx="427.8" cy="1272.9" r="4.5"/>
<circle cx="338.1" cy="1285.5" r="4.5"/>
<circle cx="430.0" cy="1232.4" r="4.5"/>
<circle cx="436.7" cy="1234.7" r="4.5"/>
<circle cx="450.5" cy="1204.7" r="4.5"/>
<circle cx="464.5" cy="1210.3" r="4.5"/>
<circle cx="491.1" cy="1164.6" r="4.5"/>
<circle cx="454.0" cy="1273.0" r="4.5"/>
<circle cx="415.6" cy="1260.6" r="4.5"/>
<circle cx="369.6" cy="1196.3" r="4.5"/>
<circle cx="449.3" cy="1237.7" r="4.5"/>
<circle cx="448.8" cy="1235.6" r="4.5"/>
<circle cx="454.9" cy="1230.1" r="4.5"/>
<circle cx="477.5" cy="1192.3" r="4.5"/>
<circle cx="437.0" cy="1224.8" r="4.5"/>
<circle cx="394.1" cy="1288.8" r="4.5"/>
<circle cx="496.4" cy="1221.4" r="4.5"/>
<circle cx="407.7" cy="1237.2" r="4.5"/>
<circle cx="395.8" cy="1238.4" r="4.5"/>
<circle cx="464.4" cy="1207.3" r="4.5"/>
<circle cx="464.6" cy="1181.0" r="4.5"/>
<circle cx="379.3" cy="1256.7" r="4.5"/>
<circle cx="439.2" cy="1214.1" r="4.5"/>
<circle cx="465.2" cy="1262.8" r="4.5"/>
<circle cx="458.4" cy="1204.6" r="4.5"/>
<circle cx="443.6" cy="1241.7" r="4.5"/>
<circle cx="456.3" cy="1238.6" r="4.5"/>
<circle cx="439.7" cy="1258.9" r="4.5"/>
<circle cx="415.7" cy="1202.3" r="4.5"/>
<circle cx="378.2" cy="1277.3" r="4.5"/>
<circle cx="436.8" cy="1242.8" r="4.5"/>
<circle cx="409.6" cy="1213.8" r="4.5"/>
<circle cx="458.3" cy="1236.0" r="4.5"/>
<circle cx="498.8" cy="1170.3" r="4.5"/>
<circle cx="461.9" cy="1226.4" r="4.5"/>
<circle cx="424.7" cy="1243.2" r="4.5"/>
<circle cx="467.0" cy="1200.7" r="4.5"/>
<circle cx="441.0" cy="1221.7" r="4.5"/>
<circle cx="452.9" cy="1248.6" r="4.5"/>
<circle cx="448.8" cy="1204.4" r="4.5"/>
<circle cx="458.0" cy="1244.1" r="4.5"/>
<circle cx="440.6" cy="1185.9" r="4.5"/>
<circle cx="456.1" cy="1242.3" r="4.5"/>
<circle cx="506.5" cy="1176.5" r="4.5"/>
<circle cx="421.8" cy="1239.4" r="4.5"/>
<circle cx="455.8" cy="1232.2" r="4.5"/>
<circle cx="459.0" cy="1238.1" r="4.5"/>
<circle cx="397.8" cy="1251.2" r="4.5"/>
<circle cx="491.6" cy="1184.1" r="4.5"/>
<circle cx="417.9" cy="1260.7" r="4.5"/>
<circle cx="447.5" cy="1208.1" r="4.5"/>
<circle cx="458.6" cy="1213.3" r="4.5"/>
<circle cx="392.8" cy="1257.0" r="4.5"/>
<circle cx="459.9" cy="1219.2" r="4.5"/>
<circle cx="475.3" cy="1154.3" r="4.5"/>
<circle cx="413.8" cy="1247.4" r="4.5"/>
<circle cx="432.5" cy="1195.8" r="4.5"/>
<circle cx="456.5" cy="1208.0" r="4.5"/>
<circle cx="477.0" cy="1168.6" r="4.5"/>
<circle cx="429.9" cy="1227.5" r="4.5"/>
<circle cx="458.5" cy="1231.2" r="4.5"/>
<circle cx="306.9" cy="1313.9" r="4.5"/>
<circle cx="471.5" cy="1192.1" r="4.5"/>
<circle cx="473.5" cy="1251.4" r="4.5"/>
<circle cx="379.3" cy="1281.2" r="4.5"/>
<circle cx="460.1" cy="1210.5" r="4.5"/>
<circle cx="438.8" cy="1243.1" r="4.5"/>
<circle cx="411.7" cy="1230.0" r="4.5"/>
<circle cx="419.6" cy="1264.1" r="4.5"/>
<circle cx="419.6" cy="1176.5" r="4.5"/>
<circle cx="424.5" cy="1247.0" r="4.5"/>
<circle cx="414.3" cy="1248.1" r="4.5"/>
<circle cx="438.8" cy="1240.4" r="4.5"/>
<circle cx="395.5" cy="1205.1" r="4.5"/>
<circle cx="437.4" cy="1180.4" r="4.5"/>
<circle cx="438.5" cy="1236.0" r="4.5"/>
<circle cx="437.6" cy="1210.0" r="4.5"/>
<circle cx="410.0" cy="1236.3" r="4.5"/>
<circle cx="421.7" cy="1241.8" r="4.5"/>
<circle cx="531.4" cy="1189.3" r="4.5"/>
<circle cx="443.2" cy="1152.7" r="4.5"/>
<circle cx="405.0" cy="1220.4" r="4.5"/>
<circle cx="441.4" cy="1240.9" r="4.5"/>
<circle cx="460.0" cy="1198.7" r="4.5"/>
<circle cx="468.9" cy="1200.1" r="4.5"/>
<circle cx="509.9" cy="1202.8" r="4.5"/>
<circle cx="547.5" cy="1156.7" r="4.5"/>
<circle cx="427.6" cy="1254.3" r="4.5"/>
<circle cx="395.0" cy="1257.2" r="4.5"/>
<circle cx="420.6" cy="1236.2" r="4.5"/>
<circle cx="422.3" cy="994.3" r="4.5"/>
<circle cx="419.4" cy="1227.4" r="4.5"/>
<circle cx="449.6" cy="1233.2" r="4.5"/>
<circle cx="460.2" cy="1245.6" r="4.5"/>
<circle cx="423.2" cy="1304.4" r="4.5"/>
<circle cx="396.8" cy="1206.3" r="4.5"/>
<circle cx="422.1" cy="1253.6" r="4.5"/>
<circle cx="441.7" cy="1189.9" r="4.5"/>
<circle cx="423.7" cy="1252.6" r="4.5"/>
<circle cx="421.9" cy="1246.4" r="4.5"/>
<circle cx="458.8" cy="1230.8" r="4.5"/>
<circle cx="368.1" cy="1317.1" r="4.5"/>
<circle cx="479.4" cy="1204.4" r="4.5"/>
<circle cx="442.0" cy="1241.1" r="4.5"/>
<circle cx="438.4" cy="1225.0" r="4.5"/>
<circle cx="393.3" cy="1221.1" r="4.5"/>
<circle cx="499.5" cy="1169.6" r="4.5"/>
<circle cx="421.2" cy="1239.4" r="4.5"/>
<circle cx="447.6" cy="1242.3" r="4.5"/>
<circle cx="440.9" cy="1205.1" r="4.5"/>
<circle cx="426.1" cy="1227.3" r="4.5"/>
<circle cx="480.4" cy="1230.6" r="4.5"/>
<circle cx="451.7" cy="1213.9" r="4.5"/>
<circle cx="505.3" cy="1180.7" r="4.5"/>
<circle cx="437.2" cy="1229.7" r="4.5"/>
<circle cx="419.1" cy="1259.6" r="4.5"/>
<circle cx="294.4" cy="1336.2" r="4.5"/>
<circle cx="391.8" cy="1253.2" r="4.5"/>
<circle cx="506.1" cy="1190.9" r="4.5"/>
<circle cx="438.8" cy="1206.9" r="4.5"/>
<circle cx="421.5" cy="1226.7" r="4.5"/>
<circle cx="458.0" cy="1233.2" r="4.5"/>
<circle cx="436.6" cy="1193.1" r="4.5"/>
<circle cx="441.5" cy="1223.7" r="4.5"/>
<circle cx="340.1" cy="1281.9" r="4.5"/>
<circle cx="489.6" cy="1165.5" r="4.5"/>
<circle cx="434.1" cy="1231.9" r="4.5"/>
<circle cx="426.3" cy="1257.0" r="4.5"/>
<circle cx="417.3" cy="1233.3" r="4.5"/>
<circle cx="494.5" cy="1213.8" r="4.5"/>
<circle cx="405.7" cy="1276.5" r="4.5"/>
<circle cx="428.1" cy="1276.6" r="4.5"/>
<circle cx="448.8" cy="1208.5" r="4.5"/>
<circle cx="452.5" cy="1179.3" r="4.5"/>
<circle cx="430.7" cy="1258.7" r="4.5"/>
<circle cx="464.9" cy="1182.7" r="4.5"/>
<circle cx="388.4" cy="1254.6" r="4.5"/>
<circle cx="419.2" cy="1291.6" r="4.5"/>
<circle cx="479.2" cy="1216.6" r="4.5"/>
<circle cx="501.6" cy="1164.4" r="4.5"/>
<circle cx="482.6" cy="1173.9" r="4.5"/>
<circle cx="391.3" cy="1273.9" r="4.5"/>
<circle cx="370.8" cy="1310.2" r="4.5"/>
<circle cx="445.6" cy="1260.6" r="4.5"/>
<circle cx="541.1" cy="1144.6" r="4.5"/>
<circle cx="461.8" cy="1211.9" r="4.5"/>
<circle cx="468.6" cy="1253.6" r="4.5"/>
<circle cx="462.8" cy="1205.9" r="4.5"/>
<circle cx="396.9" cy="1266.9" r="4.5"/>
<circle cx="449.9" cy="1217.6" r="4.5"/>
<circle cx="453.5" cy="1239.0" r="4.5"/>
<circle cx="390.0" cy="1279.5" r="4.5"/>
<circle cx="433.4" cy="1235.9" r="4.5"/>
<circle cx="485.4" cy="1088.6" r="4.5"/>
<circle cx="441.2" cy="1217.1" r="4.5"/>
<circle cx="418.1" cy="1282.6" r="4.5"/>
<circle cx="425.0" cy="1233.4" r="4.5"/>
<circle cx="437.5" cy="1216.6" r="4.5"/>
<circle cx="476.4" cy="1164.6" r="4.5"/>
<circle cx="432.2" cy="1248.0" r="4.5"/>
<circle cx="435.1" cy="1212.8" r="4.5"/>
<circle cx="423.7" cy="1272.3" r="4.5"/>
<circle cx="420.4" cy="1260.4" r="4.5"/>
<circle cx="473.8" cy="1310.8" r="4.5"/>
<circle cx="446.7" cy="1226.8" r="4.5"/>
<circle cx="398.1" cy="1271.3" r="4.5"/>
<circle cx="445.0" cy="1229.2" r="4.5"/>
<circle cx="402.4" cy="1256.6" r="4.5"/>
<circle cx="574.0" cy="1220.1" r="4.5"/>
<circle cx="436.3" cy="1249.9" r="4.5"/>
<circle cx="470.0" cy="1219.2" r="4.5"/>
<circle cx="406.3" cy="1303.1" r="4.5"/>
<circle cx="475.6" cy="1181.1" r="4.5"/>
<circle cx="408.8" cy="1268.2" r="4.5"/>
<circle cx="445.1" cy="1210.2" r="4.5"/>
<circle cx="480.4" cy="1164.9" r="4.5"/>
<circle cx="485.9" cy="1225.8" r="4.5"/>
<circle cx="331.2" cy="1303.9" r="4.5"/>
<circle cx="399.8" cy="1296.2" r="4.5"/>
<circle cx="446.3" cy="1255.3" r="4.5"/>
<circle cx="400.4" cy="1253.5" r="4.5"/>
<circle cx="447.2" cy="1203.0" r="4.5"/>
<circle cx="437.9" cy="1249.4" r="4.5"/>
<circle cx="448.5" cy="1262.3" r="4.5"/>
<circle cx="475.7" cy="1176.0" r="4.5"/>
<circle cx="452.0" cy="1237.5" r="4.5"/>
<circle cx="620.1" cy="1104.3" r="4.5"/>
<circle cx="395.7" cy="1270.5" r="4.5"/>
<circle cx="498.8" cy="1210.7" r="4.5"/>
<circle cx="441.9" cy="1266.6" r="4.5"/>
<circle cx="449.3" cy="1229.7" r="4.5"/>
<circle cx="417.2" cy="1267.3" r="4.5"/>
<circle cx="482.3" cy="1215.9" r="4.5"/>
<circle cx="457.1" cy="1226.6" r="4.5"/>
<circle cx="416.3" cy="1203.1" r="4.5"/>
<circle cx="490.3" cy="1208.0" r="4.5"/>
<circle cx="511.8" cy="1174.4" r="4.5"/>
<circle cx="491.8" cy="1208.8" r="4.5"/>
<circle cx="488.2" cy="1191.9" r="4.5"/>
<circle cx="387.8" cy="1295.3" r="4.5"/>
<circle cx="389.6" cy="1261.6" r="4.5"/>
<circle cx="452.3" cy="1178.9" r="4.5"/>
<circle cx="457.8" cy="1222.6" r="4.5"/>
<circle cx="461.9" cy="1207.1" r="4.5"/>
<circle cx="462.4" cy="1218.4" r="4.5"/>
<circle cx="403.7" cy="1244.6" r="4.5"/>
<circle cx="456.2" cy="1234.5" r="4.5"/>
<circle cx="481.3" cy="1211.1" r="4.5"/>
<circle cx="461.7" cy="1189.0" r="4.5"/>
<circle cx="456.7" cy="1204.8" r="4.5"/>
<circle cx="419.0" cy="1231.3" r="4.5"/>
<circle cx="478.3" cy="1169.2" r="4.5"/>
<circle cx="450.4" cy="1218.9" r="4.5"/>
<circle cx="431.5" cy="1186.7" r="4.5"/>
<circle cx="467.3" cy="1267.7" r="4.5"/>
<circle cx="442.1" cy="1216.2" r="4.5"/>
<circle cx="453.8" cy="1190.6" r="4.5"/>
<circle cx="451.2" cy="1237.6" r="4.5"/>
<circle cx="457.0" cy="1257.0" r="4.5"/>
<circle cx="360.7" cy="1258.2" r="4.5"/>
<circle cx="417.9" cy="1269.1" r="4.5"/>
<circle cx="459.3" cy="1179.2" r="4.5"/>
<circle cx="480.1" cy="1170.0" r="4.5"/>
<circle cx="410.1" cy="1230.5" r="4.5"/>
<circle cx="475.7" cy="1242.8" r="4.5"/>
<circle cx="478.8" cy="1150.7" r="4.5"/>
<circle cx="422.8" cy="1264.4" r="4.5"/>
<circle cx="405.3" cy="1239.8" r="4.5"/>
<circle cx="439.0" cy="1242.3" r="4.5"/>
<circle cx="393.7" cy="1241.2" r="4.5"/>
<circle cx="420.3" cy="1264.5" r="4.5"/>
<circle cx="415.4" cy="1204.2" r="4.5"/>
<circle cx="454.8" cy="1198.7" r="4.5"/>
<circle cx="473.1" cy="1174.0" r="4.5"/>
<circle cx="475.4" cy="1211.4" r="4.5"/>
<circle cx="477.5" cy="1253.1" r="4.5"/>
<circle cx="458.4" cy="1207.0" r="4.5"/>
<circle cx="388.1" cy="1300.4" r="4.5"/>
<circle cx="420.3" cy="1221.0" r="4.5"/>
<circle cx="437.4" cy="1229.1" r="4.5"/>
<circle cx="451.5" cy="1260.3" r="4.5"/>
<circle cx="455.9" cy="1199.0" r="4.5"/>
<circle cx="439.4" cy="1198.3" r="4.5"/>
<circle cx="525.0" cy="1189.5" r="4.5"/>
<circle cx="496.7" cy="1185.2" r="4.5"/>
<circle cx="438.3" cy="1227.8" r="4.5"/>
<circle cx="489.4" cy="1226.1" r="4.5"/>
<circle cx="382.5" cy="1271.2" r="4.5"/>
<circle cx="425.2" cy="1218.9" r="4.5"/>
<circle cx="434.9" cy="1244.9" r="4.5"/>
<circle cx="452.3" cy="1250.5" r="4.5"/>
<circle cx="454.9" cy="1164.0" r="4.5"/>
<circle cx="544.5" cy="1154.0" r="4.5"/>
<circle cx="440.7" cy="1241.1" r="4.5"/>
<circle cx="443.3" cy="1240.3" r="4.5"/>
<circle cx="469.9" cy="1268.4" r="4.5"/>
<circle cx="477.3" cy="1237.5" r="4.5"/>
<circle cx="395.6" cy="1255.9" r="4.5"/>
<circle cx="472.7" cy="1190.0" r="4.5"/>
<circle cx="453.2" cy="1185.4" r="4.5"/>
<circle cx="351.3" cy="1342.6" r="4.5"/>
<circle cx="388.9" cy="1278.6" r="4.5"/>
<circle cx="458.2" cy="1215.1" r="4.5"/>
<circle cx="468.3" cy="1236.2" r="4.5"/>
<circle cx="469.4" cy="1214.0" r="4.5"/>
<circle cx="447.2" cy="1193.2" r="4.5"/>
<circle cx="473.2" cy="1201.2" r="4.5"/>
<circle cx="507.3" cy="1194.7" r="4.5"/>
<circle cx="423.6" cy="1214.2" r="4.5"/>
<circle cx="439.4" cy="1255.6" r="4.5"/>
<circle cx="485.3" cy="1190.6" r="4.5"/>
<circle cx="383.0" cy="1229.4" r="4.5"/>
<circle cx="389.7" cy="1246.2" r="4.5"/>
<circle cx="487.5" cy="1212.2" r="4.5"/>
<circle cx="384.9" cy="1316.1" r="4.5"/>
<circle cx="447.1" cy="1251.2" r="4.5"/>
<circle cx="341.6" cy="1293.4" r="4.5"/>
<circle cx="445.1" cy="1235.4" r="4.5"/>
<circle cx="442.0" cy="1228.2" r="4.5"/>
<circle cx="441.2" cy="1250.0" r="4.5"/>
<circle cx="440.8" cy="1250.0" r="4.5"/>
<circle cx="467.4" cy="1205.2" r="4.5"/>
<circle cx="430.7" cy="1224.5" r="4.5"/>
<circle cx="431.0" cy="1221.0" r="4.5"/>
<circle cx="486.2" cy="1154.4" r="4.5"/>
<circle cx="493.6" cy="1189.6" r="4.5"/>
<circle cx="454.6" cy="1196.2" r="4.5"/>
<circle cx="490.7" cy="1215.3" r="4.5"/>
<circle cx="492.0" cy="1198.4" r="4.5"/>
<circle cx="459.5" cy="1217.8" r="4.5"/>
<circle cx="489.2" cy="1204.5" r="4.5"/>
<circle cx="406.9" cy="1285.6" r="4.5"/>
<circle cx="441.2" cy="1233.3" r="4.5"/>
<circle cx="427.5" cy="1266.7" r="4.5"/>
<circle cx="395.4" cy="1294.3" r="4.5"/>
<circle cx="412.4" cy="1229.8" r="4.5"/>
<circle cx="489.4" cy="1175.7" r="4.5"/>
<circle cx="461.3" cy="1211.0" r="4.5"/>
<circle cx="429.8" cy="1223.0" r="4.5"/>
<circle cx="453.8" cy="1206.2" r="4.5"/>
<circle cx="441.8" cy="1212.2" r="4.5"/>
<circle cx="483.9" cy="1211.0" r="4.5"/>
<circle cx="479.0" cy="1200.7" r="4.5"/>
<circle cx="445.8" cy="1248.7" r="4.5"/>
<circle cx="538.3" cy="1193.7" r="4.5"/>
<circle cx="422.1" cy="1206.0" r="4.5"/>
<circle cx="450.8" cy="1236.7" r="4.5"/>
<circle cx="460.5" cy="1224.6" r="4.5"/>
<circle cx="445.8" cy="1212.9" r="4.5"/>
<circle cx="405.5" cy="1240.8" r="4.5"/>
<circle cx="484.7" cy="1175.9" r="4.5"/>
<circle cx="476.9" cy="1211.2" r="4.5"/>
<circle cx="392.8" cy="1226.2" r="4.5"/>
<circle cx="494.0" cy="1203.7" r="4.5"/>
<circle cx="476.6" cy="1231.7" r="4.5"/>
<circle cx="397.4" cy="1256.7" r="4.5"/>
<circle cx="468.9" cy="1210.3" r="4.5"/>
<circle cx="338.5" cy="1305.4" r="4.5"/>
<circle cx="471.3" cy="1154.9" r="4.5"/>
<circle cx="445.7" cy="1224.2" r="4.5"/>
<circle cx="443.5" cy="1234.9" r="4.5"/>
<circle cx="455.7" cy="1270.2" r="4.5"/>
<circle cx="431.8" cy="1245.3" r="4.5"/>
<circle cx="497.8" cy="1150.8" r="4.5"/>
<circle cx="499.6" cy="1192.2" r="4.5"/>
<circle cx="403.3" cy="1249.7" r="4.5"/>
<circle cx="442.6" cy="1207.4" r="4.5"/>
<circle cx="411.7" cy="1229.5" r="4.5"/>
<circle cx="427.5" cy="1220.0" r="4.5"/>
<circle cx="416.7" cy="1254.2" r="4.5"/>
<circle cx="472.5" cy="1221.3" r="4.5"/>
<circle cx="384.6" cy="1282.4" r="4.5"/>
<circle cx="462.7" cy="1221.4" r="4.5"/>
<circle cx="492.0" cy="1181.8" r="4.5"/>
<circle cx="464.7" cy="1219.1" r="4.5"/>
<circle cx="377.0" cy="1267.2" r="4.5"/>
<circle cx="468.6" cy="1201.2" r="4.5"/>
<circle cx="439.0" cy="1239.2" r="4.5"/>
<circle cx="446.4" cy="1214.5" r="4.5"/>
<circle cx="489.0" cy="1050.0" r="4.5"/>
<circle cx="375.6" cy="1296.1" r="4.5"/>
<circle cx="400.8" cy="1242.1" r="4.5"/>
<circle cx="476.2" cy="1240.3" r="4.5"/>
<circle cx="477.6" cy="1217.6" r="4.5"/>
<circle cx="377.1" cy="1262.6" r="4.5"/>
<circle cx="469.0" cy="1172.7" r="4.5"/>
<circle cx="409.9" cy="1265.5" r="4.5"/>
<circle cx="469.0" cy="1274.1" r="4.5"/>
<circle cx="359.9" cy="1312.9" r="4.5"/>
<circle cx="433.3" cy="1223.6" r="4.5"/>
<circle cx="398.1" cy="1250.9" r="4.5"/>
<circle cx="386.5" cy="1251.5" r="4.5"/>
<circle cx="486.1" cy="1191.0" r="4.5"/>
<circle cx="400.1" cy="1240.7" r="4.5"/>
<circle cx="351.7" cy="1248.3" r="4.5"/>
<circle cx="381.9" cy="1273.5" r="4.5"/>
<circle cx="417.2" cy="1256.0" r="4.5"/>
<circle cx="420.7" cy="1260.0" r="4.5"/>
<circle cx="450.3" cy="1236.1" r="4.5"/>
<circle cx="496.2" cy="1242.8" r="4.5"/>
<circle cx="453.6" cy="1158.8" r="4.5"/>
<circle cx="470.4" cy="1176.1" r="4.5"/>
<circle cx="459.6" cy="1263.9" r="4.5"/>
<circle cx="466.7" cy="1217.0" r="4.5"/>
<circle cx="432.5" cy="1244.7" r="4.5"/>
<circle cx="433.5" cy="1194.7" r="4.5"/>
<circle cx="444.9" cy="1209.3" r="4.5"/>
<circle cx="447.1" cy="1257.6" r="4.5"/>
<circle cx="410.2" cy="1280.5" r="4.5"/>
<circle cx="491.6" cy="1170.9" r="4.5"/>
<circle cx="490.8" cy="1160.9" r="4.5"/>
<circle cx="443.8" cy="1199.6" r="4.5"/>
<circle cx="498.4" cy="1202.9" r="4.5"/>
<circle cx="439.9" cy="1230.5" r="4.5"/>
<circle cx="403.4" cy="1291.5" r="4.5"/>
<circle cx="417.4" cy="1244.0" r="4.5"/>
<circle cx="432.2" cy="1299.7" r="4.5"/>
<circle cx="436.8" cy="1238.1" r="4.5"/>
<circle cx="500.9" cy="1164.9" r="4.5"/>
<circle cx="408.9" cy="1314.5" r="4.5"/>
<circle cx="434.1" cy="1258.1" r="4.5"/>
<circle cx="494.9" cy="1176.2" r="4.5"/>
<circle cx="433.0" cy="1260.4" r="4.5"/>
<circle cx="439.1" cy="1248.2" r="4.5"/>
</g>
<g fill="#E8685B" fill-opacity="0.9" stroke="#5a3430" stroke-opacity="0.7" stroke-width="1.3">
<circle cx="445.3" cy="1154.4" r="4.5"/>
<circle cx="511.6" cy="1153.9" r="4.5"/>
<circle cx="523.4" cy="1163.5" r="4.5"/>
<circle cx="517.9" cy="1171.7" r="4.5"/>
<circle cx="475.2" cy="1170.8" r="4.5"/>
<circle cx="467.1" cy="1179.8" r="4.5"/>
<circle cx="487.0" cy="1184.4" r="4.5"/>
<circle cx="442.6" cy="1186.2" r="4.5"/>
<circle cx="442.6" cy="1195.3" r="4.5"/>
<circle cx="482.5" cy="1192.6" r="4.5"/>
<circle cx="415.3" cy="1209.8" r="4.5"/>
<circle cx="428.9" cy="1209.8" r="4.5"/>
<circle cx="471.6" cy="1208.0" r="4.5"/>
<circle cx="485.2" cy="1209.8" r="4.5"/>
<circle cx="450.7" cy="1220.7" r="4.5"/>
<circle cx="456.2" cy="1227.1" r="4.5"/>
<circle cx="427.1" cy="1231.6" r="4.5"/>
<circle cx="444.4" cy="1237.0" r="4.5"/>
<circle cx="391.7" cy="1247.9" r="4.5"/>
<circle cx="407.1" cy="1265.2" r="4.5"/>
<circle cx="428.0" cy="1262.5" r="4.5"/>
<circle cx="438.9" cy="1266.1" r="4.5"/>
<circle cx="484.3" cy="1265.2" r="4.5"/>
<circle cx="562.4" cy="1283.4" r="4.5"/>
<circle cx="390.8" cy="1298.8" r="4.5"/>
<circle cx="380.8" cy="1309.7" r="4.5"/>
<circle cx="370.8" cy="1323.3" r="4.5"/>
<circle cx="407.1" cy="1331.1" r="4.5"/>
<circle cx="381.7" cy="1348.7" r="4.5"/>
</g>
<g fill="#2A82D2" fill-opacity="0.92" stroke="#173a5c" stroke-opacity="0.75" stroke-width="1.3">
<circle cx="490.7" cy="1120.8" r="4.5"/>
<circle cx="484.3" cy="1147.2" r="4.5"/>
<circle cx="492.5" cy="1156.2" r="4.5"/>
<circle cx="495.2" cy="1169.9" r="4.5"/>
<circle cx="490.7" cy="1170.8" r="4.5"/>
<circle cx="479.8" cy="1179.3" r="4.5"/>
<circle cx="509.7" cy="1174.4" r="4.5"/>
<circle cx="506.1" cy="1185.3" r="4.5"/>
<circle cx="536.1" cy="1184.7" r="4.5"/>
<circle cx="428.0" cy="1171.3" r="4.5"/>
<circle cx="374.5" cy="1201.1" r="4.5"/>
<circle cx="402.6" cy="1199.3" r="4.5"/>
<circle cx="471.6" cy="1193.5" r="4.5"/>
<circle cx="460.7" cy="1199.8" r="4.5"/>
<circle cx="439.8" cy="1209.4" r="4.5"/>
<circle cx="447.1" cy="1209.8" r="4.5"/>
<circle cx="436.2" cy="1225.2" r="4.5"/>
<circle cx="463.4" cy="1219.8" r="4.5"/>
<circle cx="471.6" cy="1223.4" r="4.5"/>
<circle cx="512.8" cy="1225.8" r="4.5"/>
<circle cx="416.2" cy="1235.2" r="4.5"/>
<circle cx="409.0" cy="1244.3" r="4.5"/>
<circle cx="462.5" cy="1236.1" r="4.5"/>
<circle cx="458.0" cy="1246.1" r="4.5"/>
<circle cx="430.8" cy="1247.0" r="4.5"/>
<circle cx="418.0" cy="1253.4" r="4.5"/>
<circle cx="425.3" cy="1251.6" r="4.5"/>
<circle cx="436.2" cy="1254.3" r="4.5"/>
<circle cx="447.1" cy="1249.8" r="4.5"/>
<circle cx="398.1" cy="1266.1" r="4.5"/>
<circle cx="459.8" cy="1261.6" r="4.5"/>
<circle cx="427.1" cy="1277.9" r="4.5"/>
<circle cx="468.9" cy="1276.1" r="4.5"/>
<circle cx="399.0" cy="1286.1" r="4.5"/>
<circle cx="322.7" cy="1237.6" r="4.5"/>
<circle cx="355.4" cy="1267.0" r="4.5"/>
<circle cx="375.4" cy="1331.1" r="4.5"/>
<circle cx="265.9" cy="1254.3" r="4.5" fill="#4AA3E8"/>
<circle cx="298.1" cy="1349.0" r="4.5" fill="#4AA3E8"/>
<circle cx="338.1" cy="1380.3" r="4.5" fill="#4AA3E8"/>
</g>
<g fill="#c2c2c2" fill-opacity="0.22" stroke="#2c2c2c" stroke-opacity="0.5" stroke-width="1.3">
<circle cx="424.0" cy="1191.9" r="4.5"/>
<circle cx="449.4" cy="1198.9" r="4.5"/>
<circle cx="454.9" cy="1215.6" r="4.5"/>
<circle cx="483.5" cy="1212.8" r="4.5"/>
<circle cx="475.4" cy="1192.6" r="4.5"/>
<circle cx="461.0" cy="1223.1" r="4.5"/>
<circle cx="410.8" cy="1271.7" r="4.5"/>
<circle cx="456.1" cy="1201.8" r="4.5"/>
<circle cx="434.6" cy="1235.0" r="4.5"/>
<circle cx="388.0" cy="1278.1" r="4.5"/>
<circle cx="386.4" cy="1287.0" r="4.5"/>
<circle cx="395.2" cy="1281.7" r="4.5"/>
<circle cx="462.4" cy="1180.7" r="4.5"/>
<circle cx="485.2" cy="1187.1" r="4.5"/>
<circle cx="456.0" cy="1204.2" r="4.5"/>
<circle cx="488.1" cy="1166.7" r="4.5"/>
<circle cx="373.8" cy="1319.3" r="4.5"/>
<circle cx="426.7" cy="1250.7" r="4.5"/>
<circle cx="423.2" cy="1231.6" r="4.5"/>
<circle cx="415.6" cy="1264.9" r="4.5"/>
<circle cx="432.6" cy="1225.2" r="4.5"/>
<circle cx="467.6" cy="1254.8" r="4.5"/>
<circle cx="418.8" cy="1244.0" r="4.5"/>
<circle cx="463.7" cy="1193.7" r="4.5"/>
<circle cx="418.4" cy="1248.4" r="4.5"/>
<circle cx="426.7" cy="1236.7" r="4.5"/>
<circle cx="450.6" cy="1174.7" r="4.5"/>
<circle cx="358.9" cy="1270.9" r="4.5"/>
<circle cx="401.3" cy="1214.8" r="4.5"/>
<circle cx="458.9" cy="1205.8" r="4.5"/>
<circle cx="476.4" cy="1260.4" r="4.5"/>
<circle cx="463.7" cy="1196.8" r="4.5"/>
<circle cx="423.8" cy="1226.2" r="4.5"/>
<circle cx="419.0" cy="1233.2" r="4.5"/>
<circle cx="434.2" cy="1266.5" r="4.5"/>
<circle cx="448.3" cy="1227.8" r="4.5"/>
<circle cx="458.8" cy="1150.3" r="4.5"/>
<circle cx="429.5" cy="1262.3" r="4.5"/>
<circle cx="469.1" cy="1196.5" r="4.5"/>
<circle cx="382.2" cy="1269.7" r="4.5"/>
<circle cx="439.1" cy="1225.4" r="4.5"/>
<circle cx="477.2" cy="1202.9" r="4.5"/>
<circle cx="412.6" cy="1270.2" r="4.5"/>
<circle cx="468.8" cy="1165.3" r="4.5"/>
<circle cx="459.1" cy="1204.5" r="4.5"/>
<circle cx="428.6" cy="1265.2" r="4.5"/>
<circle cx="376.2" cy="1280.8" r="4.5"/>
<circle cx="407.3" cy="1247.8" r="4.5"/>
<circle cx="484.9" cy="1165.1" r="4.5"/>
<circle cx="423.3" cy="1286.4" r="4.5"/>
<circle cx="479.0" cy="1215.0" r="4.5"/>
<circle cx="412.0" cy="1246.5" r="4.5"/>
<circle cx="415.8" cy="1229.3" r="4.5"/>
<circle cx="409.4" cy="1227.4" r="4.5"/>
<circle cx="480.2" cy="1207.8" r="4.5"/>
<circle cx="437.9" cy="1195.6" r="4.5"/>
<circle cx="473.4" cy="1218.2" r="4.5"/>
<circle cx="421.5" cy="1240.1" r="4.5"/>
<circle cx="480.3" cy="1196.1" r="4.5"/>
<circle cx="449.6" cy="1235.0" r="4.5"/>
<circle cx="607.3" cy="1294.7" r="4.5"/>
<circle cx="470.2" cy="1225.1" r="4.5"/>
<circle cx="424.1" cy="1255.3" r="4.5"/>
<circle cx="371.5" cy="1279.1" r="4.5"/>
<circle cx="455.1" cy="1204.5" r="4.5"/>
<circle cx="469.1" cy="1171.8" r="4.5"/>
<circle cx="462.2" cy="1226.0" r="4.5"/>
<circle cx="488.5" cy="1198.4" r="4.5"/>
<circle cx="466.6" cy="1210.8" r="4.5"/>
<circle cx="421.9" cy="1251.8" r="4.5"/>
<circle cx="428.3" cy="1210.0" r="4.5"/>
<circle cx="436.1" cy="1252.2" r="4.5"/>
<circle cx="477.2" cy="1184.8" r="4.5"/>
<circle cx="452.8" cy="1244.9" r="4.5"/>
<circle cx="438.4" cy="1214.5" r="4.5"/>
<circle cx="423.6" cy="1211.8" r="4.5"/>
<circle cx="443.4" cy="1205.3" r="4.5"/>
<circle cx="433.3" cy="1250.0" r="4.5"/>
<circle cx="490.8" cy="1201.8" r="4.5"/>
<circle cx="477.2" cy="1162.3" r="4.5"/>
<circle cx="427.6" cy="1264.6" r="4.5"/>
<circle cx="435.5" cy="1176.4" r="4.5"/>
<circle cx="497.3" cy="1197.4" r="4.5"/>
<circle cx="436.9" cy="1233.4" r="4.5"/>
<circle cx="402.7" cy="1224.4" r="4.5"/>
<circle cx="406.8" cy="1230.9" r="4.5"/>
<circle cx="478.7" cy="1220.9" r="4.5"/>
<circle cx="429.7" cy="1290.6" r="4.5"/>
<circle cx="413.0" cy="1226.5" r="4.5"/>
<circle cx="447.8" cy="1207.0" r="4.5"/>
<circle cx="434.2" cy="1236.9" r="4.5"/>
<circle cx="423.8" cy="1228.8" r="4.5"/>
<circle cx="445.4" cy="1253.2" r="4.5"/>
<circle cx="547.8" cy="1181.7" r="4.5"/>
<circle cx="447.8" cy="1193.5" r="4.5"/>
<circle cx="387.5" cy="1286.2" r="4.5"/>
<circle cx="406.5" cy="1302.0" r="4.5"/>
<circle cx="405.7" cy="1248.4" r="4.5"/>
<circle cx="425.5" cy="1218.8" r="4.5"/>
<circle cx="434.1" cy="1231.7" r="4.5"/>
<circle cx="469.6" cy="1177.0" r="4.5"/>
<circle cx="449.5" cy="1215.4" r="4.5"/>
<circle cx="472.7" cy="1241.9" r="4.5"/>
<circle cx="475.0" cy="1202.4" r="4.5"/>
<circle cx="477.0" cy="1192.4" r="4.5"/>
<circle cx="454.7" cy="1210.2" r="4.5"/>
<circle cx="463.7" cy="1192.7" r="4.5"/>
<circle cx="426.4" cy="1290.8" r="4.5"/>
<circle cx="413.1" cy="1213.3" r="4.5"/>
<circle cx="429.3" cy="1256.2" r="4.5"/>
<circle cx="413.8" cy="1230.4" r="4.5"/>
<circle cx="432.9" cy="1227.9" r="4.5"/>
<circle cx="442.4" cy="1249.7" r="4.5"/>
<circle cx="364.0" cy="1302.2" r="4.5"/>
<circle cx="431.6" cy="1271.3" r="4.5"/>
<circle cx="466.1" cy="1172.6" r="4.5"/>
<circle cx="470.1" cy="1230.5" r="4.5"/>
<circle cx="451.7" cy="1203.0" r="4.5"/>
<circle cx="441.2" cy="1249.9" r="4.5"/>
<circle cx="495.8" cy="1188.1" r="4.5"/>
<circle cx="437.7" cy="1291.7" r="4.5"/>
<circle cx="420.3" cy="1263.8" r="4.5"/>
<circle cx="463.9" cy="1172.2" r="4.5"/>
<circle cx="477.2" cy="1199.9" r="4.5"/>
<circle cx="415.6" cy="1269.3" r="4.5"/>
<circle cx="438.1" cy="1278.0" r="4.5"/>
<circle cx="338.9" cy="1311.0" r="4.5"/>
<circle cx="416.1" cy="1275.6" r="4.5"/>
<circle cx="481.7" cy="1192.9" r="4.5"/>
<circle cx="472.1" cy="1219.7" r="4.5"/>
<circle cx="392.9" cy="1299.2" r="4.5"/>
<circle cx="456.6" cy="1195.2" r="4.5"/>
<circle cx="498.8" cy="1231.8" r="4.5"/>
<circle cx="372.3" cy="1274.8" r="4.5"/>
<circle cx="439.5" cy="1221.6" r="4.5"/>
<circle cx="454.6" cy="1201.4" r="4.5"/>
<circle cx="466.3" cy="1249.6" r="4.5"/>
<circle cx="466.3" cy="1191.4" r="4.5"/>
<circle cx="441.8" cy="1223.9" r="4.5"/>
<circle cx="391.1" cy="1308.4" r="4.5"/>
<circle cx="418.5" cy="1238.8" r="4.5"/>
<circle cx="472.5" cy="1223.2" r="4.5"/>
<circle cx="423.6" cy="1188.2" r="4.5"/>
<circle cx="381.6" cy="1225.7" r="4.5"/>
<circle cx="429.3" cy="1227.8" r="4.5"/>
<circle cx="375.1" cy="1276.4" r="4.5"/>
<circle cx="503.1" cy="1186.0" r="4.5"/>
<circle cx="442.8" cy="1221.0" r="4.5"/>
<circle cx="449.5" cy="1224.4" r="4.5"/>
<circle cx="423.1" cy="1209.3" r="4.5"/>
<circle cx="397.5" cy="1279.0" r="4.5"/>
<circle cx="431.8" cy="1217.8" r="4.5"/>
<circle cx="477.7" cy="1230.1" r="4.5"/>
<circle cx="463.6" cy="1240.0" r="4.5"/>
<circle cx="387.3" cy="1306.4" r="4.5"/>
<circle cx="446.5" cy="1201.4" r="4.5"/>
<circle cx="409.2" cy="1255.9" r="4.5"/>
<circle cx="438.6" cy="1169.5" r="4.5"/>
<circle cx="404.8" cy="1283.4" r="4.5"/>
<circle cx="447.7" cy="1195.3" r="4.5"/>
<circle cx="431.3" cy="1268.2" r="4.5"/>
<circle cx="459.2" cy="1187.5" r="4.5"/>
<circle cx="475.8" cy="1184.1" r="4.5"/>
<circle cx="378.4" cy="1243.1" r="4.5"/>
<circle cx="457.1" cy="1221.7" r="4.5"/>
<circle cx="430.2" cy="1234.8" r="4.5"/>
<circle cx="375.8" cy="1256.6" r="4.5"/>
<circle cx="398.1" cy="1238.1" r="4.5"/>
<circle cx="462.4" cy="1179.8" r="4.5"/>
<circle cx="435.6" cy="1250.4" r="4.5"/>
<circle cx="475.5" cy="1185.2" r="4.5"/>
<circle cx="410.5" cy="1269.3" r="4.5"/>
<circle cx="451.9" cy="1236.4" r="4.5"/>
<circle cx="444.6" cy="1221.8" r="4.5"/>
<circle cx="428.3" cy="1252.6" r="4.5"/>
<circle cx="441.2" cy="1212.2" r="4.5"/>
<circle cx="405.0" cy="1322.3" r="4.5"/>
<circle cx="434.7" cy="1266.0" r="4.5"/>
<circle cx="412.6" cy="1272.9" r="4.5"/>
<circle cx="491.9" cy="1205.0" r="4.5"/>
<circle cx="424.9" cy="1262.3" r="4.5"/>
<circle cx="399.9" cy="1262.6" r="4.5"/>
<circle cx="441.7" cy="1265.2" r="4.5"/>
<circle cx="509.3" cy="1241.8" r="4.5"/>
<circle cx="441.4" cy="1186.8" r="4.5"/>
<circle cx="420.1" cy="1246.6" r="4.5"/>
<circle cx="451.1" cy="1215.5" r="4.5"/>
<circle cx="408.5" cy="1243.1" r="4.5"/>
<circle cx="386.6" cy="1233.1" r="4.5"/>
<circle cx="451.4" cy="1212.0" r="4.5"/>
<circle cx="455.5" cy="1223.3" r="4.5"/>
<circle cx="418.5" cy="1289.0" r="4.5"/>
<circle cx="440.8" cy="1237.3" r="4.5"/>
<circle cx="401.9" cy="1259.5" r="4.5"/>
<circle cx="423.0" cy="1233.8" r="4.5"/>
<circle cx="413.9" cy="1237.2" r="4.5"/>
<circle cx="424.4" cy="1258.2" r="4.5"/>
<circle cx="455.9" cy="1264.4" r="4.5"/>
<circle cx="473.3" cy="1166.9" r="4.5"/>
<circle cx="533.1" cy="1205.6" r="4.5"/>
<circle cx="409.7" cy="1294.0" r="4.5"/>
<circle cx="402.1" cy="1223.0" r="4.5"/>
<circle cx="440.2" cy="1231.4" r="4.5"/>
<circle cx="427.7" cy="1253.7" r="4.5"/>
<circle cx="447.5" cy="1219.4" r="4.5"/>
<circle cx="487.1" cy="1209.2" r="4.5"/>
<circle cx="450.4" cy="1217.4" r="4.5"/>
<circle cx="326.1" cy="1339.5" r="4.5"/>
<circle cx="440.9" cy="1211.5" r="4.5"/>
<circle cx="366.5" cy="1273.8" r="4.5"/>
<circle cx="442.6" cy="1216.1" r="4.5"/>
<circle cx="410.1" cy="1237.4" r="4.5"/>
<circle cx="466.7" cy="1185.5" r="4.5"/>
<circle cx="442.1" cy="1214.9" r="4.5"/>
<circle cx="419.9" cy="1219.1" r="4.5"/>
<circle cx="489.8" cy="1176.0" r="4.5"/>
<circle cx="428.1" cy="1250.2" r="4.5"/>
<circle cx="484.5" cy="1153.1" r="4.5"/>
<circle cx="469.7" cy="1247.7" r="4.5"/>
<circle cx="468.6" cy="1218.0" r="4.5"/>
<circle cx="481.8" cy="1183.7" r="4.5"/>
<circle cx="467.4" cy="1234.5" r="4.5"/>
<circle cx="433.0" cy="1258.2" r="4.5"/>
<circle cx="481.8" cy="1203.8" r="4.5"/>
<circle cx="389.1" cy="1231.1" r="4.5"/>
<circle cx="478.4" cy="1192.2" r="4.5"/>
<circle cx="472.2" cy="1174.3" r="4.5"/>
<circle cx="515.2" cy="1188.7" r="4.5"/>
<circle cx="374.3" cy="1289.6" r="4.5"/>
<circle cx="485.2" cy="1193.1" r="4.5"/>
<circle cx="463.3" cy="1217.2" r="4.5"/>
<circle cx="456.7" cy="1217.4" r="4.5"/>
<circle cx="455.4" cy="1217.5" r="4.5"/>
<circle cx="438.1" cy="1232.7" r="4.5"/>
<circle cx="478.0" cy="1181.3" r="4.5"/>
<circle cx="406.4" cy="1261.7" r="4.5"/>
<circle cx="512.4" cy="1168.8" r="4.5"/>
<circle cx="454.4" cy="1245.5" r="4.5"/>
<circle cx="498.8" cy="1140.6" r="4.5"/>
<circle cx="403.0" cy="1262.9" r="4.5"/>
<circle cx="447.6" cy="1227.4" r="4.5"/>
<circle cx="468.9" cy="1166.8" r="4.5"/>
<circle cx="321.5" cy="1313.3" r="4.5"/>
<circle cx="478.6" cy="1212.1" r="4.5"/>
<circle cx="412.6" cy="1261.1" r="4.5"/>
<circle cx="493.5" cy="1196.5" r="4.5"/>
<circle cx="366.6" cy="1288.4" r="4.5"/>
<circle cx="391.0" cy="1247.4" r="4.5"/>
<circle cx="256.7" cy="1270.8" r="4.5"/>
<circle cx="421.2" cy="1230.0" r="4.5"/>
<circle cx="447.7" cy="1292.5" r="4.5"/>
<circle cx="466.6" cy="1191.6" r="4.5"/>
<circle cx="416.0" cy="1269.9" r="4.5"/>
<circle cx="462.3" cy="1229.2" r="4.5"/>
<circle cx="490.8" cy="1175.5" r="4.5"/>
<circle cx="356.1" cy="1294.8" r="4.5"/>
<circle cx="412.3" cy="1274.7" r="4.5"/>
<circle cx="437.4" cy="1239.7" r="4.5"/>
<circle cx="480.6" cy="1231.1" r="4.5"/>
<circle cx="468.8" cy="1215.7" r="4.5"/>
<circle cx="425.3" cy="1235.4" r="4.5"/>
<circle cx="400.8" cy="1265.9" r="4.5"/>
<circle cx="437.1" cy="1259.5" r="4.5"/>
<circle cx="487.7" cy="1182.3" r="4.5"/>
<circle cx="436.8" cy="1255.9" r="4.5"/>
<circle cx="476.7" cy="1150.8" r="4.5"/>
<circle cx="433.1" cy="1271.2" r="4.5"/>
<circle cx="488.7" cy="1198.4" r="4.5"/>
<circle cx="467.1" cy="1207.1" r="4.5"/>
<circle cx="406.4" cy="1321.6" r="4.5"/>
<circle cx="383.1" cy="1262.5" r="4.5"/>
<circle cx="422.4" cy="1259.6" r="4.5"/>
<circle cx="442.7" cy="1214.6" r="4.5"/>
<circle cx="498.7" cy="1155.5" r="4.5"/>
<circle cx="514.0" cy="1236.6" r="4.5"/>
<circle cx="430.0" cy="1264.1" r="4.5"/>
<circle cx="499.4" cy="1132.6" r="4.5"/>
<circle cx="449.6" cy="1234.4" r="4.5"/>
<circle cx="478.3" cy="1165.7" r="4.5"/>
<circle cx="470.1" cy="1184.7" r="4.5"/>
<circle cx="458.0" cy="1206.0" r="4.5"/>
<circle cx="428.2" cy="1204.4" r="4.5"/>
<circle cx="472.4" cy="1215.5" r="4.5"/>
<circle cx="408.7" cy="1240.4" r="4.5"/>
<circle cx="436.0" cy="1199.4" r="4.5"/>
<circle cx="429.8" cy="1239.8" r="4.5"/>
<circle cx="472.7" cy="1206.7" r="4.5"/>
<circle cx="455.7" cy="1236.5" r="4.5"/>
<circle cx="411.2" cy="1205.5" r="4.5"/>
<circle cx="396.0" cy="1291.8" r="4.5"/>
<circle cx="502.4" cy="1190.0" r="4.5"/>
<circle cx="473.4" cy="1170.6" r="4.5"/>
<circle cx="475.2" cy="1203.8" r="4.5"/>
<circle cx="416.4" cy="1255.9" r="4.5"/>
<circle cx="458.1" cy="1259.4" r="4.5"/>
<circle cx="387.8" cy="1212.5" r="4.5"/>
<circle cx="420.9" cy="1262.9" r="4.5"/>
<circle cx="441.2" cy="1265.1" r="4.5"/>
<circle cx="466.0" cy="1216.6" r="4.5"/>
<circle cx="378.0" cy="1340.2" r="4.5"/>
<circle cx="440.0" cy="1196.7" r="4.5"/>
<circle cx="405.7" cy="1242.6" r="4.5"/>
<circle cx="452.5" cy="1230.7" r="4.5"/>
<circle cx="419.5" cy="1246.6" r="4.5"/>
<circle cx="478.5" cy="1209.8" r="4.5"/>
<circle cx="440.1" cy="1216.7" r="4.5"/>
<circle cx="468.9" cy="1208.7" r="4.5"/>
<circle cx="457.5" cy="1205.8" r="4.5"/>
</g>
<line x1="154.1" y1="978" x2="154.1" y2="1493.8" stroke="#222" stroke-width="2.5" />
<line x1="153" y1="1492.6" x2="721" y2="1492.6" stroke="#222" stroke-width="2.5" />
<line x1="154.1" y1="1492.6" x2="154.1" y2="1499" stroke="#333" stroke-width="2" />
<text text-anchor="middle" font-size="28" x="155.6" y="1528">-1.5</text>
<line x1="248.4" y1="1492.6" x2="248.4" y2="1499" stroke="#333" stroke-width="2" />
<text text-anchor="middle" font-size="28" x="247.9" y="1528">-1</text>
<line x1="342.8" y1="1492.6" x2="342.8" y2="1499" stroke="#333" stroke-width="2" />
<text text-anchor="middle" font-size="28" x="342.8" y="1528">-0.5</text>
<line x1="437.1" y1="1492.6" x2="437.1" y2="1499" stroke="#333" stroke-width="2" />
<text text-anchor="middle" font-size="28" x="437.1" y="1528">0</text>
<line x1="531.4" y1="1492.6" x2="531.4" y2="1499" stroke="#333" stroke-width="2" />
<text text-anchor="middle" font-size="28" x="528.6" y="1528">0.5</text>
<line x1="625.8" y1="1492.6" x2="625.8" y2="1499" stroke="#333" stroke-width="2" />
<text text-anchor="middle" font-size="28" x="625.1" y="1528">1</text>
<line x1="720.1" y1="1492.6" x2="720.1" y2="1499" stroke="#333" stroke-width="2" />
<text text-anchor="middle" font-size="28" x="717.5" y="1528">1.5</text>
<line x1="148" y1="978.7" x2="154.1" y2="978.7" stroke="#333" stroke-width="2" />
<text text-anchor="end" font-size="28" x="140.6" y="992.1">1.5</text>
<line x1="148" y1="1064.4" x2="154.1" y2="1064.4" stroke="#333" stroke-width="2" />
<text text-anchor="end" font-size="28" x="140.6" y="1077.2">1</text>
<line x1="148" y1="1150" x2="154.1" y2="1150" stroke="#333" stroke-width="2" />
<text text-anchor="end" font-size="28" x="140.6" y="1162.3">0.5</text>
<line x1="148" y1="1235.7" x2="154.1" y2="1235.7" stroke="#333" stroke-width="2" />
<text text-anchor="end" font-size="28" x="140.6" y="1247.4">0</text>
<line x1="148" y1="1321.3" x2="154.1" y2="1321.3" stroke="#333" stroke-width="2" />
<text text-anchor="end" font-size="28" x="140.6" y="1332.5">-0.5</text>
<line x1="148" y1="1407" x2="154.1" y2="1407" stroke="#333" stroke-width="2" />
<text text-anchor="end" font-size="28" x="140.6" y="1417.6">-1</text>
<line x1="148" y1="1492.6" x2="154.1" y2="1492.6" stroke="#333" stroke-width="2" />
<text text-anchor="end" font-size="28" x="140.6" y="1502.7">-1.5</text>
<text text-anchor="middle" font-size="28" x="438" y="1567.3">Fold change</text>
<text text-anchor="middle" font-size="28" textLength="476" lengthAdjust="spacingAndGlyphs" x="438.4" y="1604">Log2(<tspan font-style="italic">ZCCHC7</tspan>-OE OPP+ / WT OPP+)</text>
<text text-anchor="middle" font-size="28" transform="translate(43.2 1223.4) rotate(-90)">Fold change</text>
<text text-anchor="middle" font-size="28" transform="translate(80.2 1223.2) rotate(-90)">Log2(<tspan font-style="italic">PAX5</tspan> TSS2<tspan font-size="16.3" dy="-8.5">Mut</tspan><tspan dy="8.5"> OPP+ / WT OPP+)</tspan></text>
<text font-size="28" x="531.4" y="1405.3">n = 1690</text>
<text font-size="28" x="531.4" y="1438.8">rho = 0.59</text>
<text font-size="27.7" x="531.4" y="1473.2"><tspan font-style="italic">P</tspan> &lt; 2.2  10<tspan font-size="16" dy="-8.8">-16</tspan></text>
<text font-size="23.6" x="477.5" y="1029.8">CD81</text>
<text font-size="23.6" x="600.4" y="1064.8">ACY3</text>
<text font-size="23.6" x="628" y="1109.4">BID</text>
<text font-size="23.6" x="501.5" y="1111.7">COL1A1</text>
<text font-size="23.6" x="443" y="1133.8">ALB</text>
<text font-size="23.6" x="566.8" y="1147.6">STAT5A</text>
<text font-size="23.6" x="577.4" y="1189">NUMA1</text>
<text font-size="23.6" x="531.4" y="1217.5">RAC1</text>
<text font-size="23.6" x="205.6" y="1260.3">B2M</text>
<text font-size="23.6" x="224" y="1302.6">PIK3C3</text>
<text font-size="23.6" x="379.5" y="1374">RB1</text>
<text font-size="23.6" x="329.4" y="1413.1">CHEK1</text>
<text font-size="23.6" x="187.7" y="1445.3">COX6B1</text>
<text font-weight="bold" font-size="23.6" x="218.5" y="1369.4">IKZF3</text>
<line x1="499.2" y1="1033.9" x2="507" y2="1079.9" stroke="#000" stroke-width="1.8" />
<line x1="526.8" y1="1119.9" x2="511.6" y2="1152.1" stroke="#000" stroke-width="1.8" />
<line x1="466.9" y1="1136" x2="479.8" y2="1172.8" stroke="#000" stroke-width="1.8" />
<line x1="559" y1="1138.3" x2="522.2" y2="1162.3" stroke="#000" stroke-width="1.8" />
<line x1="559" y1="1175.1" x2="518.9" y2="1170.5" stroke="#000" stroke-width="1.8" />
<line x1="522.2" y1="1202.7" x2="487.7" y2="1184.3" stroke="#000" stroke-width="1.8" />
<line x1="311.9" y1="1285.5" x2="354.2" y2="1267.1" stroke="#000" stroke-width="1.8" />
<line x1="395.6" y1="1350" x2="377.2" y2="1329.2" stroke="#000" stroke-width="1.8" />
</g>
<g id="panel-e">
<text font-weight="bold" font-size="36" x="786" y="894">e</text>
<line x1="849.2" y1="892" x2="849.2" y2="1181.5" stroke="#666" stroke-width="1.4" />
<line x1="849.2" y1="1180.8" x2="1338.4" y2="1180.8" stroke="#777" stroke-width="1.4" />
<line x1="850.2" y1="892" x2="850.2" y2="1104" stroke="#4A72B8" stroke-width="2.2" />
<line x1="853.2" y1="892" x2="853.2" y2="1015" stroke="#4A72B8" stroke-width="1.6" />
<path d="M884.4 892.0 C884.8 897.5 886.0 913.8 886.9 925.4 C887.9 937.0 888.2 945.4 889.9 961.7 C891.5 978.0 894.4 1004.1 897.1 1023.4 C899.8 1042.8 903.2 1061.6 906.2 1077.9 C909.2 1094.3 912.6 1110.9 915.3 1121.5 C918.0 1132.1 920.4 1136.8 922.5 1141.5 C924.7 1146.1 926.5 1148.3 928.0 1149.5 C929.5 1150.7 930.4 1149.6 931.6 1148.7 C932.8 1147.9 934.0 1144.7 935.3 1144.4 C936.5 1144.1 936.8 1144.4 938.9 1146.9 C941.0 1149.5 944.9 1156.1 948.0 1159.6 C951.0 1163.1 954.0 1166.4 957.0 1168.0 C960.1 1169.6 963.7 1169.6 966.1 1169.4 C968.5 1169.3 969.8 1169.4 971.6 1166.9 C973.4 1164.4 975.5 1156.5 977.0 1154.2 C978.5 1151.9 979.1 1152.5 980.7 1153.1 C982.2 1153.7 984.7 1156.9 986.1 1157.8 C987.5 1158.8 988.0 1157.4 989.0 1158.9 C990.0 1160.4 990.9 1165.4 992.3 1166.9 C993.6 1168.4 995.8 1168.9 997.0 1168.0 C998.2 1167.1 998.8 1169.2 999.5 1161.5 C1000.3 1153.7 1000.6 1141.5 1001.4 1121.5 C1002.1 1101.5 1003.5 1064.0 1004.3 1041.6 C1005.0 1019.2 1005.4 1001.9 1006.1 987.1 C1006.8 972.3 1007.9 958.8 1008.6 952.6 C1009.3 946.4 1009.6 948.6 1010.4 950.1 C1011.2 951.6 1011.9 952.5 1013.3 961.7 C1014.7 970.9 1017.0 990.1 1018.8 1005.3 C1020.6 1020.4 1022.4 1039.8 1024.2 1052.5 C1026.1 1065.2 1027.3 1071.3 1029.7 1081.5 C1032.1 1091.8 1035.7 1104.6 1038.8 1114.2 C1041.8 1123.9 1045.1 1133.3 1047.8 1139.7 C1050.6 1146.0 1052.7 1149.0 1055.1 1152.4 C1057.5 1155.7 1059.6 1158.2 1062.4 1159.6 C1065.1 1161.0 1068.1 1159.9 1071.5 1160.7 C1074.8 1161.5 1078.7 1163.0 1082.3 1164.4 C1086.0 1165.7 1089.9 1167.5 1093.2 1168.7 C1096.6 1169.9 1099.6 1171.3 1102.3 1171.6 C1105.0 1171.9 1107.5 1171.7 1109.6 1170.5 C1111.7 1169.3 1113.2 1165.7 1115.0 1164.4 C1116.9 1163.0 1118.4 1162.3 1120.5 1162.5 C1122.6 1162.8 1125.0 1164.7 1127.7 1165.8 C1130.5 1167.0 1134.1 1168.7 1136.8 1169.4 C1139.6 1170.2 1142.0 1172.2 1144.1 1170.5 C1146.2 1168.9 1148.0 1162.1 1149.5 1159.6 C1151.1 1157.2 1151.4 1156.3 1153.2 1156.0 C1155.0 1155.7 1158.0 1156.4 1160.4 1157.8 C1162.9 1159.2 1165.1 1162.7 1167.7 1164.4 C1170.3 1166.1 1173.6 1169.2 1176.1 1168.0 C1178.5 1166.8 1180.3 1159.4 1182.2 1157.1 C1184.2 1154.8 1185.6 1153.9 1187.7 1154.2 C1189.8 1154.4 1192.5 1156.9 1194.9 1158.5 C1197.4 1160.2 1200.1 1164.8 1202.2 1164.4 C1204.3 1163.9 1205.8 1157.8 1207.7 1156.0 C1209.5 1154.2 1211.0 1152.9 1213.1 1153.5 C1215.2 1154.1 1218.2 1158.2 1220.4 1159.6 C1222.5 1161.1 1223.7 1162.6 1225.8 1162.2 C1227.9 1161.8 1231.0 1157.9 1233.1 1157.1 C1235.2 1156.2 1236.4 1156.5 1238.5 1157.1 C1240.6 1157.7 1244.3 1160.5 1245.8 1160.7 C1247.3 1161.0 1246.4 1158.7 1247.6 1158.5 C1248.8 1158.4 1250.9 1160.0 1253.1 1160.0 C1255.2 1160.0 1257.9 1158.6 1260.3 1158.5 C1262.7 1158.5 1264.6 1159.6 1267.6 1159.6 C1270.6 1159.6 1274.8 1159.0 1278.5 1158.5 C1282.1 1158.1 1285.7 1157.8 1289.4 1157.1 C1293.0 1156.4 1296.0 1155.2 1300.3 1154.2 C1304.5 1153.2 1309.6 1151.8 1314.8 1151.3 C1319.9 1150.8 1328.4 1151.3 1331.1 1151.3" fill="none" stroke="#4A72B8" stroke-width="1.7" stroke-linejoin="round"/>
<text fill="#111" font-size="19" x="1028.6" y="958.8">80S</text>
<text fill="#111" font-size="19" x="926.2" y="1128.8">40S</text>
<text fill="#111" font-size="19" x="963.2" y="1144">60S</text>
<text font-size="28" x="1061.6" y="1058.7">SUDHL10 WT</text>
<text fill="#222" font-size="17.5" x="853.5" y="1198.9">fraction</text>
<text text-anchor="middle" fill="#222" font-size="17.5" x="948" y="1198.9">3</text>
<text text-anchor="middle" fill="#222" font-size="17.5" x="989" y="1198.9">4</text>
<text text-anchor="middle" fill="#222" font-size="17.5" x="1027.9" y="1198.9">5</text>
<text text-anchor="middle" fill="#222" font-size="17.5" x="1072.2" y="1198.9">6</text>
<text text-anchor="middle" fill="#222" font-size="17.5" x="1113.2" y="1198.9">7</text>
<text text-anchor="middle" fill="#222" font-size="17.5" x="1151.4" y="1198.9">8</text>
<text text-anchor="middle" fill="#222" font-size="17.5" x="1195.7" y="1198.9">9</text>
<text text-anchor="middle" fill="#222" font-size="17.5" x="1242.2" y="1198.9">10</text>
<text text-anchor="middle" fill="#222" font-size="17.5" x="1285.7" y="1198.9">11</text>
<path d="M924.0 1199.6 l-3.6 9.8 h7.2Z" fill="#3E62A8"/>
<path d="M969.4 1199.6 l-3.6 9.8 h7.2Z" fill="#3E62A8"/>
<path d="M1012.3 1199.6 l-3.6 9.8 h7.2Z" fill="#3E62A8"/>
<path d="M1051.1 1199.6 l-3.6 9.8 h7.2Z" fill="#3E62A8"/>
<path d="M1095.4 1199.6 l-3.6 9.8 h7.2Z" fill="#3E62A8"/>
<path d="M1134.6 1199.6 l-3.6 9.8 h7.2Z" fill="#3E62A8"/>
<path d="M1173.9 1199.6 l-3.6 9.8 h7.2Z" fill="#3E62A8"/>
<path d="M1219.3 1199.6 l-3.6 9.8 h7.2Z" fill="#3E62A8"/>
<path d="M1264.7 1199.6 l-3.6 9.8 h7.2Z" fill="#3E62A8"/>
<path d="M1306.8 1199.6 l-3.6 9.8 h7.2Z" fill="#3E62A8"/>
<line x1="1320" y1="1199.5" x2="1350" y2="1199.5" stroke="#ddd" stroke-width="1" stroke-dasharray="3 3"/>
<line x1="849.2" y1="1222" x2="849.2" y2="1540.3" stroke="#666" stroke-width="1.4" />
<line x1="849.2" y1="1539.6" x2="1338.4" y2="1539.6" stroke="#999" stroke-width="1.4" />
<line x1="850" y1="1222" x2="850" y2="1329" stroke="#4A72B8" stroke-width="2" />
<path d="M886.2 1221.8 C886.5 1226.0 887.2 1238.7 887.7 1247.2 C888.2 1255.7 888.2 1257.5 889.1 1272.6 C890.1 1287.8 891.9 1317.4 893.5 1338.0 C895.1 1358.6 897.1 1380.4 898.9 1396.1 C900.8 1411.9 902.3 1421.9 904.4 1432.4 C906.5 1443.0 909.2 1453.0 911.6 1459.7 C914.1 1466.3 916.8 1469.6 918.9 1472.4 C921.0 1475.2 922.5 1477.4 924.4 1476.8 C926.2 1476.2 928.0 1471.1 929.8 1468.8 C931.6 1466.4 933.4 1463.3 935.3 1462.6 C937.1 1461.9 938.6 1462.5 940.7 1464.4 C942.8 1466.3 945.5 1471.7 948.0 1474.2 C950.4 1476.8 952.8 1479.1 955.2 1479.7 C957.7 1480.3 960.4 1478.8 962.5 1477.8 C964.6 1476.9 966.1 1476.9 967.9 1474.2 C969.8 1471.5 971.8 1464.1 973.4 1461.5 C975.0 1458.9 976.2 1458.9 977.7 1458.6 C979.3 1458.3 980.8 1459.1 982.5 1459.7 C984.2 1460.3 986.1 1461.6 987.9 1462.2 C989.7 1462.8 992.0 1464.6 993.4 1463.3 C994.7 1462.0 995.1 1461.8 995.9 1454.2 C996.7 1446.7 997.3 1434.9 998.1 1417.9 C998.9 1401.0 999.8 1370.7 1000.6 1352.5 C1001.5 1334.4 1002.3 1320.8 1003.2 1309.0 C1004.1 1297.2 1005.2 1286.9 1006.1 1281.7 C1006.9 1276.6 1007.5 1277.2 1008.3 1278.1 C1009.0 1279.0 1009.5 1279.0 1010.4 1287.2 C1011.4 1295.3 1012.7 1312.0 1014.1 1327.1 C1015.5 1342.3 1017.1 1362.8 1018.8 1378.0 C1020.5 1393.1 1022.4 1407.0 1024.2 1417.9 C1026.1 1428.8 1027.6 1435.8 1029.7 1443.3 C1031.8 1450.9 1034.2 1457.7 1036.9 1463.3 C1039.7 1468.9 1042.7 1473.4 1046.0 1476.8 C1049.4 1480.1 1053.9 1481.7 1056.9 1483.3 C1060.0 1484.9 1062.1 1486.2 1064.2 1486.2 C1066.3 1486.2 1067.8 1482.9 1069.6 1483.3 C1071.5 1483.7 1072.4 1486.0 1075.1 1488.7 C1077.8 1491.5 1082.3 1496.3 1086.0 1499.6 C1089.6 1503.0 1093.8 1506.7 1096.9 1508.7 C1099.9 1510.7 1102.0 1511.9 1104.1 1511.6 C1106.3 1511.3 1108.1 1508.6 1109.6 1506.9 C1111.1 1505.2 1111.8 1502.4 1113.2 1501.5 C1114.6 1500.5 1116.1 1500.4 1117.9 1501.5 C1119.8 1502.5 1121.6 1505.4 1124.1 1508.0 C1126.7 1510.5 1130.5 1514.6 1133.2 1516.7 C1135.9 1518.8 1138.3 1520.8 1140.5 1520.3 C1142.6 1519.9 1144.4 1517.6 1145.9 1514.2 C1147.4 1510.7 1148.3 1502.4 1149.5 1499.6 C1150.8 1496.9 1151.7 1497.2 1153.2 1497.8 C1154.7 1498.4 1156.5 1500.4 1158.6 1503.3 C1160.7 1506.2 1163.5 1512.2 1165.9 1515.3 C1168.3 1518.3 1171.3 1521.3 1173.1 1521.4 C1175.0 1521.5 1175.3 1519.9 1176.8 1516.0 C1178.3 1512.0 1180.7 1501.3 1182.2 1497.8 C1183.7 1494.3 1184.3 1494.0 1185.9 1494.9 C1187.4 1495.8 1189.2 1499.6 1191.3 1503.3 C1193.4 1506.9 1196.5 1514.9 1198.6 1516.7 C1200.7 1518.5 1202.3 1517.6 1204.0 1514.2 C1205.7 1510.7 1207.3 1499.2 1208.7 1496.0 C1210.1 1492.8 1210.9 1493.4 1212.4 1494.9 C1213.8 1496.4 1215.6 1502.1 1217.5 1505.1 C1219.3 1508.1 1221.5 1513.4 1223.3 1513.1 C1225.1 1512.8 1226.7 1505.5 1228.4 1503.3 C1230.0 1501.0 1231.4 1499.3 1233.1 1499.6 C1234.8 1499.9 1236.7 1503.1 1238.5 1505.1 C1240.3 1507.1 1242.2 1511.6 1244.0 1511.6 C1245.8 1511.6 1247.8 1506.5 1249.4 1505.1 C1251.1 1503.7 1252.3 1502.7 1253.8 1503.3 C1255.3 1503.9 1256.9 1507.5 1258.5 1508.7 C1260.1 1509.9 1261.6 1511.0 1263.2 1510.5 C1264.9 1510.1 1266.7 1506.5 1268.3 1506.2 C1269.9 1505.9 1271.3 1508.1 1273.0 1508.7 C1274.7 1509.3 1276.7 1509.9 1278.5 1509.8 C1280.3 1509.7 1282.1 1508.1 1283.9 1508.0 C1285.7 1507.9 1286.6 1509.8 1289.4 1509.4 C1292.1 1509.1 1296.6 1507.4 1300.3 1505.8 C1303.9 1504.2 1307.5 1501.1 1311.2 1499.6 C1314.8 1498.2 1318.7 1497.6 1322.1 1497.1 C1325.4 1496.6 1329.6 1496.8 1331.1 1496.7" fill="none" stroke="#4A72B8" stroke-width="1.7" stroke-linejoin="round"/>
<text fill="#111" font-size="19" x="1027.1" y="1287.2">80S</text>
<text fill="#111" font-size="19" x="918.2" y="1453.1">40S</text>
<text fill="#111" font-size="19" x="962.5" y="1448.1">60S</text>
<text font-size="28" x="1061.3" y="1374.3">SUDHL10 <tspan font-style="italic">ZCCHC7</tspan>-OE</text>
<text fill="#222" font-size="17.5" x="861.5" y="1560">fraction</text>
<text text-anchor="middle" fill="#222" font-size="17.5" x="945.1" y="1560">3</text>
<text text-anchor="middle" fill="#222" font-size="17.5" x="986.8" y="1560">4</text>
<text text-anchor="middle" fill="#222" font-size="17.5" x="1028.6" y="1560">5</text>
<text text-anchor="middle" fill="#222" font-size="17.5" x="1071.5" y="1560">6</text>
<text text-anchor="middle" fill="#222" font-size="17.5" x="1111.4" y="1560">7</text>
<text text-anchor="middle" fill="#222" font-size="17.5" x="1150.3" y="1560">8</text>
<text text-anchor="middle" fill="#222" font-size="17.5" x="1193.1" y="1560">9</text>
<text text-anchor="middle" fill="#222" font-size="17.5" x="1240.3" y="1560">10</text>
<text text-anchor="middle" fill="#222" font-size="17.5" x="1282.1" y="1560">11</text>
<path d="M923.3 1560.7 l-3.6 9.8 h7.2Z" fill="#3E62A8"/>
<path d="M968.7 1560.7 l-3.6 9.8 h7.2Z" fill="#3E62A8"/>
<path d="M1011.5 1560.7 l-3.6 9.8 h7.2Z" fill="#3E62A8"/>
<path d="M1050.4 1560.7 l-3.6 9.8 h7.2Z" fill="#3E62A8"/>
<path d="M1094.3 1560.7 l-3.6 9.8 h7.2Z" fill="#3E62A8"/>
<path d="M1130.7 1560.7 l-3.6 9.8 h7.2Z" fill="#3E62A8"/>
<path d="M1170.2 1560.7 l-3.6 9.8 h7.2Z" fill="#3E62A8"/>
<path d="M1215.6 1560.7 l-3.6 9.8 h7.2Z" fill="#3E62A8"/>
<path d="M1258.9 1560.7 l-3.6 9.8 h7.2Z" fill="#3E62A8"/>
<path d="M1303.2 1560.7 l-3.6 9.8 h7.2Z" fill="#3E62A8"/>
<text text-anchor="middle" font-size="28" transform="translate(828.1 1405) rotate(-90)">Absorbance, 260 nm</text>
<path d="M815.4 1553 V1594 H858" fill="none" stroke="#000" stroke-width="2.4"/>
<path d="M815.4 1539.8 l-7.8 15.8 h15.6Z" fill="#000"/>
<path d="M871.8 1594 l-15.8 -7.8 v15.6Z" fill="#000"/>
<text font-size="28" textLength="474.5" lengthAdjust="spacingAndGlyphs" x="883" y="1607.6">Sucrose (10% ~ 50%) density gradient</text>
</g>
<g id="panel-f">
<text font-weight="bold" font-size="36" x="1367" y="892.8">f</text>
<text text-anchor="middle" font-size="27.8" x="1722" y="944.9">Increased translation of mRNA</text>
<line x1="1513.8" y1="959.8" x2="1930" y2="959.8" stroke="#000" stroke-width="3" />
<path d="M1950 959.8 l-24 -11.6 v23.2Z" fill="#000"/>
<path d="M1543.7 1275.8 L1547.4 1271.2 L1551.1 1266.6 L1554.8 1262 L1558.4 1257.4 L1562.1 1252.7 L1565.8 1247.9 L1569.5 1243 L1573.1 1238.1 L1576.8 1233 L1580.5 1227.8 L1584.2 1222.5 L1587.8 1217 L1591.5 1211.5 L1595.2 1205.8 L1598.9 1200.4 L1602.5 1195.3 L1606.2 1190.6 L1609.9 1186.5 L1613.6 1183.3 L1617.3 1180.9 L1620.9 1179.7 L1624.6 1179.7 L1628.3 1181.2 L1632 1184.1 L1635.6 1188.8 L1639.3 1194.7 L1643 1201.4 L1646.7 1208.4 L1650.3 1215.4 L1654 1221.8 L1657.7 1227.2 L1661.4 1231.1 L1665 1233.1 L1668.7 1232.7 L1672.4 1229.5 L1676.1 1222.9 L1679.8 1212.8 L1683.4 1199.7 L1687.1 1184.2 L1690.8 1167.1 L1694.5 1149.1 L1698.1 1130.8 L1701.8 1112.9 L1705.5 1096.3 L1709.2 1081.5 L1712.8 1069.3 L1716.5 1060.4 L1720.2 1055.5 L1723.9 1055 L1727.6 1058.7 L1731.2 1066 L1734.9 1076.4 L1738.6 1089.2 L1742.3 1104 L1745.9 1120.2 L1749.6 1137.2 L1753.3 1154.5 L1757 1171.7 L1760.6 1188 L1764.3 1203 L1768 1216.2 L1771.7 1227.6 L1775.3 1237.4 L1779 1245.7 L1782.7 1252.5 L1786.4 1258.1 L1790.1 1262.5 L1793.7 1265.9 L1797.4 1268.3 L1801.1 1269.9 L1804.8 1270.8 L1808.4 1271.1 L1812.1 1271 L1815.8 1270.4 L1819.5 1269.6 L1823.1 1268.5 L1826.8 1267.3 L1830.5 1265.9 L1834.2 1264.6 L1837.9 1263.3 L1841.5 1262.1 L1845.2 1261.1 L1848.9 1260.3 L1852.6 1259.9 L1856.2 1259.9 L1859.9 1260.2 L1863.6 1260.8 L1867.3 1261.5 L1870.9 1262.3 L1874.6 1263.1 L1878.3 1263.8 L1882 1264.3 L1885.6 1264.5 L1889.3 1264.4 L1893 1263.9 L1896.7 1262.9 L1900.4 1261.3 L1904 1259.1 L1907.7 1256.4 L1911.4 1253.3 L1915.1 1249.8 L1918.7 1245.9 L1922.4 1241.8 L1926.1 1237.4 L1929.8 1232.8 L1933.4 1228 L1937.1 1223.1 L1940.8 1218.2" fill="none" stroke="#3FC5A0" stroke-width="5.4" stroke-linejoin="round" stroke-linecap="round"/>
<circle cx="1543.7" cy="1275.8" r="6.4" fill="#3FC5A0" />
<circle cx="1587.8" cy="1217" r="6.4" fill="#3FC5A0" />
<circle cx="1632" cy="1184.1" r="6.4" fill="#3FC5A0" />
<circle cx="1676.1" cy="1222.9" r="6.4" fill="#3FC5A0" />
<circle cx="1720.2" cy="1055.5" r="6.4" fill="#3FC5A0" />
<circle cx="1764.3" cy="1203" r="6.4" fill="#3FC5A0" />
<circle cx="1808.4" cy="1271.1" r="6.4" fill="#3FC5A0" />
<circle cx="1852.6" cy="1259.9" r="6.4" fill="#3FC5A0" />
<circle cx="1896.7" cy="1262.9" r="6.4" fill="#3FC5A0" />
<circle cx="1940.8" cy="1218.2" r="6.4" fill="#3FC5A0" />
<path d="M1543.7 1275.2 L1547.4 1274.7 L1551.1 1274.3 L1554.8 1273.8 L1558.4 1273.4 L1562.1 1273 L1565.8 1272.7 L1569.5 1272.4 L1573.1 1272.2 L1576.8 1272.1 L1580.5 1272 L1584.2 1272.1 L1587.8 1272.3 L1591.5 1272.6 L1595.2 1272.9 L1598.9 1273.4 L1602.5 1273.8 L1606.2 1274.3 L1609.9 1274.7 L1613.6 1275 L1617.3 1275.2 L1620.9 1275.3 L1624.6 1275.2 L1628.3 1274.9 L1632 1274.3 L1635.6 1273.5 L1639.3 1272.4 L1643 1271 L1646.7 1269.4 L1650.3 1267.5 L1654 1265.3 L1657.7 1262.9 L1661.4 1260.3 L1665 1257.3 L1668.7 1254.1 L1672.4 1250.7 L1676.1 1247 L1679.8 1243.1 L1683.4 1239.1 L1687.1 1235.1 L1690.8 1231.2 L1694.5 1227.5 L1698.1 1224.2 L1701.8 1221.5 L1705.5 1219.3 L1709.2 1217.9 L1712.8 1217.4 L1716.5 1217.8 L1720.2 1219.4 L1723.9 1222.2 L1727.6 1226 L1731.2 1230.6 L1734.9 1235.8 L1738.6 1241.4 L1742.3 1247.2 L1745.9 1253 L1749.6 1258.6 L1753.3 1263.7 L1757 1268.2 L1760.6 1271.8 L1764.3 1274.3 L1768 1275.6 L1771.7 1275.8 L1775.3 1274.8 L1779 1272.8 L1782.7 1270 L1786.4 1266.4 L1790.1 1262.1 L1793.7 1257.3 L1797.4 1251.9 L1801.1 1246.2 L1804.8 1240.2 L1808.4 1234.1 L1812.1 1227.9 L1815.8 1221.6 L1819.5 1215.6 L1823.1 1209.7 L1826.8 1204.1 L1830.5 1198.9 L1834.2 1194.3 L1837.9 1190.2 L1841.5 1186.8 L1845.2 1184.2 L1848.9 1182.5 L1852.6 1181.8 L1856.2 1182.1 L1859.9 1183.2 L1863.6 1184.8 L1867.3 1186.8 L1870.9 1188.8 L1874.6 1190.5 L1878.3 1191.8 L1882 1192.3 L1885.6 1191.9 L1889.3 1190.1 L1893 1186.8 L1896.7 1181.8 L1900.4 1174.8 L1904 1165.9 L1907.7 1155.3 L1911.4 1143.2 L1915.1 1129.7 L1918.7 1115 L1922.4 1099.3 L1926.1 1082.7 L1929.8 1065.5 L1933.4 1047.8 L1937.1 1029.7 L1940.8 1011.4" fill="none" stroke="#7878EA" stroke-width="5.4" stroke-linejoin="round" stroke-linecap="round"/>
<circle cx="1543.7" cy="1275.2" r="6.4" fill="#7878EA" />
<circle cx="1587.8" cy="1272.3" r="6.4" fill="#7878EA" />
<circle cx="1632" cy="1274.3" r="6.4" fill="#7878EA" />
<circle cx="1676.1" cy="1247" r="6.4" fill="#7878EA" />
<circle cx="1720.2" cy="1219.4" r="6.4" fill="#7878EA" />
<circle cx="1764.3" cy="1274.3" r="6.4" fill="#7878EA" />
<circle cx="1808.4" cy="1234.1" r="6.4" fill="#7878EA" />
<circle cx="1852.6" cy="1181.8" r="6.4" fill="#7878EA" />
<circle cx="1896.7" cy="1181.8" r="6.4" fill="#7878EA" />
<circle cx="1940.8" cy="1011.4" r="6.4" fill="#7878EA" />
<line x1="1499.6" y1="981" x2="1499.6" y2="1292" stroke="#000" stroke-width="2.6" />
<line x1="1483.6" y1="1275.8" x2="1962.4" y2="1275.8" stroke="#000" stroke-width="2.6" />
<text text-anchor="end" font-size="28" x="1472.5" y="1286.8">0</text>
<line x1="1483.6" y1="1217" x2="1499.6" y2="1217" stroke="#000" stroke-width="2.6" />
<text text-anchor="end" font-size="28" x="1472.5" y="1228">10</text>
<line x1="1483.6" y1="1158.3" x2="1499.6" y2="1158.3" stroke="#000" stroke-width="2.6" />
<text text-anchor="end" font-size="28" x="1472.5" y="1169.3">20</text>
<line x1="1483.6" y1="1099.5" x2="1499.6" y2="1099.5" stroke="#000" stroke-width="2.6" />
<text text-anchor="end" font-size="28" x="1472.5" y="1110.5">30</text>
<line x1="1483.6" y1="1040.8" x2="1499.6" y2="1040.8" stroke="#000" stroke-width="2.6" />
<text text-anchor="end" font-size="28" x="1472.5" y="1051.8">40</text>
<line x1="1483.6" y1="982" x2="1499.6" y2="982" stroke="#000" stroke-width="2.6" />
<text text-anchor="end" font-size="28" x="1472.5" y="993">50</text>
<text text-anchor="middle" font-size="28" x="1499.6" y="1328.6">0</text>
<line x1="1543.7" y1="1275.8" x2="1543.7" y2="1292" stroke="#000" stroke-width="2.6" />
<text text-anchor="middle" font-size="28" x="1543.7" y="1328.6">1</text>
<line x1="1587.8" y1="1275.8" x2="1587.8" y2="1292" stroke="#000" stroke-width="2.6" />
<text text-anchor="middle" font-size="28" x="1587.8" y="1328.6">2</text>
<line x1="1632" y1="1275.8" x2="1632" y2="1292" stroke="#000" stroke-width="2.6" />
<text text-anchor="middle" font-size="28" x="1632" y="1328.6">3</text>
<line x1="1676.1" y1="1275.8" x2="1676.1" y2="1292" stroke="#000" stroke-width="2.6" />
<text text-anchor="middle" font-size="28" x="1676.1" y="1328.6">4</text>
<line x1="1720.2" y1="1275.8" x2="1720.2" y2="1292" stroke="#000" stroke-width="2.6" />
<text text-anchor="middle" font-size="28" x="1720.2" y="1328.6">5</text>
<line x1="1764.3" y1="1275.8" x2="1764.3" y2="1292" stroke="#000" stroke-width="2.6" />
<text text-anchor="middle" font-size="28" x="1764.3" y="1328.6">6</text>
<line x1="1808.4" y1="1275.8" x2="1808.4" y2="1292" stroke="#000" stroke-width="2.6" />
<text text-anchor="middle" font-size="28" x="1808.4" y="1328.6">7</text>
<line x1="1852.6" y1="1275.8" x2="1852.6" y2="1292" stroke="#000" stroke-width="2.6" />
<text text-anchor="middle" font-size="28" x="1852.6" y="1328.6">8</text>
<line x1="1896.7" y1="1275.8" x2="1896.7" y2="1292" stroke="#000" stroke-width="2.6" />
<text text-anchor="middle" font-size="28" x="1896.7" y="1328.6">9</text>
<line x1="1940.8" y1="1275.8" x2="1940.8" y2="1292" stroke="#000" stroke-width="2.6" />
<text text-anchor="middle" font-size="28" x="1940.8" y="1328.6">10</text>
<text text-anchor="middle" font-size="28" transform="translate(1423.3 1130) rotate(-90)">% of total IKZF3 mRNA</text>
<text text-anchor="middle" font-size="28" x="1735" y="1349.8">Sucrose (10% ~ 50%) density</text>
<text text-anchor="middle" font-size="28" x="1735" y="1384.4">gradient fraction number</text>
<line x1="1542.4" y1="1427" x2="1581.5" y2="1427" stroke="#7878EA" stroke-width="6" />
<text font-size="28" x="1598" y="1438">SUDHL10 WT</text>
<line x1="1542.4" y1="1466" x2="1581.5" y2="1466" stroke="#3FC5A0" stroke-width="6" />
<text font-size="28" x="1598" y="1478.3">SUDHL10 <tspan font-style="italic">ZCCHC7</tspan>-OE</text>
</g>
<g id="panel-d">
<text font-weight="bold" font-size="36" x="4" y="1711.7">d</text>
<circle cx="135.6" cy="2043.9" r="117.8" fill="#0000FF" stroke="none" stroke-width="1" fill-opacity="0.5"/>
<circle cx="289.6" cy="2043.9" r="117.8" fill="#FFFF00" stroke="none" stroke-width="1" fill-opacity="0.5"/>
<circle cx="135.6" cy="2043.9" r="117.8" fill="none" stroke="#000" stroke-width="1.3" />
<circle cx="289.6" cy="2043.9" r="117.8" fill="none" stroke="#000" stroke-width="1.3" />
<text text-anchor="middle" font-size="28" x="114.4" y="2033.5">3213</text>
<text text-anchor="middle" font-size="28" x="114.4" y="2068.2">(90.4%)</text>
<text text-anchor="middle" font-size="28" x="215.3" y="2033.5">215</text>
<text text-anchor="middle" font-size="28" x="215.3" y="2068.2">(6%)</text>
<text text-anchor="middle" font-size="28" x="314.8" y="2033.5">127</text>
<text text-anchor="middle" font-size="28" x="314.8" y="2068.2">(3.6%)</text>
<text text-anchor="middle" font-size="28" x="307.2" y="1872.4">SUDHL10 WT vs</text>
<text text-anchor="middle" font-size="28" x="307.2" y="1906.4"><tspan font-style="italic">ZCCHC7</tspan>-OE</text>
<text font-size="28" x="83.9" y="2198.5">CL-01 vs</text>
<text font-size="28" x="83.9" y="2232.6">SUDHL6</text>
<line x1="228.8" y1="1996.9" x2="432" y2="1996.9" stroke="#000" stroke-width="2.4" />
<path d="M454.2 1996.9 l-26 -6.6 v13.2Z" fill="#000"/>
<line x1="826" y1="1995.4" x2="884" y2="1995.4" stroke="#000" stroke-width="2.4" />
<path d="M907.6 1995.4 l-24.5 -12 v24Z" fill="#000"/>
<rect x="519.1" y="1835" width="133.9" height="14.1" fill="#12D6DC" />
<rect x="652.8" y="1835" width="133.6" height="14.1" fill="#F9877D" />
<rect x="519.1" y="1852" width="133.9" height="144.8" fill="#FBFB70" />
<rect x="652.8" y="1852" width="133.6" height="144.8" fill="#7C7CFC" />
<rect x="519.1" y="1996.8" width="133.9" height="122.8" fill="#7C7CFC" />
<rect x="652.8" y="1996.8" width="133.6" height="122.8" fill="#FBFB70" />
<rect x="519.1" y="1862.0" width="44.8" height="2.75" fill="#FBFB7F"/>
<rect x="519.1" y="1874.5" width="44.8" height="2.75" fill="#FBFB83"/>
<rect x="519.1" y="1882.0" width="44.8" height="2.75" fill="#FBFB5E"/>
<rect x="519.1" y="1884.5" width="44.8" height="2.75" fill="#FBFB58"/>
<rect x="519.1" y="1887.0" width="44.8" height="2.75" fill="#FBFB60"/>
<rect x="519.1" y="1892.0" width="44.8" height="2.75" fill="#FBFB4E"/>
<rect x="519.1" y="1894.5" width="44.8" height="2.75" fill="#FBFB5B"/>
<rect x="519.1" y="1917.0" width="44.8" height="2.75" fill="#FBFB2E"/>
<rect x="519.1" y="1919.5" width="44.8" height="2.75" fill="#FBFB31"/>
<rect x="519.1" y="1922.0" width="44.8" height="2.75" fill="#FBFB4A"/>
<rect x="519.1" y="1924.5" width="44.8" height="2.75" fill="#FBFB3F"/>
<rect x="519.1" y="1927.0" width="44.8" height="2.75" fill="#FBFB7F"/>
<rect x="519.1" y="1932.0" width="44.8" height="2.75" fill="#FBFB89"/>
<rect x="519.1" y="1934.5" width="44.8" height="2.75" fill="#FBFB82"/>
<rect x="519.1" y="1937.0" width="44.8" height="2.75" fill="#FBFB85"/>
<rect x="519.1" y="1942.0" width="44.8" height="2.75" fill="#FBFB54"/>
<rect x="519.1" y="1944.5" width="44.8" height="2.75" fill="#FBFB5D"/>
<rect x="519.1" y="1947.0" width="44.8" height="2.75" fill="#FBFB59"/>
<rect x="519.1" y="1972.0" width="44.8" height="2.75" fill="#FBFB61"/>
<rect x="519.1" y="1977.0" width="44.8" height="2.75" fill="#FBFB95"/>
<rect x="519.1" y="1979.5" width="44.8" height="2.75" fill="#FBFB98"/>
<rect x="519.1" y="1982.0" width="44.8" height="2.75" fill="#FBFB90"/>
<rect x="519.1" y="1984.5" width="44.8" height="2.75" fill="#FBFB9B"/>
<rect x="519.1" y="1992.1" width="44.8" height="2.75" fill="#FBFB5C"/>
<rect x="519.1" y="1994.6" width="44.8" height="2.75" fill="#FBFB5B"/>
<rect x="519.1" y="1997.1" width="44.8" height="2.75" fill="#1D1DFC"/>
<rect x="519.1" y="1999.6" width="44.8" height="2.75" fill="#2323FC"/>
<rect x="519.1" y="2004.6" width="44.8" height="2.75" fill="#6D6DFC"/>
<rect x="519.1" y="2007.1" width="44.8" height="2.75" fill="#5C5CFC"/>
<rect x="519.1" y="2009.6" width="44.8" height="2.75" fill="#6A6AFC"/>
<rect x="519.1" y="2012.1" width="44.8" height="2.75" fill="#6868FC"/>
<rect x="519.1" y="2014.6" width="44.8" height="2.75" fill="#6767FC"/>
<rect x="519.1" y="2017.1" width="44.8" height="2.75" fill="#6A6AFC"/>
<rect x="519.1" y="2019.6" width="44.8" height="2.75" fill="#6D6DFC"/>
<rect x="519.1" y="2034.6" width="44.8" height="2.75" fill="#6969FC"/>
<rect x="519.1" y="2037.1" width="44.8" height="2.75" fill="#6262FC"/>
<rect x="519.1" y="2039.6" width="44.8" height="2.75" fill="#5C5CFC"/>
<rect x="519.1" y="2042.1" width="44.8" height="2.75" fill="#B1B1FC"/>
<rect x="519.1" y="2044.6" width="44.8" height="2.75" fill="#B1B1FC"/>
<rect x="519.1" y="2047.1" width="44.8" height="2.75" fill="#6363FC"/>
<rect x="519.1" y="2049.6" width="44.8" height="2.75" fill="#6060FC"/>
<rect x="519.1" y="2052.1" width="44.8" height="2.75" fill="#5151FC"/>
<rect x="519.1" y="2054.6" width="44.8" height="2.75" fill="#C1C1FC"/>
<rect x="519.1" y="2057.1" width="44.8" height="2.75" fill="#D2D2FC"/>
<rect x="519.1" y="2059.6" width="44.8" height="2.75" fill="#5C5CFC"/>
<rect x="519.1" y="2062.1" width="44.8" height="2.75" fill="#6262FC"/>
<rect x="519.1" y="2064.6" width="44.8" height="2.75" fill="#5D5DFC"/>
<rect x="519.1" y="2067.1" width="44.8" height="2.75" fill="#5B5BFC"/>
<rect x="519.1" y="2072.1" width="44.8" height="2.75" fill="#5656FC"/>
<rect x="519.1" y="2074.6" width="44.8" height="2.75" fill="#4A4AFC"/>
<rect x="519.1" y="2077.1" width="44.8" height="2.75" fill="#5656FC"/>
<rect x="519.1" y="2079.6" width="44.8" height="2.75" fill="#5858FC"/>
<rect x="519.1" y="2082.1" width="44.8" height="2.75" fill="#6161FC"/>
<rect x="563.6" y="1854.5" width="44.8" height="2.75" fill="#FBFB5B"/>
<rect x="563.6" y="1867.0" width="44.8" height="2.75" fill="#FBFB87"/>
<rect x="563.6" y="1872.0" width="44.8" height="2.75" fill="#FBFB5B"/>
<rect x="563.6" y="1874.5" width="44.8" height="2.75" fill="#FBFB56"/>
<rect x="563.6" y="1884.5" width="44.8" height="2.75" fill="#FBFB52"/>
<rect x="563.6" y="1887.0" width="44.8" height="2.75" fill="#FBFB54"/>
<rect x="563.6" y="1889.5" width="44.8" height="2.75" fill="#FBFB5B"/>
<rect x="563.6" y="1892.0" width="44.8" height="2.75" fill="#FBFB50"/>
<rect x="563.6" y="1894.5" width="44.8" height="2.75" fill="#FBFB5A"/>
<rect x="563.6" y="1897.0" width="44.8" height="2.75" fill="#FBFB4C"/>
<rect x="563.6" y="1899.5" width="44.8" height="2.75" fill="#FBFB5F"/>
<rect x="563.6" y="1907.0" width="44.8" height="2.75" fill="#FBFB57"/>
<rect x="563.6" y="1909.5" width="44.8" height="2.75" fill="#FBFB57"/>
<rect x="563.6" y="1912.0" width="44.8" height="2.75" fill="#FBFB5B"/>
<rect x="563.6" y="1919.5" width="44.8" height="2.75" fill="#FBFB7F"/>
<rect x="563.6" y="1922.0" width="44.8" height="2.75" fill="#FBFB81"/>
<rect x="563.6" y="1924.5" width="44.8" height="2.75" fill="#FBFB45"/>
<rect x="563.6" y="1927.0" width="44.8" height="2.75" fill="#FBFB47"/>
<rect x="563.6" y="1929.5" width="44.8" height="2.75" fill="#FBFB3C"/>
<rect x="563.6" y="1932.0" width="44.8" height="2.75" fill="#FBFB3C"/>
<rect x="563.6" y="1934.5" width="44.8" height="2.75" fill="#FBFB41"/>
<rect x="563.6" y="1937.0" width="44.8" height="2.75" fill="#FBFB40"/>
<rect x="563.6" y="1939.5" width="44.8" height="2.75" fill="#FBFB3B"/>
<rect x="563.6" y="1949.5" width="44.8" height="2.75" fill="#FBFBC0"/>
<rect x="563.6" y="1952.0" width="44.8" height="2.75" fill="#FBFBB1"/>
<rect x="563.6" y="1954.5" width="44.8" height="2.75" fill="#FBFBA3"/>
<rect x="563.6" y="1957.0" width="44.8" height="2.75" fill="#FBFBAB"/>
<rect x="563.6" y="1959.5" width="44.8" height="2.75" fill="#FBFBB4"/>
<rect x="563.6" y="1962.0" width="44.8" height="2.75" fill="#FBFBC0"/>
<rect x="563.6" y="1969.5" width="44.8" height="2.75" fill="#FBFB59"/>
<rect x="563.6" y="1972.0" width="44.8" height="2.75" fill="#FBFB5D"/>
<rect x="563.6" y="1977.0" width="44.8" height="2.75" fill="#FBFB88"/>
<rect x="563.6" y="1984.5" width="44.8" height="2.75" fill="#FBFB81"/>
<rect x="563.6" y="1989.6" width="44.8" height="2.75" fill="#FBFB89"/>
<rect x="563.6" y="1992.1" width="44.8" height="2.75" fill="#FBFB5B"/>
<rect x="563.6" y="1994.6" width="44.8" height="2.75" fill="#FBFB54"/>
<rect x="563.6" y="1997.1" width="44.8" height="2.75" fill="#5D5DFC"/>
<rect x="563.6" y="1999.6" width="44.8" height="2.75" fill="#6969FC"/>
<rect x="563.6" y="2002.1" width="44.8" height="2.75" fill="#8B8BFC"/>
<rect x="563.6" y="2004.6" width="44.8" height="2.75" fill="#CBCBFC"/>
<rect x="563.6" y="2007.1" width="44.8" height="2.75" fill="#DBDBFC"/>
<rect x="563.6" y="2009.6" width="44.8" height="2.75" fill="#CBCBFC"/>
<rect x="563.6" y="2012.1" width="44.8" height="2.75" fill="#DBDBFC"/>
<rect x="563.6" y="2014.6" width="44.8" height="2.75" fill="#A2A2FC"/>
<rect x="563.6" y="2019.6" width="44.8" height="2.75" fill="#6D6DFC"/>
<rect x="563.6" y="2024.6" width="44.8" height="2.75" fill="#9494FC"/>
<rect x="563.6" y="2034.6" width="44.8" height="2.75" fill="#8B8BFC"/>
<rect x="563.6" y="2037.1" width="44.8" height="2.75" fill="#9090FC"/>
<rect x="563.6" y="2039.6" width="44.8" height="2.75" fill="#9999FC"/>
<rect x="563.6" y="2042.1" width="44.8" height="2.75" fill="#DBDBFC"/>
<rect x="563.6" y="2044.6" width="44.8" height="2.75" fill="#D6D6FC"/>
<rect x="563.6" y="2049.6" width="44.8" height="2.75" fill="#5C5CFC"/>
<rect x="563.6" y="2052.1" width="44.8" height="2.75" fill="#6767FC"/>
<rect x="563.6" y="2057.1" width="44.8" height="2.75" fill="#3E3EFC"/>
<rect x="563.6" y="2059.6" width="44.8" height="2.75" fill="#3E3EFC"/>
<rect x="563.6" y="2062.1" width="44.8" height="2.75" fill="#9191FC"/>
<rect x="563.6" y="2064.6" width="44.8" height="2.75" fill="#A2A2FC"/>
<rect x="563.6" y="2067.1" width="44.8" height="2.75" fill="#8D8DFC"/>
<rect x="563.6" y="2072.1" width="44.8" height="2.75" fill="#6C6CFC"/>
<rect x="563.6" y="2074.6" width="44.8" height="2.75" fill="#5F5FFC"/>
<rect x="563.6" y="2077.1" width="44.8" height="2.75" fill="#6464FC"/>
<rect x="563.6" y="2087.1" width="44.8" height="2.75" fill="#8B8BFC"/>
<rect x="563.6" y="2092.1" width="44.8" height="2.75" fill="#8D8DFC"/>
<rect x="608.2" y="1859.5" width="44.8" height="2.75" fill="#FBFB5E"/>
<rect x="608.2" y="1862.0" width="44.8" height="2.75" fill="#FBFB5B"/>
<rect x="608.2" y="1882.0" width="44.8" height="2.75" fill="#FBFB5E"/>
<rect x="608.2" y="1889.5" width="44.8" height="2.75" fill="#FBFB92"/>
<rect x="608.2" y="1892.0" width="44.8" height="2.75" fill="#FBFB89"/>
<rect x="608.2" y="1897.0" width="44.8" height="2.75" fill="#FBFB80"/>
<rect x="608.2" y="1912.0" width="44.8" height="2.75" fill="#FBFB81"/>
<rect x="608.2" y="1917.0" width="44.8" height="2.75" fill="#FBFB5E"/>
<rect x="608.2" y="1934.5" width="44.8" height="2.75" fill="#FBFB7F"/>
<rect x="608.2" y="1937.0" width="44.8" height="2.75" fill="#FBFB82"/>
<rect x="608.2" y="1949.5" width="44.8" height="2.75" fill="#FBFB45"/>
<rect x="608.2" y="1952.0" width="44.8" height="2.75" fill="#FBFB42"/>
<rect x="608.2" y="1954.5" width="44.8" height="2.75" fill="#FBFB4B"/>
<rect x="608.2" y="1957.0" width="44.8" height="2.75" fill="#FBFB48"/>
<rect x="608.2" y="1959.5" width="44.8" height="2.75" fill="#FBFB45"/>
<rect x="608.2" y="1962.0" width="44.8" height="2.75" fill="#FBFB4E"/>
<rect x="608.2" y="1964.5" width="44.8" height="2.75" fill="#FBFB55"/>
<rect x="608.2" y="1967.0" width="44.8" height="2.75" fill="#FBFB5D"/>
<rect x="608.2" y="1972.0" width="44.8" height="2.75" fill="#FBFB50"/>
<rect x="608.2" y="1979.5" width="44.8" height="2.75" fill="#FBFB89"/>
<rect x="608.2" y="1982.0" width="44.8" height="2.75" fill="#FBFB88"/>
<rect x="608.2" y="1984.5" width="44.8" height="2.75" fill="#FBFB80"/>
<rect x="608.2" y="1997.1" width="44.8" height="2.75" fill="#DBDBFC"/>
<rect x="608.2" y="2004.6" width="44.8" height="2.75" fill="#8C8CFC"/>
<rect x="608.2" y="2007.1" width="44.8" height="2.75" fill="#9898FC"/>
<rect x="608.2" y="2009.6" width="44.8" height="2.75" fill="#9E9EFC"/>
<rect x="608.2" y="2012.1" width="44.8" height="2.75" fill="#A6A6FC"/>
<rect x="608.2" y="2014.6" width="44.8" height="2.75" fill="#8B8BFC"/>
<rect x="608.2" y="2022.1" width="44.8" height="2.75" fill="#6E6EFC"/>
<rect x="608.2" y="2029.6" width="44.8" height="2.75" fill="#6A6AFC"/>
<rect x="608.2" y="2034.6" width="44.8" height="2.75" fill="#9696FC"/>
<rect x="608.2" y="2037.1" width="44.8" height="2.75" fill="#9B9BFC"/>
<rect x="608.2" y="2042.1" width="44.8" height="2.75" fill="#1D1DFC"/>
<rect x="608.2" y="2044.6" width="44.8" height="2.75" fill="#1D1DFC"/>
<rect x="608.2" y="2059.6" width="44.8" height="2.75" fill="#9D9DFC"/>
<rect x="608.2" y="2062.1" width="44.8" height="2.75" fill="#A0A0FC"/>
<rect x="608.2" y="2064.6" width="44.8" height="2.75" fill="#A6A6FC"/>
<rect x="608.2" y="2067.1" width="44.8" height="2.75" fill="#9393FC"/>
<rect x="608.2" y="2072.1" width="44.8" height="2.75" fill="#4F4FFC"/>
<rect x="608.2" y="2074.6" width="44.8" height="2.75" fill="#6161FC"/>
<rect x="608.2" y="2082.1" width="44.8" height="2.75" fill="#8E8EFC"/>
<rect x="608.2" y="2087.1" width="44.8" height="2.75" fill="#6B6BFC"/>
<rect x="652.8" y="1852.0" width="44.8" height="2.75" fill="#6565FC"/>
<rect x="652.8" y="1854.5" width="44.8" height="2.75" fill="#6666FC"/>
<rect x="652.8" y="1857.0" width="44.8" height="2.75" fill="#6666FC"/>
<rect x="652.8" y="1867.0" width="44.8" height="2.75" fill="#8B8BFC"/>
<rect x="652.8" y="1882.0" width="44.8" height="2.75" fill="#6767FC"/>
<rect x="652.8" y="1887.0" width="44.8" height="2.75" fill="#5E5EFC"/>
<rect x="652.8" y="1899.5" width="44.8" height="2.75" fill="#8A8AFC"/>
<rect x="652.8" y="1904.5" width="44.8" height="2.75" fill="#6767FC"/>
<rect x="652.8" y="1912.0" width="44.8" height="2.75" fill="#6060FC"/>
<rect x="652.8" y="1914.5" width="44.8" height="2.75" fill="#5656FC"/>
<rect x="652.8" y="1917.0" width="44.8" height="2.75" fill="#6565FC"/>
<rect x="652.8" y="1924.5" width="44.8" height="2.75" fill="#8D8DFC"/>
<rect x="652.8" y="1927.0" width="44.8" height="2.75" fill="#8C8CFC"/>
<rect x="652.8" y="1939.5" width="44.8" height="2.75" fill="#9090FC"/>
<rect x="652.8" y="1942.0" width="44.8" height="2.75" fill="#DBDBFC"/>
<rect x="652.8" y="1944.5" width="44.8" height="2.75" fill="#DBDBFC"/>
<rect x="652.8" y="1947.0" width="44.8" height="2.75" fill="#DBDBFC"/>
<rect x="652.8" y="1949.5" width="44.8" height="2.75" fill="#DBDBFC"/>
<rect x="652.8" y="1952.0" width="44.8" height="2.75" fill="#8B8BFC"/>
<rect x="652.8" y="1954.5" width="44.8" height="2.75" fill="#9696FC"/>
<rect x="652.8" y="1957.0" width="44.8" height="2.75" fill="#9292FC"/>
<rect x="652.8" y="1959.5" width="44.8" height="2.75" fill="#6A6AFC"/>
<rect x="652.8" y="1967.0" width="44.8" height="2.75" fill="#6B6BFC"/>
<rect x="652.8" y="1969.5" width="44.8" height="2.75" fill="#6565FC"/>
<rect x="652.8" y="1972.0" width="44.8" height="2.75" fill="#6060FC"/>
<rect x="652.8" y="1974.5" width="44.8" height="2.75" fill="#5B5BFC"/>
<rect x="652.8" y="1979.5" width="44.8" height="2.75" fill="#8E8EFC"/>
<rect x="652.8" y="1987.1" width="44.8" height="2.75" fill="#6868FC"/>
<rect x="652.8" y="1989.6" width="44.8" height="2.75" fill="#1D1DFC"/>
<rect x="652.8" y="1992.1" width="44.8" height="2.75" fill="#1D1DFC"/>
<rect x="652.8" y="1994.6" width="44.8" height="2.75" fill="#4E4EFC"/>
<rect x="652.8" y="2014.6" width="44.8" height="2.75" fill="#FBFB60"/>
<rect x="652.8" y="2017.1" width="44.8" height="2.75" fill="#FBFB5A"/>
<rect x="652.8" y="2029.6" width="44.8" height="2.75" fill="#FBFB8D"/>
<rect x="652.8" y="2047.1" width="44.8" height="2.75" fill="#FBFB20"/>
<rect x="652.8" y="2049.6" width="44.8" height="2.75" fill="#FBFB26"/>
<rect x="652.8" y="2052.1" width="44.8" height="2.75" fill="#FBFB31"/>
<rect x="652.8" y="2054.6" width="44.8" height="2.75" fill="#FBFB25"/>
<rect x="652.8" y="2067.1" width="44.8" height="2.75" fill="#FBFB89"/>
<rect x="652.8" y="2074.6" width="44.8" height="2.75" fill="#FBFB83"/>
<rect x="652.8" y="2079.6" width="44.8" height="2.75" fill="#FBFB61"/>
<rect x="652.8" y="2082.1" width="44.8" height="2.75" fill="#FBFB3E"/>
<rect x="652.8" y="2084.6" width="44.8" height="2.75" fill="#FBFB49"/>
<rect x="652.8" y="2087.1" width="44.8" height="2.75" fill="#FBFB58"/>
<rect x="652.8" y="2089.6" width="44.8" height="2.75" fill="#FBFB5E"/>
<rect x="652.8" y="2092.1" width="44.8" height="2.75" fill="#FBFB52"/>
<rect x="652.8" y="2094.6" width="44.8" height="2.75" fill="#FBFB5B"/>
<rect x="652.8" y="2097.1" width="44.8" height="2.75" fill="#FBFB5C"/>
<rect x="652.8" y="2099.6" width="44.8" height="2.75" fill="#FBFB5C"/>
<rect x="652.8" y="2109.6" width="44.8" height="2.75" fill="#FBFB80"/>
<rect x="697.3" y="1854.5" width="44.8" height="2.75" fill="#A4A4FC"/>
<rect x="697.3" y="1857.0" width="44.8" height="2.75" fill="#9191FC"/>
<rect x="697.3" y="1859.5" width="44.8" height="2.75" fill="#8C8CFC"/>
<rect x="697.3" y="1862.0" width="44.8" height="2.75" fill="#A1A1FC"/>
<rect x="697.3" y="1864.5" width="44.8" height="2.75" fill="#9797FC"/>
<rect x="697.3" y="1867.0" width="44.8" height="2.75" fill="#A6A6FC"/>
<rect x="697.3" y="1869.5" width="44.8" height="2.75" fill="#9A9AFC"/>
<rect x="697.3" y="1872.0" width="44.8" height="2.75" fill="#8F8FFC"/>
<rect x="697.3" y="1882.0" width="44.8" height="2.75" fill="#8D8DFC"/>
<rect x="697.3" y="1884.5" width="44.8" height="2.75" fill="#8D8DFC"/>
<rect x="697.3" y="1887.0" width="44.8" height="2.75" fill="#9090FC"/>
<rect x="697.3" y="1889.5" width="44.8" height="2.75" fill="#8E8EFC"/>
<rect x="697.3" y="1897.0" width="44.8" height="2.75" fill="#6161FC"/>
<rect x="697.3" y="1899.5" width="44.8" height="2.75" fill="#9090FC"/>
<rect x="697.3" y="1907.0" width="44.8" height="2.75" fill="#5F5FFC"/>
<rect x="697.3" y="1909.5" width="44.8" height="2.75" fill="#5A5AFC"/>
<rect x="697.3" y="1914.5" width="44.8" height="2.75" fill="#2B2BFC"/>
<rect x="697.3" y="1917.0" width="44.8" height="2.75" fill="#3434FC"/>
<rect x="697.3" y="1919.5" width="44.8" height="2.75" fill="#2424FC"/>
<rect x="697.3" y="1922.0" width="44.8" height="2.75" fill="#3838FC"/>
<rect x="697.3" y="1934.5" width="44.8" height="2.75" fill="#A1A1FC"/>
<rect x="697.3" y="1937.0" width="44.8" height="2.75" fill="#8F8FFC"/>
<rect x="697.3" y="1942.0" width="44.8" height="2.75" fill="#2626FC"/>
<rect x="697.3" y="1944.5" width="44.8" height="2.75" fill="#3636FC"/>
<rect x="697.3" y="1947.0" width="44.8" height="2.75" fill="#2E2EFC"/>
<rect x="697.3" y="1949.5" width="44.8" height="2.75" fill="#2323FC"/>
<rect x="697.3" y="1957.0" width="44.8" height="2.75" fill="#6767FC"/>
<rect x="697.3" y="1964.5" width="44.8" height="2.75" fill="#A0A0FC"/>
<rect x="697.3" y="1967.0" width="44.8" height="2.75" fill="#A0A0FC"/>
<rect x="697.3" y="1969.5" width="44.8" height="2.75" fill="#A0A0FC"/>
<rect x="697.3" y="1972.0" width="44.8" height="2.75" fill="#A4A4FC"/>
<rect x="697.3" y="1974.5" width="44.8" height="2.75" fill="#A3A3FC"/>
<rect x="697.3" y="1982.0" width="44.8" height="2.75" fill="#DBDBFC"/>
<rect x="697.3" y="1984.5" width="44.8" height="2.75" fill="#CFCFFC"/>
<rect x="697.3" y="1987.1" width="44.8" height="2.75" fill="#D9D9FC"/>
<rect x="697.3" y="1994.6" width="44.8" height="2.75" fill="#DBDBFC"/>
<rect x="697.3" y="2004.6" width="44.8" height="2.75" fill="#FBFB8A"/>
<rect x="697.3" y="2007.1" width="44.8" height="2.75" fill="#FBFB81"/>
<rect x="697.3" y="2009.6" width="44.8" height="2.75" fill="#FBFB87"/>
<rect x="697.3" y="2012.1" width="44.8" height="2.75" fill="#FBFB81"/>
<rect x="697.3" y="2014.6" width="44.8" height="2.75" fill="#FBFB80"/>
<rect x="697.3" y="2017.1" width="44.8" height="2.75" fill="#FBFB82"/>
<rect x="697.3" y="2029.6" width="44.8" height="2.75" fill="#FBFB80"/>
<rect x="697.3" y="2034.6" width="44.8" height="2.75" fill="#FBFB5B"/>
<rect x="697.3" y="2044.6" width="44.8" height="2.75" fill="#FBFB83"/>
<rect x="697.3" y="2047.1" width="44.8" height="2.75" fill="#FBFB88"/>
<rect x="697.3" y="2049.6" width="44.8" height="2.75" fill="#FBFB83"/>
<rect x="697.3" y="2059.6" width="44.8" height="2.75" fill="#FBFB85"/>
<rect x="697.3" y="2067.1" width="44.8" height="2.75" fill="#FBFB84"/>
<rect x="697.3" y="2069.6" width="44.8" height="2.75" fill="#FBFB8A"/>
<rect x="697.3" y="2072.1" width="44.8" height="2.75" fill="#FBFB83"/>
<rect x="697.3" y="2089.6" width="44.8" height="2.75" fill="#FBFB56"/>
<rect x="697.3" y="2102.1" width="44.8" height="2.75" fill="#FBFB5B"/>
<rect x="697.3" y="2114.6" width="44.8" height="2.75" fill="#FBFB84"/>
<rect x="741.9" y="1854.5" width="44.8" height="2.75" fill="#6C6CFC"/>
<rect x="741.9" y="1857.0" width="44.8" height="2.75" fill="#6262FC"/>
<rect x="741.9" y="1859.5" width="44.8" height="2.75" fill="#6161FC"/>
<rect x="741.9" y="1862.0" width="44.8" height="2.75" fill="#5A5AFC"/>
<rect x="741.9" y="1864.5" width="44.8" height="2.75" fill="#6868FC"/>
<rect x="741.9" y="1869.5" width="44.8" height="2.75" fill="#6666FC"/>
<rect x="741.9" y="1879.5" width="44.8" height="2.75" fill="#8D8DFC"/>
<rect x="741.9" y="1887.0" width="44.8" height="2.75" fill="#9595FC"/>
<rect x="741.9" y="1889.5" width="44.8" height="2.75" fill="#9393FC"/>
<rect x="741.9" y="1904.5" width="44.8" height="2.75" fill="#6969FC"/>
<rect x="741.9" y="1907.0" width="44.8" height="2.75" fill="#5959FC"/>
<rect x="741.9" y="1912.0" width="44.8" height="2.75" fill="#6868FC"/>
<rect x="741.9" y="1919.5" width="44.8" height="2.75" fill="#5454FC"/>
<rect x="741.9" y="1922.0" width="44.8" height="2.75" fill="#6363FC"/>
<rect x="741.9" y="1924.5" width="44.8" height="2.75" fill="#4D4DFC"/>
<rect x="741.9" y="1927.0" width="44.8" height="2.75" fill="#4C4CFC"/>
<rect x="741.9" y="1929.5" width="44.8" height="2.75" fill="#6A6AFC"/>
<rect x="741.9" y="1932.0" width="44.8" height="2.75" fill="#6868FC"/>
<rect x="741.9" y="1934.5" width="44.8" height="2.75" fill="#6363FC"/>
<rect x="741.9" y="1937.0" width="44.8" height="2.75" fill="#6C6CFC"/>
<rect x="741.9" y="1939.5" width="44.8" height="2.75" fill="#9494FC"/>
<rect x="741.9" y="1942.0" width="44.8" height="2.75" fill="#9292FC"/>
<rect x="741.9" y="1944.5" width="44.8" height="2.75" fill="#8F8FFC"/>
<rect x="741.9" y="1947.0" width="44.8" height="2.75" fill="#9A9AFC"/>
<rect x="741.9" y="1959.5" width="44.8" height="2.75" fill="#8E8EFC"/>
<rect x="741.9" y="1962.0" width="44.8" height="2.75" fill="#9494FC"/>
<rect x="741.9" y="1964.5" width="44.8" height="2.75" fill="#8B8BFC"/>
<rect x="741.9" y="1974.5" width="44.8" height="2.75" fill="#9898FC"/>
<rect x="741.9" y="1979.5" width="44.8" height="2.75" fill="#9090FC"/>
<rect x="741.9" y="1984.5" width="44.8" height="2.75" fill="#3C3CFC"/>
<rect x="741.9" y="1987.1" width="44.8" height="2.75" fill="#3D3DFC"/>
<rect x="741.9" y="1989.6" width="44.8" height="2.75" fill="#3333FC"/>
<rect x="741.9" y="1992.1" width="44.8" height="2.75" fill="#9797FC"/>
<rect x="741.9" y="1994.6" width="44.8" height="2.75" fill="#BFBFFC"/>
<rect x="741.9" y="2004.6" width="44.8" height="2.75" fill="#FBFB61"/>
<rect x="741.9" y="2007.1" width="44.8" height="2.75" fill="#FBFB56"/>
<rect x="741.9" y="2009.6" width="44.8" height="2.75" fill="#FBFB5B"/>
<rect x="741.9" y="2014.6" width="44.8" height="2.75" fill="#FBFB36"/>
<rect x="741.9" y="2017.1" width="44.8" height="2.75" fill="#FBFB2D"/>
<rect x="741.9" y="2019.6" width="44.8" height="2.75" fill="#FBFB34"/>
<rect x="741.9" y="2022.1" width="44.8" height="2.75" fill="#FBFB40"/>
<rect x="741.9" y="2024.6" width="44.8" height="2.75" fill="#FBFB48"/>
<rect x="741.9" y="2027.1" width="44.8" height="2.75" fill="#FBFB4A"/>
<rect x="741.9" y="2029.6" width="44.8" height="2.75" fill="#FBFB42"/>
<rect x="741.9" y="2032.1" width="44.8" height="2.75" fill="#FBFB84"/>
<rect x="741.9" y="2037.1" width="44.8" height="2.75" fill="#FBFB5A"/>
<rect x="741.9" y="2039.6" width="44.8" height="2.75" fill="#FBFB4D"/>
<rect x="741.9" y="2052.1" width="44.8" height="2.75" fill="#FBFB60"/>
<rect x="741.9" y="2067.1" width="44.8" height="2.75" fill="#FBFB5F"/>
<rect x="741.9" y="2087.1" width="44.8" height="2.75" fill="#FBFB80"/>
<rect x="741.9" y="2104.6" width="44.8" height="2.75" fill="#FBFB81"/>
<rect x="741.9" y="2114.6" width="44.8" height="2.75" fill="#FBFB8B"/>
<rect x="741.9" y="2117.1" width="44.8" height="2.75" fill="#FBFB9F"/>
<path d="M596.6 1821.3 L596.6 1772.1 L708.5 1772.1 L708.5 1820.0 M541.4 1833.8 L541.4 1821.7 L630.5 1821.7 L630.5 1833.8 M585.7 1833.8 L585.7 1821.3 L563.2 1821.3 M674.6 1833.8 L674.6 1820.0 L741.9 1820.0 L741.9 1822.5 M719.3 1833.8 L719.3 1822.5 L764.6 1822.5 L764.6 1833.8" fill="none" stroke="#222" stroke-width="1.3"/>
<path d="M519.1 1852.6 H518.4 V1853.9 H519.1 M518.4 1853.3 H517.7 V1855.1 H519.1 M519.1 1857.6 H518.4 V1858.8 H519.1 M519.1 1856.4 H517.7 V1858.2 H518.4 M519.1 1860.1 H518.4 V1861.3 H519.1 M519.1 1863.8 H518.4 V1865.1 H519.1 M519.1 1862.6 H517.7 V1864.5 H518.4 M518.4 1860.7 H517.0 V1863.9 H517.7 M519.1 1866.3 H518.2 V1867.6 H519.1 M517.0 1862.8 H516.3 V1867.0 H518.2 M517.7 1857.7 H515.6 V1864.3 H516.3 M517.7 1853.9 H514.9 V1863.0 H515.6 M519.1 1870.0 H518.4 V1871.3 H519.1 M519.1 1868.8 H517.7 V1870.7 H518.4 M517.7 1870.1 H517.0 V1872.5 H519.1 M519.1 1875.0 H518.2 V1876.3 H519.1 M519.1 1873.8 H517.5 V1875.7 H518.2 M519.1 1877.5 H517.9 V1878.8 H519.1 M519.1 1880.0 H518.1 V1881.2 H519.1 M517.9 1878.2 H517.2 V1880.7 H518.1 M517.5 1875.1 H516.5 V1879.5 H517.2 M519.1 1882.5 H518.1 V1883.7 H519.1 M518.1 1883.1 H517.4 V1885.0 H519.1 M516.5 1878.0 H515.8 V1883.8 H517.4 M517.0 1870.8 H515.1 V1880.5 H515.8 M519.1 1887.5 H517.5 V1888.7 H519.1 M519.1 1886.2 H516.8 V1888.1 H517.5 M515.1 1879.1 H514.4 V1887.5 H516.8 M514.9 1862.0 H513.7 V1882.0 H514.4 M519.1 1890.0 H517.7 V1891.2 H519.1 M517.7 1890.6 H517.0 V1892.5 H519.1 M519.1 1893.7 H517.4 V1894.9 H519.1 M519.1 1896.2 H517.2 V1897.4 H519.1 M517.4 1894.3 H516.5 V1896.8 H517.2 M519.1 1898.7 H517.2 V1899.9 H519.1 M516.5 1895.7 H515.8 V1899.3 H517.2 M517.0 1891.3 H515.1 V1897.2 H515.8 M519.1 1901.2 H517.2 V1902.4 H519.1 M517.2 1901.8 H516.5 V1903.7 H519.1 M516.5 1902.5 H515.8 V1904.9 H519.1 M515.8 1903.2 H515.1 V1906.1 H519.1 M515.1 1895.8 H514.4 V1903.9 H515.1 M513.7 1881.1 H511.8 V1900.2 H514.4 M519.1 1908.6 H516.9 V1909.9 H519.1 M519.1 1911.1 H516.7 V1912.4 H519.1 M516.7 1911.8 H516.0 V1913.6 H519.1 M516.0 1912.4 H515.3 V1914.9 H519.1 M519.1 1916.1 H516.8 V1917.3 H519.1 M519.1 1918.6 H516.6 V1919.8 H519.1 M516.8 1916.7 H515.9 V1919.2 H516.6 M519.1 1921.1 H516.4 V1922.3 H519.1 M515.9 1918.1 H515.2 V1921.7 H516.4 M515.2 1919.6 H514.5 V1923.6 H519.1 M519.1 1924.8 H516.9 V1926.1 H519.1 M514.5 1920.3 H513.8 V1925.5 H516.9 M515.3 1913.1 H512.5 V1921.9 H513.8 M516.9 1909.3 H511.8 V1920.5 H512.5 M519.1 1928.5 H516.1 V1929.8 H519.1 M519.1 1927.3 H515.4 V1929.2 H516.1 M515.4 1928.6 H514.7 V1931.0 H519.1 M511.8 1919.9 H511.1 V1929.3 H514.7 M511.1 1923.9 H510.4 V1932.3 H519.1 M519.1 1936.0 H516.2 V1937.3 H519.1 M519.1 1934.8 H515.5 V1936.7 H516.2 M519.1 1933.5 H514.8 V1936.1 H515.5 M519.1 1938.5 H516.1 V1939.7 H519.1 M519.1 1941.0 H515.9 V1942.2 H519.1 M515.9 1941.6 H515.2 V1943.5 H519.1 M516.1 1939.1 H514.1 V1942.3 H515.2 M514.1 1941.2 H513.4 V1944.7 H519.1 M514.8 1935.5 H512.7 V1942.0 H513.4 M519.1 1946.0 H515.9 V1947.2 H519.1 M519.1 1948.5 H516.1 V1949.7 H519.1 M519.1 1952.2 H516.3 V1953.4 H519.1 M516.3 1952.8 H515.6 V1954.7 H519.1 M519.1 1950.9 H514.9 V1953.5 H515.6 M516.1 1949.1 H513.2 V1953.0 H514.9 M515.9 1946.6 H512.3 V1951.9 H513.2 M519.1 1955.9 H516.1 V1957.2 H519.1 M516.1 1956.6 H514.9 V1958.4 H519.1 M512.3 1951.0 H510.5 V1957.2 H514.9 M510.5 1953.5 H509.8 V1959.7 H519.1 M512.7 1940.2 H508.9 V1954.4 H509.8 M510.4 1925.0 H506.5 V1952.2 H508.9 M519.1 1907.4 H505.8 V1948.9 H506.5 M519.1 1962.2 H515.6 V1963.4 H519.1 M519.1 1960.9 H513.9 V1962.8 H515.6 M513.9 1962.2 H513.2 V1964.6 H519.1 M513.2 1962.9 H512.5 V1965.9 H519.1 M512.5 1963.6 H511.8 V1967.1 H519.1 M519.1 1968.4 H515.0 V1969.6 H519.1 M515.0 1969.0 H514.3 V1970.9 H519.1 M511.8 1964.4 H511.0 V1969.7 H514.3 M519.1 1973.4 H514.5 V1974.6 H519.1 M519.1 1972.1 H513.8 V1974.0 H514.5 M511.0 1966.8 H510.3 V1973.4 H513.8 M519.1 1977.1 H515.1 V1978.3 H519.1 M519.1 1979.6 H515.4 V1980.8 H519.1 M515.4 1980.2 H514.4 V1982.1 H519.1 M515.1 1977.7 H513.4 V1980.9 H514.4 M519.1 1975.8 H511.5 V1979.8 H513.4 M510.3 1969.3 H507.6 V1979.3 H511.5 M505.8 1948.7 H497.2 V1975.2 H507.6 M519.1 1984.6 H515.0 V1985.8 H519.1 M519.1 1983.3 H514.3 V1985.2 H515.0 M519.1 1988.3 H514.4 V1989.5 H519.1 M519.1 1987.0 H513.7 V1988.9 H514.4 M514.3 1984.6 H512.0 V1988.4 H513.7 M519.1 1992.0 H514.3 V1993.3 H519.1 M514.3 1992.7 H513.6 V1994.5 H519.1 M519.1 1990.8 H511.5 V1993.3 H513.6 M511.5 1992.8 H510.5 V1995.8 H519.1 M512.0 1986.8 H508.0 V1993.5 H510.5 M497.2 1966.4 H493.0 V1990.9 H508.0 M511.8 1894.9 H492.3 V1977.2 H493.0 M519.1 1998.2 H515.0 V1999.5 H519.1 M519.1 1997.0 H512.3 V1998.8 H515.0 M519.1 2002.0 H514.4 V2003.2 H519.1 M514.4 2002.6 H513.7 V2004.5 H519.1 M519.1 2000.7 H511.7 V2003.2 H513.7 M512.3 1998.2 H509.1 V2002.5 H511.7 M519.1 2008.2 H515.1 V2009.4 H519.1 M519.1 2007.0 H513.6 V2008.8 H515.1 M519.1 2005.7 H512.2 V2008.1 H513.6 M512.2 2007.5 H511.5 V2010.7 H519.1 M509.1 2000.3 H508.2 V2008.0 H511.5 M519.1 2011.9 H514.7 V2013.2 H519.1 M514.7 2012.5 H513.8 V2014.4 H519.1 M513.8 2013.1 H512.8 V2015.7 H519.1 M512.8 2013.7 H512.1 V2016.9 H519.1 M508.2 2002.4 H507.0 V2014.2 H512.1 M519.1 2018.2 H515.0 V2019.4 H519.1 M515.0 2018.8 H514.3 V2020.7 H519.1 M519.1 2023.1 H515.2 V2024.4 H519.1 M515.2 2023.7 H514.5 V2025.6 H519.1 M519.1 2021.9 H513.8 V2024.3 H514.5 M519.1 2028.1 H515.5 V2029.4 H519.1 M515.5 2028.7 H514.8 V2030.6 H519.1 M519.1 2026.9 H513.4 V2029.3 H514.8 M513.4 2028.6 H512.7 V2031.9 H519.1 M512.7 2029.1 H512.0 V2033.1 H519.1 M513.8 2023.6 H510.7 V2029.7 H512.0 M510.7 2026.5 H509.8 V2034.3 H519.1 M514.3 2019.3 H508.9 V2026.9 H509.8 M519.1 2035.6 H516.3 V2036.8 H519.1 M516.3 2036.2 H514.6 V2038.1 H519.1 M519.1 2039.3 H515.5 V2040.6 H519.1 M515.5 2039.9 H514.8 V2041.8 H519.1 M514.8 2040.5 H514.1 V2043.1 H519.1 M519.1 2044.3 H516.1 V2045.5 H519.1 M516.1 2044.9 H515.0 V2046.8 H519.1 M514.1 2041.1 H513.4 V2045.5 H515.0 M514.6 2036.8 H511.7 V2042.6 H513.4 M519.1 2049.3 H516.1 V2050.5 H519.1 M516.1 2049.9 H515.4 V2051.8 H519.1 M519.1 2048.0 H514.7 V2050.5 H515.4 M511.7 2040.2 H511.0 V2049.8 H514.7 M519.1 2054.3 H516.6 V2055.5 H519.1 M519.1 2053.0 H515.9 V2054.9 H516.6 M519.1 2059.2 H517.0 V2060.5 H519.1 M519.1 2061.7 H516.5 V2063.0 H519.1 M517.0 2059.8 H515.3 V2062.3 H516.5 M519.1 2058.0 H514.6 V2061.0 H515.3 M519.1 2056.7 H513.9 V2060.3 H514.6 M519.1 2065.5 H517.3 V2066.7 H519.1 M519.1 2064.2 H516.6 V2066.1 H517.3 M513.9 2059.5 H513.2 V2065.4 H516.6 M515.9 2054.2 H512.5 V2060.9 H513.2 M519.1 2067.9 H517.3 V2069.2 H519.1 M519.1 2072.9 H516.9 V2074.2 H519.1 M519.1 2071.7 H516.2 V2073.5 H516.9 M519.1 2070.4 H515.5 V2072.9 H516.2 M515.5 2072.2 H514.8 V2075.4 H519.1 M517.3 2068.5 H514.1 V2072.7 H514.8 M519.1 2077.9 H517.4 V2079.1 H519.1 M519.1 2076.7 H516.7 V2078.5 H517.4 M514.1 2071.2 H513.4 V2077.8 H516.7 M519.1 2081.6 H517.8 V2082.9 H519.1 M519.1 2080.4 H517.1 V2082.2 H517.8 M513.4 2072.6 H512.7 V2081.6 H517.1 M512.5 2058.4 H511.6 V2073.7 H512.7 M511.0 2041.7 H507.2 V2061.5 H511.6 M519.1 2085.4 H517.4 V2086.6 H519.1 M519.1 2089.1 H517.9 V2090.4 H519.1 M517.9 2089.7 H517.2 V2091.6 H519.1 M517.2 2090.3 H516.5 V2092.8 H519.1 M519.1 2087.9 H515.8 V2090.8 H516.5 M517.4 2086.0 H515.1 V2090.1 H515.8 M519.1 2084.1 H514.4 V2088.7 H515.1 M519.1 2096.6 H518.1 V2097.8 H519.1 M519.1 2095.3 H517.4 V2097.2 H518.1 M519.1 2094.1 H516.7 V2096.5 H517.4 M519.1 2100.3 H518.2 V2101.6 H519.1 M519.1 2099.1 H517.5 V2100.9 H518.2 M517.5 2100.2 H516.8 V2102.8 H519.1 M516.7 2095.8 H516.0 V2100.8 H516.8 M519.1 2104.0 H518.2 V2105.3 H519.1 M518.2 2104.6 H517.5 V2106.5 H519.1 M516.0 2097.8 H515.3 V2105.2 H517.5 M519.1 2107.8 H518.3 V2109.0 H519.1 M518.3 2108.4 H517.6 V2110.3 H519.1 M519.1 2111.5 H518.4 V2112.8 H519.1 M517.6 2109.0 H516.9 V2112.1 H518.4 M519.1 2114.0 H518.4 V2115.2 H519.1 M516.9 2110.0 H516.2 V2114.6 H518.4 M519.1 2117.7 H518.4 V2119.0 H519.1 M519.1 2116.5 H517.7 V2118.3 H518.4 M516.2 2111.1 H515.5 V2117.7 H517.7 M515.3 2099.1 H514.6 V2112.4 H515.5 M514.4 2087.9 H513.7 V2102.0 H514.6 M507.2 2046.9 H504.2 V2092.8 H513.7 M508.9 2024.3 H503.5 V2055.6 H504.2 M507.0 2004.0 H498.1 V2042.4 H503.5 M492.3 1965.7 H458.2 V2026.3 H498.1" fill="none" stroke="#111" stroke-width="1.05"/>
<text text-anchor="end" font-size="28" transform="translate(555.1 2134.4) rotate(-55)">SUDHL10_3</text>
<text text-anchor="end" font-size="28" transform="translate(598.7 2134.4) rotate(-55)">SUDHL10_1</text>
<text text-anchor="end" font-size="28" transform="translate(642.2 2134.4) rotate(-55)">SUDHL10_2</text>
<text text-anchor="end" font-size="28" transform="translate(702.2 2136.6) rotate(-55)">SUDHL10_OE_2</text>
<text text-anchor="end" font-size="28" transform="translate(744.7 2135.5) rotate(-55)">SUDHL10_OE_3</text>
<text text-anchor="end" font-size="28" transform="translate(788.2 2133.3) rotate(-55)">SUDHL10_OE_1</text>
<text font-size="28" x="748.6" y="2267.4">Group</text>
<rect x="750.6" y="2288" width="17" height="17" fill="#12D6DC" stroke="#000" stroke-width="1.5" />
<rect x="750.6" y="2324.4" width="17" height="17" fill="#F9877D" stroke="#000" stroke-width="1.5" />
<text font-size="28" x="783" y="2307.8">SUDHL10 WT</text>
<text font-size="28" x="783" y="2344.5">SUDHL10 <tspan font-style="italic">ZCCHC7</tspan>-OE</text>
<rect x="980.9" y="1792.1" width="130.7" height="20.3" fill="#12D6DC" />
<rect x="1111.3" y="1792.1" width="130.4" height="20.3" fill="#F9877D" />
<rect x="980.9" y="1817.3" width="43.8" height="30.2" fill="#FAFA55" />
<rect x="1024.4" y="1817.3" width="43.8" height="30.2" fill="#FAFA50" />
<rect x="1067.9" y="1817.3" width="43.8" height="30.2" fill="#FAFA50" />
<rect x="1111.3" y="1817.3" width="43.8" height="30.2" fill="#4444FF" />
<rect x="1154.8" y="1817.3" width="43.8" height="30.2" fill="#4242FF" />
<rect x="1198.3" y="1817.3" width="43.8" height="30.2" fill="#4848FF" />
<text font-size="28" x="1253.9" y="1842.1">CBFA2T3</text>
<rect x="980.9" y="1847.2" width="43.8" height="30.2" fill="#FAFA55" />
<rect x="1024.4" y="1847.2" width="43.8" height="30.2" fill="#F9F945" />
<rect x="1067.9" y="1847.2" width="43.8" height="30.2" fill="#FAFA50" />
<rect x="1111.3" y="1847.2" width="43.8" height="30.2" fill="#4A4AFF" />
<rect x="1154.8" y="1847.2" width="43.8" height="30.2" fill="#3A3AFF" />
<rect x="1198.3" y="1847.2" width="43.8" height="30.2" fill="#5252FF" />
<text font-size="28" x="1253.9" y="1872">TRAF3</text>
<rect x="980.9" y="1877.1" width="43.8" height="30.2" fill="#FAFA55" />
<rect x="1024.4" y="1877.1" width="43.8" height="30.2" fill="#FAFA4C" />
<rect x="1067.9" y="1877.1" width="43.8" height="30.2" fill="#FAFA50" />
<rect x="1111.3" y="1877.1" width="43.8" height="30.2" fill="#6464FF" />
<rect x="1154.8" y="1877.1" width="43.8" height="30.2" fill="#3E3EFF" />
<rect x="1198.3" y="1877.1" width="43.8" height="30.2" fill="#3232FF" />
<text font-weight="bold" font-size="28" x="1253.9" y="1901.9">IKZF3</text>
<rect x="980.9" y="1907.1" width="43.8" height="30.2" fill="#FAFA55" />
<rect x="1024.4" y="1907.1" width="43.8" height="30.2" fill="#F9F93C" />
<rect x="1067.9" y="1907.1" width="43.8" height="30.2" fill="#FBFB62" />
<rect x="1111.3" y="1907.1" width="43.8" height="30.2" fill="#4A4AFF" />
<rect x="1154.8" y="1907.1" width="43.8" height="30.2" fill="#6262FF" />
<rect x="1198.3" y="1907.1" width="43.8" height="30.2" fill="#3838FF" />
<text font-size="28" x="1253.9" y="1931.9">ZMYM3</text>
<rect x="980.9" y="1937" width="43.8" height="30.2" fill="#F9F942" />
<rect x="1024.4" y="1937" width="43.8" height="30.2" fill="#FBFB6A" />
<rect x="1067.9" y="1937" width="43.8" height="30.2" fill="#FAFA55" />
<rect x="1111.3" y="1937" width="43.8" height="30.2" fill="#5E5EFF" />
<rect x="1154.8" y="1937" width="43.8" height="30.2" fill="#3232FF" />
<rect x="1198.3" y="1937" width="43.8" height="30.2" fill="#4E4EFF" />
<text font-size="28" x="1253.9" y="1961.8">CTSD</text>
<rect x="980.9" y="1966.9" width="43.8" height="30.2" fill="#FAFA58" />
<rect x="1024.4" y="1966.9" width="43.8" height="30.2" fill="#FAFA55" />
<rect x="1067.9" y="1966.9" width="43.8" height="30.2" fill="#FAFA50" />
<rect x="1111.3" y="1966.9" width="43.8" height="30.2" fill="#1212FF" />
<rect x="1154.8" y="1966.9" width="43.8" height="30.2" fill="#6262FF" />
<rect x="1198.3" y="1966.9" width="43.8" height="30.2" fill="#7474FF" />
<text font-size="28" x="1253.9" y="1991.7">BANK1</text>
<rect x="980.9" y="1996.8" width="43.8" height="30.2" fill="#FAFA58" />
<rect x="1024.4" y="1996.8" width="43.8" height="30.2" fill="#FBFB66" />
<rect x="1067.9" y="1996.8" width="43.8" height="30.2" fill="#FAFA50" />
<rect x="1111.3" y="1996.8" width="43.8" height="30.2" fill="#1212FF" />
<rect x="1154.8" y="1996.8" width="43.8" height="30.2" fill="#7A7AFF" />
<rect x="1198.3" y="1996.8" width="43.8" height="30.2" fill="#5252FF" />
<text font-size="28" x="1253.9" y="2021.6">PHLPP1</text>
<rect x="980.9" y="2026.7" width="43.8" height="30.2" fill="#FBFB62" />
<rect x="1024.4" y="2026.7" width="43.8" height="30.2" fill="#FCFC18" />
<rect x="1067.9" y="2026.7" width="43.8" height="30.2" fill="#FDFD84" />
<rect x="1111.3" y="2026.7" width="43.8" height="30.2" fill="#3232FF" />
<rect x="1154.8" y="2026.7" width="43.8" height="30.2" fill="#9494FF" />
<rect x="1198.3" y="2026.7" width="43.8" height="30.2" fill="#3232FF" />
<text font-size="28" x="1253.9" y="2051.5">IRF5</text>
<rect x="980.9" y="2056.7" width="43.8" height="30.2" fill="#FCFC70" />
<rect x="1024.4" y="2056.7" width="43.8" height="30.2" fill="#FCFC6C" />
<rect x="1067.9" y="2056.7" width="43.8" height="30.2" fill="#FAFA14" />
<rect x="1111.3" y="2056.7" width="43.8" height="30.2" fill="#2A2AFF" />
<rect x="1154.8" y="2056.7" width="43.8" height="30.2" fill="#6262FF" />
<rect x="1198.3" y="2056.7" width="43.8" height="30.2" fill="#6060FF" />
<text font-size="28" x="1253.9" y="2081.5">PKMYT1</text>
<rect x="980.9" y="2086.6" width="43.8" height="30.2" fill="#FCFC72" />
<rect x="1024.4" y="2086.6" width="43.8" height="30.2" fill="#FDFD90" />
<rect x="1067.9" y="2086.6" width="43.8" height="30.2" fill="#FAFA14" />
<rect x="1111.3" y="2086.6" width="43.8" height="30.2" fill="#0404FF" />
<rect x="1154.8" y="2086.6" width="43.8" height="30.2" fill="#A2A2FF" />
<rect x="1198.3" y="2086.6" width="43.8" height="30.2" fill="#6262FF" />
<text font-size="28" x="1253.9" y="2111.4">MYSM1</text>
<rect x="980.9" y="2116.5" width="43.8" height="30.2" fill="#1414FF" />
<rect x="1024.4" y="2116.5" width="43.8" height="30.2" fill="#4444FF" />
<rect x="1067.9" y="2116.5" width="43.8" height="30.2" fill="#8282FF" />
<rect x="1111.3" y="2116.5" width="43.8" height="30.2" fill="#FAFA52" />
<rect x="1154.8" y="2116.5" width="43.8" height="30.2" fill="#F9F934" />
<rect x="1198.3" y="2116.5" width="43.8" height="30.2" fill="#FCFC60" />
<text font-size="28" x="1253.9" y="2141.3">RGS13</text>
<rect x="980.9" y="2146.4" width="43.8" height="30.2" fill="#3A3AFF" />
<rect x="1024.4" y="2146.4" width="43.8" height="30.2" fill="#3434FF" />
<rect x="1067.9" y="2146.4" width="43.8" height="30.2" fill="#7272FF" />
<rect x="1111.3" y="2146.4" width="43.8" height="30.2" fill="#F9F934" />
<rect x="1154.8" y="2146.4" width="43.8" height="30.2" fill="#FCFC62" />
<rect x="1198.3" y="2146.4" width="43.8" height="30.2" fill="#FCFC5E" />
<text font-size="28" x="1253.9" y="2171.2">PTTG1</text>
<rect x="980.9" y="2176.3" width="43.8" height="30.2" fill="#4A4AFF" />
<rect x="1024.4" y="2176.3" width="43.8" height="30.2" fill="#3E3EFF" />
<rect x="1067.9" y="2176.3" width="43.8" height="30.2" fill="#4444FF" />
<rect x="1111.3" y="2176.3" width="43.8" height="30.2" fill="#FAFA52" />
<rect x="1154.8" y="2176.3" width="43.8" height="30.2" fill="#FCFC62" />
<rect x="1198.3" y="2176.3" width="43.8" height="30.2" fill="#F9F942" />
<text font-size="28" x="1253.9" y="2201.1">TCL1A</text>
<path d="M1056.8 1773.8 L1056.8 1701.2 L1166.3 1701.2 L1166.3 1773.2 M1024.4 1782.0 L1024.4 1773.8 L1089.8 1773.8 L1089.8 1790.5 M1002.5 1790.5 L1002.5 1782.0 L1046.3 1782.0 L1046.3 1790.5 M1132.9 1790.5 L1132.9 1773.2 L1199.0 1773.2 L1199.0 1779.7 M1176.7 1790.5 L1176.7 1779.7 L1220.5 1779.7 L1220.5 1790.5 M959.0 2043.5 L891.7 2043.5 L891.7 2153.3 L968.8 2153.3 M964.6 2001.3 L959.0 2001.3 L959.0 2086.3 L972.8 2086.3 M980.9 2071.6 L972.8 2071.6 L972.8 2101.7 L980.9 2101.7 M968.8 1960.5 L964.6 1960.5 L964.6 2041.2 L980.9 2041.2 M972.8 1923.5 L968.8 1923.5 L968.8 1996.4 L975.1 1996.4 M980.9 1982.4 L975.1 1982.4 L975.1 2011.8 L980.9 2011.8 M975.1 1895.1 L972.8 1895.1 L972.8 1951.3 L980.9 1951.3 M977.0 1869.6 L975.1 1869.6 L975.1 1921.9 L980.9 1921.9 M978.3 1846.7 L977.0 1846.7 L977.0 1892.5 L980.9 1892.5 M980.9 1832.3 L978.3 1832.3 L978.3 1862.1 L980.9 1862.1 M980.9 2131.1 L968.8 2131.1 L968.8 2176.2 L974.4 2176.2 M980.9 2161.2 L974.4 2161.2 L974.4 2190.9 L980.9 2190.9" fill="none" stroke="#111" stroke-width="1.5"/>
<text font-size="28" textLength="244.5" lengthAdjust="spacingAndGlyphs" x="1121.6" y="2270">Relative abundance</text>
<defs><linearGradient id="gby" x1="0" x2="1" y1="0" y2="0"><stop offset="0" stop-color="#0000FF"/><stop offset="0.08" stop-color="#0A0AFF"/><stop offset="0.47" stop-color="#FFFFFF"/><stop offset="0.5" stop-color="#FFFFFF"/><stop offset="0.92" stop-color="#FAFA14"/><stop offset="1" stop-color="#FFFF00"/></linearGradient></defs>
<rect x="1126" y="2288.7" width="241.3" height="20.7" fill="url(#gby)" />
<text font-size="28" x="1123.4" y="2340">-1.5</text>
<text text-anchor="middle" font-size="28" x="1247.3" y="2340">0</text>
<text text-anchor="end" font-size="28" x="1366.2" y="2340">1.5</text>
</g>
<g id="panel-h">
<text font-weight="bold" font-size="35.5" x="1411" y="1712.5">h</text>
<text font-size="27.6" x="1527" y="1759.3">Group</text>
<rect x="1620.3" y="1738.5" width="31.9" height="24" fill="#9A9A9A" stroke="#43434a" stroke-width="1.4" />
<rect x="1652.2" y="1738.5" width="31.9" height="24" fill="#9A9A9A" stroke="#43434a" stroke-width="1.4" />
<rect x="1684.1" y="1738.5" width="31.9" height="24" fill="#9A9A9A" stroke="#43434a" stroke-width="1.4" />
<rect x="1716.1" y="1738.5" width="31.9" height="24" fill="#E07BB9" stroke="#43434a" stroke-width="1.4" />
<rect x="1748" y="1738.5" width="31.9" height="24" fill="#E07BB9" stroke="#43434a" stroke-width="1.4" />
<rect x="1779.9" y="1738.5" width="31.9" height="24" fill="#E07BB9" stroke="#43434a" stroke-width="1.4" />
<rect x="1620.3" y="1768.8" width="31.9" height="29.9" fill="#5B80CC" stroke="#43434a" stroke-width="1.4" />
<rect x="1652.2" y="1768.8" width="31.9" height="29.9" fill="#6F92D4" stroke="#43434a" stroke-width="1.4" />
<rect x="1684.1" y="1768.8" width="31.9" height="29.9" fill="#D0D8EE" stroke="#43434a" stroke-width="1.4" />
<rect x="1716.1" y="1768.8" width="31.9" height="29.9" fill="#F55F62" stroke="#43434a" stroke-width="1.4" />
<rect x="1748" y="1768.8" width="31.9" height="29.9" fill="#F8B4B6" stroke="#43434a" stroke-width="1.4" />
<rect x="1779.9" y="1768.8" width="31.9" height="29.9" fill="#F6787A" stroke="#43434a" stroke-width="1.4" />
<text font-size="28" x="1821.2" y="1795.9">CD19</text>
<rect x="1620.3" y="1798.6" width="31.9" height="29.9" fill="#3F5FBE" stroke="#43434a" stroke-width="1.4" />
<rect x="1652.2" y="1798.6" width="31.9" height="29.9" fill="#F0E8EA" stroke="#43434a" stroke-width="1.4" />
<rect x="1684.1" y="1798.6" width="31.9" height="29.9" fill="#8BA3DA" stroke="#43434a" stroke-width="1.4" />
<rect x="1716.1" y="1798.6" width="31.9" height="29.9" fill="#F55F62" stroke="#43434a" stroke-width="1.4" />
<rect x="1748" y="1798.6" width="31.9" height="29.9" fill="#F79A9C" stroke="#43434a" stroke-width="1.4" />
<rect x="1779.9" y="1798.6" width="31.9" height="29.9" fill="#F79A9C" stroke="#43434a" stroke-width="1.4" />
<text font-size="28" x="1821.2" y="1825.6">CD37</text>
<rect x="1620.3" y="1828.5" width="31.9" height="29.9" fill="#3F5FBE" stroke="#43434a" stroke-width="1.4" />
<rect x="1652.2" y="1828.5" width="31.9" height="29.9" fill="#F3E6E8" stroke="#43434a" stroke-width="1.4" />
<rect x="1684.1" y="1828.5" width="31.9" height="29.9" fill="#A0B3DF" stroke="#43434a" stroke-width="1.4" />
<rect x="1716.1" y="1828.5" width="31.9" height="29.9" fill="#F05050" stroke="#43434a" stroke-width="1.4" />
<rect x="1748" y="1828.5" width="31.9" height="29.9" fill="#F6CCCE" stroke="#43434a" stroke-width="1.4" />
<rect x="1779.9" y="1828.5" width="31.9" height="29.9" fill="#F6A8AA" stroke="#43434a" stroke-width="1.4" />
<text font-size="28" x="1821.2" y="1855.3">HDAC7</text>
<rect x="1620.3" y="1858.3" width="31.9" height="29.9" fill="#D4DAEE" stroke="#43434a" stroke-width="1.4" />
<rect x="1652.2" y="1858.3" width="31.9" height="29.9" fill="#7694D4" stroke="#43434a" stroke-width="1.4" />
<rect x="1684.1" y="1858.3" width="31.9" height="29.9" fill="#4C6FC4" stroke="#43434a" stroke-width="1.4" />
<rect x="1716.1" y="1858.3" width="31.9" height="29.9" fill="#F67678" stroke="#43434a" stroke-width="1.4" />
<rect x="1748" y="1858.3" width="31.9" height="29.9" fill="#F67678" stroke="#43434a" stroke-width="1.4" />
<rect x="1779.9" y="1858.3" width="31.9" height="29.9" fill="#F6787A" stroke="#43434a" stroke-width="1.4" />
<text font-size="28" x="1821.2" y="1885">CD40</text>
<rect x="1620.3" y="1888.2" width="31.9" height="29.9" fill="#AABAE2" stroke="#43434a" stroke-width="1.4" />
<rect x="1652.2" y="1888.2" width="31.9" height="29.9" fill="#8BA3DA" stroke="#43434a" stroke-width="1.4" />
<rect x="1684.1" y="1888.2" width="31.9" height="29.9" fill="#4C6FC4" stroke="#43434a" stroke-width="1.4" />
<rect x="1716.1" y="1888.2" width="31.9" height="29.9" fill="#F55F62" stroke="#43434a" stroke-width="1.4" />
<rect x="1748" y="1888.2" width="31.9" height="29.9" fill="#F68A8C" stroke="#43434a" stroke-width="1.4" />
<rect x="1779.9" y="1888.2" width="31.9" height="29.9" fill="#F68A8C" stroke="#43434a" stroke-width="1.4" />
<text font-size="28" x="1821.2" y="1914.7">CXCR4</text>
<rect x="1620.3" y="1918" width="31.9" height="29.9" fill="#6285CE" stroke="#43434a" stroke-width="1.4" />
<rect x="1652.2" y="1918" width="31.9" height="29.9" fill="#6A8CD2" stroke="#43434a" stroke-width="1.4" />
<rect x="1684.1" y="1918" width="31.9" height="29.9" fill="#8BA3DA" stroke="#43434a" stroke-width="1.4" />
<rect x="1716.1" y="1918" width="31.9" height="29.9" fill="#F69092" stroke="#43434a" stroke-width="1.4" />
<rect x="1748" y="1918" width="31.9" height="29.9" fill="#F5686A" stroke="#43434a" stroke-width="1.4" />
<rect x="1779.9" y="1918" width="31.9" height="29.9" fill="#F5686A" stroke="#43434a" stroke-width="1.4" />
<text font-size="28" x="1821.2" y="1944.3">PIK3CD</text>
<rect x="1620.3" y="1947.9" width="31.9" height="29.9" fill="#6285CE" stroke="#43434a" stroke-width="1.4" />
<rect x="1652.2" y="1947.9" width="31.9" height="29.9" fill="#7694D4" stroke="#43434a" stroke-width="1.4" />
<rect x="1684.1" y="1947.9" width="31.9" height="29.9" fill="#7A98D6" stroke="#43434a" stroke-width="1.4" />
<rect x="1716.1" y="1947.9" width="31.9" height="29.9" fill="#F66E70" stroke="#43434a" stroke-width="1.4" />
<rect x="1748" y="1947.9" width="31.9" height="29.9" fill="#F66E70" stroke="#43434a" stroke-width="1.4" />
<rect x="1779.9" y="1947.9" width="31.9" height="29.9" fill="#F67678" stroke="#43434a" stroke-width="1.4" />
<text font-size="28" x="1821.2" y="1974">CD81</text>
<rect x="1620.3" y="1977.8" width="31.9" height="29.9" fill="#7A98D6" stroke="#43434a" stroke-width="1.4" />
<rect x="1652.2" y="1977.8" width="31.9" height="29.9" fill="#6A8CD2" stroke="#43434a" stroke-width="1.4" />
<rect x="1684.1" y="1977.8" width="31.9" height="29.9" fill="#6285CE" stroke="#43434a" stroke-width="1.4" />
<rect x="1716.1" y="1977.8" width="31.9" height="29.9" fill="#F67476" stroke="#43434a" stroke-width="1.4" />
<rect x="1748" y="1977.8" width="31.9" height="29.9" fill="#F67476" stroke="#43434a" stroke-width="1.4" />
<rect x="1779.9" y="1977.8" width="31.9" height="29.9" fill="#F66E70" stroke="#43434a" stroke-width="1.4" />
<text font-size="28" x="1821.2" y="2003.7">CD22</text>
<rect x="1620.3" y="2007.6" width="31.9" height="29.9" fill="#7A98D6" stroke="#43434a" stroke-width="1.4" />
<rect x="1652.2" y="2007.6" width="31.9" height="29.9" fill="#6A8CD2" stroke="#43434a" stroke-width="1.4" />
<rect x="1684.1" y="2007.6" width="31.9" height="29.9" fill="#6285CE" stroke="#43434a" stroke-width="1.4" />
<rect x="1716.1" y="2007.6" width="31.9" height="29.9" fill="#F67678" stroke="#43434a" stroke-width="1.4" />
<rect x="1748" y="2007.6" width="31.9" height="29.9" fill="#F5686A" stroke="#43434a" stroke-width="1.4" />
<rect x="1779.9" y="2007.6" width="31.9" height="29.9" fill="#F66E70" stroke="#43434a" stroke-width="1.4" />
<text font-size="28" x="1821.2" y="2033.4">MS4A1</text>
<rect x="1620.3" y="2037.5" width="31.9" height="29.9" fill="#6285CE" stroke="#43434a" stroke-width="1.4" />
<rect x="1652.2" y="2037.5" width="31.9" height="29.9" fill="#A5B6E0" stroke="#43434a" stroke-width="1.4" />
<rect x="1684.1" y="2037.5" width="31.9" height="29.9" fill="#5B80CC" stroke="#43434a" stroke-width="1.4" />
<rect x="1716.1" y="2037.5" width="31.9" height="29.9" fill="#F79698" stroke="#43434a" stroke-width="1.4" />
<rect x="1748" y="2037.5" width="31.9" height="29.9" fill="#F79092" stroke="#43434a" stroke-width="1.4" />
<rect x="1779.9" y="2037.5" width="31.9" height="29.9" fill="#F25558" stroke="#43434a" stroke-width="1.4" />
<text font-size="28" x="1821.2" y="2063.1">MTOR</text>
<rect x="1620.3" y="2067.3" width="31.9" height="29.9" fill="#5B80CC" stroke="#43434a" stroke-width="1.4" />
<rect x="1652.2" y="2067.3" width="31.9" height="29.9" fill="#9DB0DE" stroke="#43434a" stroke-width="1.4" />
<rect x="1684.1" y="2067.3" width="31.9" height="29.9" fill="#6285CE" stroke="#43434a" stroke-width="1.4" />
<rect x="1716.1" y="2067.3" width="31.9" height="29.9" fill="#F25558" stroke="#43434a" stroke-width="1.4" />
<rect x="1748" y="2067.3" width="31.9" height="29.9" fill="#F6CCCE" stroke="#43434a" stroke-width="1.4" />
<rect x="1779.9" y="2067.3" width="31.9" height="29.9" fill="#F55F62" stroke="#43434a" stroke-width="1.4" />
<text font-size="28" x="1821.2" y="2092.8">JAK1</text>
<rect x="1620.3" y="2097.2" width="31.9" height="29.9" fill="#E6E6F0" stroke="#43434a" stroke-width="1.4" />
<rect x="1652.2" y="2097.2" width="31.9" height="29.9" fill="#5B80CC" stroke="#43434a" stroke-width="1.4" />
<rect x="1684.1" y="2097.2" width="31.9" height="29.9" fill="#AABAE2" stroke="#43434a" stroke-width="1.4" />
<rect x="1716.1" y="2097.2" width="31.9" height="29.9" fill="#F55F62" stroke="#43434a" stroke-width="1.4" />
<rect x="1748" y="2097.2" width="31.9" height="29.9" fill="#F25050" stroke="#43434a" stroke-width="1.4" />
<rect x="1779.9" y="2097.2" width="31.9" height="29.9" fill="#7694D4" stroke="#43434a" stroke-width="1.4" />
<text font-size="28" x="1821.2" y="2122.5">CD79B</text>
<rect x="1620.3" y="2127" width="31.9" height="29.9" fill="#F6B8BA" stroke="#43434a" stroke-width="1.4" />
<rect x="1652.2" y="2127" width="31.9" height="29.9" fill="#DCE0F0" stroke="#43434a" stroke-width="1.4" />
<rect x="1684.1" y="2127" width="31.9" height="29.9" fill="#2840A8" stroke="#43434a" stroke-width="1.4" />
<rect x="1716.1" y="2127" width="31.9" height="29.9" fill="#F67678" stroke="#43434a" stroke-width="1.4" />
<rect x="1748" y="2127" width="31.9" height="29.9" fill="#F79698" stroke="#43434a" stroke-width="1.4" />
<rect x="1779.9" y="2127" width="31.9" height="29.9" fill="#F6CCCE" stroke="#43434a" stroke-width="1.4" />
<text font-size="28" x="1821.2" y="2152.2">HDAC3</text>
<rect x="1620.3" y="2156.8" width="31.9" height="29.9" fill="#F79698" stroke="#43434a" stroke-width="1.4" />
<rect x="1652.2" y="2156.8" width="31.9" height="29.9" fill="#DCE0F0" stroke="#43434a" stroke-width="1.4" />
<rect x="1684.1" y="2156.8" width="31.9" height="29.9" fill="#3F5FBE" stroke="#43434a" stroke-width="1.4" />
<rect x="1716.1" y="2156.8" width="31.9" height="29.9" fill="#D4DAEE" stroke="#43434a" stroke-width="1.4" />
<rect x="1748" y="2156.8" width="31.9" height="29.9" fill="#EE4444" stroke="#43434a" stroke-width="1.4" />
<rect x="1779.9" y="2156.8" width="31.9" height="29.9" fill="#D8DCEE" stroke="#43434a" stroke-width="1.4" />
<text font-size="28" x="1821.2" y="2181.9">PIK3CA</text>
<rect x="1620.3" y="2195.4" width="31.9" height="29.9" fill="#F46062" stroke="#43434a" stroke-width="1.4" />
<rect x="1652.2" y="2195.4" width="31.9" height="29.9" fill="#D8DEF0" stroke="#43434a" stroke-width="1.4" />
<rect x="1684.1" y="2195.4" width="31.9" height="29.9" fill="#D8DEF0" stroke="#43434a" stroke-width="1.4" />
<rect x="1716.1" y="2195.4" width="31.9" height="29.9" fill="#2F4FB0" stroke="#43434a" stroke-width="1.4" />
<rect x="1748" y="2195.4" width="31.9" height="29.9" fill="#F6D6D8" stroke="#43434a" stroke-width="1.4" />
<rect x="1779.9" y="2195.4" width="31.9" height="29.9" fill="#F46668" stroke="#43434a" stroke-width="1.4" />
<text font-size="28" x="1821.2" y="2220.7">HDAC2</text>
<rect x="1620.3" y="2225.2" width="31.9" height="29.9" fill="#EEE8EC" stroke="#43434a" stroke-width="1.4" />
<rect x="1652.2" y="2225.2" width="31.9" height="29.9" fill="#F25558" stroke="#43434a" stroke-width="1.4" />
<rect x="1684.1" y="2225.2" width="31.9" height="29.9" fill="#F25A5C" stroke="#43434a" stroke-width="1.4" />
<rect x="1716.1" y="2225.2" width="31.9" height="29.9" fill="#9BB0DE" stroke="#43434a" stroke-width="1.4" />
<rect x="1748" y="2225.2" width="31.9" height="29.9" fill="#8FA6DA" stroke="#43434a" stroke-width="1.4" />
<rect x="1779.9" y="2225.2" width="31.9" height="29.9" fill="#4C6FC4" stroke="#43434a" stroke-width="1.4" />
<text font-size="28" x="1821.2" y="2250.6">BTK</text>
<rect x="1620.3" y="2255.1" width="31.9" height="29.9" fill="#E8362E" stroke="#43434a" stroke-width="1.4" />
<rect x="1652.2" y="2255.1" width="31.9" height="29.9" fill="#F6C8CA" stroke="#43434a" stroke-width="1.4" />
<rect x="1684.1" y="2255.1" width="31.9" height="29.9" fill="#F6BEC0" stroke="#43434a" stroke-width="1.4" />
<rect x="1716.1" y="2255.1" width="31.9" height="29.9" fill="#5B80CC" stroke="#43434a" stroke-width="1.4" />
<rect x="1748" y="2255.1" width="31.9" height="29.9" fill="#C8D2EC" stroke="#43434a" stroke-width="1.4" />
<rect x="1779.9" y="2255.1" width="31.9" height="29.9" fill="#5B80CC" stroke="#43434a" stroke-width="1.4" />
<text font-size="28" x="1821.2" y="2280.4">PIK3CG</text>
<rect x="1620.3" y="2285" width="31.9" height="29.9" fill="#F25050" stroke="#43434a" stroke-width="1.4" />
<rect x="1652.2" y="2285" width="31.9" height="29.9" fill="#F68A8C" stroke="#43434a" stroke-width="1.4" />
<rect x="1684.1" y="2285" width="31.9" height="29.9" fill="#F6C0C2" stroke="#43434a" stroke-width="1.4" />
<rect x="1716.1" y="2285" width="31.9" height="29.9" fill="#F4DCDE" stroke="#43434a" stroke-width="1.4" />
<rect x="1748" y="2285" width="31.9" height="29.9" fill="#5B80CC" stroke="#43434a" stroke-width="1.4" />
<rect x="1779.9" y="2285" width="31.9" height="29.9" fill="#4468C0" stroke="#43434a" stroke-width="1.4" />
<text font-size="28" x="1821.2" y="2310.3">NFKB1</text>
<rect x="1620.3" y="2314.8" width="31.9" height="29.9" fill="#F25558" stroke="#43434a" stroke-width="1.4" />
<rect x="1652.2" y="2314.8" width="31.9" height="29.9" fill="#F47476" stroke="#43434a" stroke-width="1.4" />
<rect x="1684.1" y="2314.8" width="31.9" height="29.9" fill="#F68486" stroke="#43434a" stroke-width="1.4" />
<rect x="1716.1" y="2314.8" width="31.9" height="29.9" fill="#7694D4" stroke="#43434a" stroke-width="1.4" />
<rect x="1748" y="2314.8" width="31.9" height="29.9" fill="#6A8CD2" stroke="#43434a" stroke-width="1.4" />
<rect x="1779.9" y="2314.8" width="31.9" height="29.9" fill="#6285CE" stroke="#43434a" stroke-width="1.4" />
<text font-size="28" x="1821.2" y="2340.1">HDAC1</text>
<rect x="1620.3" y="2344.7" width="31.9" height="29.9" fill="#F46668" stroke="#43434a" stroke-width="1.4" />
<rect x="1652.2" y="2344.7" width="31.9" height="29.9" fill="#F05050" stroke="#43434a" stroke-width="1.4" />
<rect x="1684.1" y="2344.7" width="31.9" height="29.9" fill="#F6D0D2" stroke="#43434a" stroke-width="1.4" />
<rect x="1716.1" y="2344.7" width="31.9" height="29.9" fill="#BACAE8" stroke="#43434a" stroke-width="1.4" />
<rect x="1748" y="2344.7" width="31.9" height="29.9" fill="#5B80CC" stroke="#43434a" stroke-width="1.4" />
<rect x="1779.9" y="2344.7" width="31.9" height="29.9" fill="#5B80CC" stroke="#43434a" stroke-width="1.4" />
<text font-size="28" x="1821.2" y="2370">CD27</text>
<path d="M1556.6 2005.4 L1497.5 2005.4 M1593.5 1878.4 L1556.6 1878.4 L1556.6 2134.2 L1586.2 2134.2 M1609.9 1804.6 L1593.5 1804.6 L1593.5 1950.4 L1608.8 1950.4 M1617.9 1783.7 L1609.9 1783.7 L1609.9 1827.9 L1616.5 1827.9 M1617.9 1813.6 L1616.5 1813.6 L1616.5 1843.4 L1617.9 1843.4 M1616.5 1888.1 L1608.8 1888.1 L1608.8 2012.4 L1611.6 2012.4 M1617.9 1873.3 L1616.5 1873.3 L1616.5 1903.1 L1617.9 1903.1 M1617.9 1933.0 L1611.6 1933.0 L1611.6 2059.4 L1613.7 2059.4 M1613.7 1965.4 L1613.7 2066.3 M1617.9 1962.8 L1615.1 1962.8 L1615.1 2022.5 L1617.9 2022.5 M1617.9 1992.7 L1615.8 1992.7 M1617.9 2052.4 L1613.0 2052.4 L1613.0 2082.2 L1617.9 2082.2 M1617.9 2112.1 L1586.2 2112.1 L1586.2 2156.2 L1604.3 2156.2 M1617.9 2141.9 L1604.3 2141.9 L1604.3 2171.8 L1617.9 2171.8 M1497.5 2005.4 L1497.5 2239.6 L1547.9 2239.6 M1617.9 2210.3 L1547.9 2210.3 L1547.9 2269.2 L1589.7 2269.2 M1617.9 2240.2 L1589.7 2240.2 L1589.7 2296.4 L1601.2 2296.4 M1617.9 2270.0 L1601.2 2270.0 L1601.2 2322.1 L1608.8 2322.1 M1617.9 2299.9 L1608.8 2299.9 L1608.8 2345.1 L1612.3 2345.1 M1617.9 2329.7 L1612.3 2329.7 L1612.3 2359.6 L1617.9 2359.6" fill="none" stroke="#2a2a2a" stroke-width="1.8"/>
<text text-anchor="middle" font-size="28" textLength="361" lengthAdjust="spacingAndGlyphs" transform="translate(1474.8 2128.3) rotate(-90)">20 drug targets for lymphoma</text>
<text font-size="28" x="1437.2" y="2449.8">Group</text>
<rect x="1538.3" y="2409.8" width="16.6" height="16.6" fill="#9A9A9A" stroke="#000" stroke-width="1.5" />
<rect x="1538.3" y="2447.5" width="16.6" height="16.6" fill="#E07BB9" stroke="#000" stroke-width="1.5" />
<text font-size="28" x="1571.6" y="2427.6">SUDHL10 WT OPP+</text>
<text font-size="28" x="1571.6" y="2468.8">SUDHL10 <tspan font-style="italic">PAX5</tspan> TSS2<tspan font-size="16.3" dy="-8.5">Mut</tspan><tspan dy="8.5"> OPP+</tspan></text>
<text font-size="28" x="1436.5" y="2521.6">Z-score</text>
<defs><linearGradient id="gz" x1="0" x2="1" y1="0" y2="0"><stop offset="0" stop-color="#2F4FB0"/><stop offset="0.25" stop-color="#6285CE"/><stop offset="0.5" stop-color="#F0ECEE"/><stop offset="0.75" stop-color="#F4686A"/><stop offset="1" stop-color="#E0302A"/></linearGradient></defs>
<rect x="1555.6" y="2500.7" width="284.7" height="23.7" fill="url(#gz)" />
<text text-anchor="middle" font-size="28" x="1553.6" y="2551.4">-2</text>
<line x1="1626.8" y1="2500.7" x2="1626.8" y2="2504" stroke="#fff" stroke-width="1.2" opacity="0.7"/>
<line x1="1626.8" y1="2521" x2="1626.8" y2="2524.4" stroke="#fff" stroke-width="1.2" opacity="0.7"/>
<text text-anchor="middle" font-size="28" x="1624.8" y="2551.4">-1</text>
<line x1="1698" y1="2500.7" x2="1698" y2="2504" stroke="#fff" stroke-width="1.2" opacity="0.7"/>
<line x1="1698" y1="2521" x2="1698" y2="2524.4" stroke="#fff" stroke-width="1.2" opacity="0.7"/>
<text text-anchor="middle" font-size="28" x="1698" y="2551.4">0</text>
<line x1="1769.2" y1="2500.7" x2="1769.2" y2="2504" stroke="#fff" stroke-width="1.2" opacity="0.7"/>
<line x1="1769.2" y1="2521" x2="1769.2" y2="2524.4" stroke="#fff" stroke-width="1.2" opacity="0.7"/>
<text text-anchor="middle" font-size="28" x="1769.2" y="2551.4">1</text>
<text text-anchor="middle" font-size="28" x="1840.4" y="2551.4">2</text>
</g>
<g id="panel-g">
<text font-weight="bold" font-size="36" x="-1" y="2400.5">g</text>
<text text-anchor="middle" font-size="28" x="383" y="2457.3">SUDHL10 <tspan font-style="italic">ZCCHC7</tspan>-OE</text>
<text text-anchor="middle" font-size="28" x="665" y="2424.6">SUDHL10</text>
<text text-anchor="middle" font-size="28" x="665" y="2457.7">clones</text>
<line x1="211.7" y1="2469.8" x2="547.9" y2="2469.8" stroke="#4A72B8" stroke-width="3.4" />
<line x1="570" y1="2469.8" x2="742.8" y2="2469.8" stroke="#4A72B8" stroke-width="3.4" />
<line x1="209.7" y1="2484.8" x2="541" y2="2484.8" stroke="#E2EAF3" stroke-width="2.4" />
<line x1="577" y1="2484.8" x2="728" y2="2484.8" stroke="#E2EAF3" stroke-width="2.4" />
<defs><filter id="bl" x="-10%" y="-60%" width="120%" height="220%"><feGaussianBlur stdDeviation="3.4 2.7"/></filter><linearGradient id="gb1" x1="0" x2="1" y1="0" y2="1"><stop offset="0" stop-color="#CFCFCF"/><stop offset="1" stop-color="#D9D9D9"/></linearGradient><clipPath id="cb1"><rect x="161.3" y="2492.2" width="594.7" height="113.1"/></clipPath><clipPath id="cb2"><rect x="161.3" y="2619.6" width="594.7" height="86"/></clipPath></defs>
<rect x="161.3" y="2492.2" width="594.7" height="113.1" fill="url(#gb1)" />
<rect x="161.3" y="2619.6" width="594.7" height="86" fill="url(#gb1)" />
<g clip-path="url(#cb1)"><g filter="url(#bl)">
<rect x="205.9" y="2543.7" width="554.0" height="15.5" rx="8.5" ry="7.7" fill="#000" fill-opacity="0.16" transform="rotate(0.3 482.9 2551.4)"/>
<rect x="196.6" y="2535.5" width="80.6" height="20.9" rx="11.5" ry="10.5" fill="#000" fill-opacity="0.55" transform="rotate(2.5 236.9 2546.0)"/>
<rect x="202.8" y="2541.1" width="68.2" height="10.7" rx="5.9" ry="5.3" fill="#000" fill-opacity="0.69" transform="rotate(2.5 236.9 2546.4)"/>
<rect x="285.7" y="2537.7" width="59.3" height="25.9" rx="14.3" ry="13.0" fill="#000" fill-opacity="0.57" transform="rotate(0.5 315.3 2550.7)"/>
<rect x="291.9" y="2544.4" width="46.9" height="13.2" rx="7.3" ry="6.6" fill="#000" fill-opacity="0.71" transform="rotate(0.5 315.3 2551.0)"/>
<rect x="347.7" y="2537.6" width="70.9" height="27.6" rx="15.2" ry="13.8" fill="#000" fill-opacity="0.60" transform="rotate(0.0 383.1 2551.4)"/>
<rect x="353.8" y="2544.8" width="58.5" height="14.1" rx="7.7" ry="7.0" fill="#000" fill-opacity="0.75" transform="rotate(0.0 383.1 2551.8)"/>
<rect x="423.2" y="2539.3" width="65.1" height="24.3" rx="13.3" ry="12.1" fill="#000" fill-opacity="0.54" transform="rotate(0.5 455.7 2551.4)"/>
<rect x="429.4" y="2545.6" width="52.7" height="12.4" rx="6.8" ry="6.2" fill="#000" fill-opacity="0.68" transform="rotate(0.5 455.7 2551.8)"/>
<rect x="492.9" y="2543.4" width="69.0" height="18.4" rx="10.1" ry="9.2" fill="#000" fill-opacity="0.48" transform="rotate(0.0 527.4 2552.6)"/>
<rect x="499.1" y="2548.3" width="56.6" height="9.4" rx="5.2" ry="4.7" fill="#000" fill-opacity="0.60" transform="rotate(0.0 527.4 2553.0)"/>
<rect x="568.5" y="2545.0" width="61.2" height="15.9" rx="8.7" ry="7.9" fill="#000" fill-opacity="0.33" transform="rotate(0.0 599.1 2553.0)"/>
<rect x="574.7" y="2549.3" width="48.8" height="8.1" rx="4.5" ry="4.0" fill="#000" fill-opacity="0.41" transform="rotate(0.0 599.1 2553.4)"/>
<rect x="636.3" y="2539.7" width="57.3" height="14.2" rx="7.8" ry="7.1" fill="#000" fill-opacity="0.25" transform="rotate(-3.0 664.9 2546.8)"/>
<rect x="642.5" y="2543.5" width="44.9" height="7.2" rx="4.0" ry="3.6" fill="#000" fill-opacity="0.32" transform="rotate(-3.0 664.9 2547.2)"/>
<rect x="702.1" y="2541.2" width="59.3" height="13.4" rx="7.4" ry="6.7" fill="#000" fill-opacity="0.20" transform="rotate(0.5 731.8 2547.9)"/>
<rect x="708.3" y="2544.9" width="46.9" height="6.8" rx="3.8" ry="3.4" fill="#000" fill-opacity="0.25" transform="rotate(0.5 731.8 2548.3)"/>
</g></g>
<g clip-path="url(#cb2)"><g filter="url(#bl)">
<rect x="205.9" y="2652.5" width="554.0" height="13.2" rx="7.2" ry="6.6" fill="#000" fill-opacity="0.16" transform="rotate(0.6 482.9 2659.1)"/>
<rect x="196.6" y="2645.7" width="84.5" height="17.6" rx="9.7" ry="8.8" fill="#000" fill-opacity="0.54" transform="rotate(2.2 238.8 2654.5)"/>
<rect x="202.8" y="2650.4" width="72.1" height="8.9" rx="4.9" ry="4.5" fill="#000" fill-opacity="0.68" transform="rotate(2.2 238.8 2654.9)"/>
<rect x="291.5" y="2649.8" width="55.4" height="21.8" rx="12.0" ry="10.9" fill="#000" fill-opacity="0.55" transform="rotate(0.5 319.2 2660.7)"/>
<rect x="297.7" y="2655.5" width="43.0" height="11.1" rx="6.1" ry="5.5" fill="#000" fill-opacity="0.69" transform="rotate(0.5 319.2 2661.1)"/>
<rect x="351.5" y="2651.9" width="67.0" height="17.6" rx="9.7" ry="8.8" fill="#000" fill-opacity="0.48" transform="rotate(-1.5 385.0 2660.7)"/>
<rect x="357.7" y="2656.6" width="54.6" height="8.9" rx="4.9" ry="4.5" fill="#000" fill-opacity="0.60" transform="rotate(-1.5 385.0 2661.1)"/>
<rect x="427.1" y="2653.2" width="63.1" height="14.2" rx="7.8" ry="7.1" fill="#000" fill-opacity="0.33" transform="rotate(0.0 458.6 2660.3)"/>
<rect x="433.3" y="2657.1" width="50.8" height="7.2" rx="4.0" ry="3.6" fill="#000" fill-opacity="0.41" transform="rotate(0.0 458.6 2660.7)"/>
<rect x="500.7" y="2654.6" width="67.0" height="16.7" rx="9.2" ry="8.4" fill="#000" fill-opacity="0.54" transform="rotate(0.5 534.2 2663.0)"/>
<rect x="506.9" y="2659.1" width="54.6" height="8.5" rx="4.7" ry="4.3" fill="#000" fill-opacity="0.68" transform="rotate(0.5 534.2 2663.4)"/>
<rect x="572.3" y="2655.3" width="65.1" height="20.1" rx="11.0" ry="10.0" fill="#000" fill-opacity="0.60" transform="rotate(2.0 604.9 2665.3)"/>
<rect x="578.5" y="2660.6" width="52.7" height="10.2" rx="5.6" ry="5.1" fill="#000" fill-opacity="0.75" transform="rotate(2.0 604.9 2665.7)"/>
<path d="M649.0 2657.4 Q672.7 2648.4 696.4 2657.4" fill="none" stroke="#000" stroke-opacity="0.40" stroke-width="12.7" stroke-linecap="round"/>
<path d="M655.2 2657.8 Q672.7 2648.8 690.2 2657.8" fill="none" stroke="#000" stroke-opacity="0.49" stroke-width="6.5" stroke-linecap="round"/>
<rect x="706.0" y="2647.7" width="55.4" height="16.7" rx="9.2" ry="8.4" fill="#000" fill-opacity="0.44" transform="rotate(3.0 733.7 2656.0)"/>
<rect x="712.2" y="2652.2" width="43.0" height="8.5" rx="4.7" ry="4.3" fill="#000" fill-opacity="0.55" transform="rotate(3.0 733.7 2656.4)"/>
</g></g>
<text text-anchor="end" font-size="28" x="139.2" y="2557.9">70 kDa</text>
<path d="M147 2541 l12.2 7.6 l-12.2 7.6Z" fill="#000"/>
<text text-anchor="end" font-size="28" x="140.4" y="2652.3">55 kDa</text>
<path d="M149.5 2635.2 l12.2 7.6 l-12.2 7.6Z" fill="#000"/>
<text font-size="28" x="770.6" y="2557.2">Anti-ZCCHC7</text>
<text font-size="28" textLength="166.5" lengthAdjust="spacingAndGlyphs" x="770.6" y="2665">Anti-<tspan font-style="italic">β</tspan> tubulin</text>
</g>
</svg>
</body></html>
